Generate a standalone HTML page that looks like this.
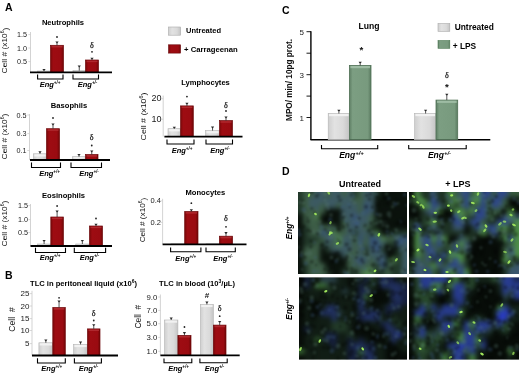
<!DOCTYPE html>
<html><head><meta charset="utf-8"><style>
html,body{margin:0;padding:0;background:#fff;}
svg{display:block;font-family:"Liberation Sans",sans-serif;filter:blur(0.35px);}
</style></head><body>
<svg width="520" height="374" viewBox="0 0 520 374">
<defs>
<linearGradient id="gr" x1="0" y1="0" x2="1" y2="0"><stop offset="0" stop-color="#780809"/><stop offset="0.2" stop-color="#9e0c12"/><stop offset="0.8" stop-color="#9a0b11"/><stop offset="1" stop-color="#700707"/></linearGradient>
<linearGradient id="gg" x1="0" y1="0" x2="1" y2="0"><stop offset="0" stop-color="#cfcfcf"/><stop offset="0.3" stop-color="#e2e2e2"/><stop offset="0.7" stop-color="#dadada"/><stop offset="1" stop-color="#c4c4c4"/></linearGradient>
<linearGradient id="gn" x1="0" y1="0" x2="1" y2="0"><stop offset="0" stop-color="#5e7e64"/><stop offset="0.15" stop-color="#7c9e82"/><stop offset="0.85" stop-color="#789a7e"/><stop offset="1" stop-color="#5a7a60"/></linearGradient>
<filter id="fb" x="-5%" y="-5%" width="110%" height="110%" color-interpolation-filters="sRGB"><feGaussianBlur stdDeviation="2.6"/></filter>
<filter id="ft" x="-5%" y="-5%" width="110%" height="110%" color-interpolation-filters="sRGB"><feGaussianBlur stdDeviation="1.3"/></filter>
<filter id="fs" x="-50%" y="-50%" width="200%" height="200%" color-interpolation-filters="sRGB"><feGaussianBlur stdDeviation="0.7"/></filter>
<clipPath id="cTL"><rect x="298" y="192" width="109" height="82"/></clipPath><clipPath id="cTR"><rect x="409" y="192" width="110" height="82"/></clipPath><clipPath id="cBL"><rect x="299" y="277.5" width="108" height="82.0"/></clipPath><clipPath id="cBR"><rect x="409" y="277.5" width="110" height="82.0"/></clipPath>
</defs>
<rect width="520" height="374" fill="#fff"/>
<g clip-path="url(#cTL)">
<rect x="298" y="192" width="109" height="82" fill="#22382a"/>
<g filter="url(#fb)">
<rect x="292.0" y="186.0" width="11.8" height="11.8" fill="#22382a"/>
<rect x="303.4" y="186.0" width="5.8" height="11.8" fill="#3e5e48"/>
<rect x="308.9" y="186.0" width="5.8" height="11.8" fill="#3e5e48"/>
<rect x="314.4" y="186.0" width="5.8" height="11.8" fill="#3d5a64"/>
<rect x="319.8" y="186.0" width="5.8" height="11.8" fill="#3d5a64"/>
<rect x="325.2" y="186.0" width="5.8" height="11.8" fill="#3e5e48"/>
<rect x="330.7" y="186.0" width="5.8" height="11.8" fill="#3d5a64"/>
<rect x="336.1" y="186.0" width="5.8" height="11.8" fill="#3d5a64"/>
<rect x="341.6" y="186.0" width="5.8" height="11.8" fill="#3e5e48"/>
<rect x="347.1" y="186.0" width="5.8" height="11.8" fill="#3d5a64"/>
<rect x="352.5" y="186.0" width="5.8" height="11.8" fill="#22382a"/>
<rect x="357.9" y="186.0" width="5.8" height="11.8" fill="#3e5e48"/>
<rect x="363.4" y="186.0" width="5.8" height="11.8" fill="#3d5a64"/>
<rect x="368.9" y="186.0" width="5.8" height="11.8" fill="#3d5a64"/>
<rect x="374.3" y="186.0" width="5.8" height="11.8" fill="#22382a"/>
<rect x="379.8" y="186.0" width="5.8" height="11.8" fill="#0a110c"/>
<rect x="385.2" y="186.0" width="5.8" height="11.8" fill="#0a110c"/>
<rect x="390.6" y="186.0" width="5.8" height="11.8" fill="#0a110c"/>
<rect x="396.1" y="186.0" width="5.8" height="11.8" fill="#0a110c"/>
<rect x="401.6" y="186.0" width="11.8" height="11.8" fill="#0a110c"/>
<rect x="292.0" y="197.5" width="11.8" height="5.8" fill="#22382a"/>
<rect x="303.4" y="197.5" width="5.8" height="5.8" fill="#3e5e48"/>
<rect x="308.9" y="197.5" width="5.8" height="5.8" fill="#3d5a64"/>
<rect x="314.4" y="197.5" width="5.8" height="5.8" fill="#3d5a64"/>
<rect x="319.8" y="197.5" width="5.8" height="5.8" fill="#3d5a64"/>
<rect x="325.2" y="197.5" width="5.8" height="5.8" fill="#3d5a64"/>
<rect x="330.7" y="197.5" width="5.8" height="5.8" fill="#3d5a64"/>
<rect x="336.1" y="197.5" width="5.8" height="5.8" fill="#3d5a64"/>
<rect x="341.6" y="197.5" width="5.8" height="5.8" fill="#3d5a64"/>
<rect x="347.1" y="197.5" width="5.8" height="5.8" fill="#3d5a64"/>
<rect x="352.5" y="197.5" width="5.8" height="5.8" fill="#3e5e48"/>
<rect x="357.9" y="197.5" width="5.8" height="5.8" fill="#3e5e48"/>
<rect x="363.4" y="197.5" width="5.8" height="5.8" fill="#3d5a64"/>
<rect x="368.9" y="197.5" width="5.8" height="5.8" fill="#3d5a64"/>
<rect x="374.3" y="197.5" width="5.8" height="5.8" fill="#0a110c"/>
<rect x="379.8" y="197.5" width="5.8" height="5.8" fill="#0a110c"/>
<rect x="385.2" y="197.5" width="5.8" height="5.8" fill="#0a110c"/>
<rect x="390.6" y="197.5" width="5.8" height="5.8" fill="#0a110c"/>
<rect x="396.1" y="197.5" width="5.8" height="5.8" fill="#0a110c"/>
<rect x="401.6" y="197.5" width="11.8" height="5.8" fill="#0a110c"/>
<rect x="292.0" y="202.9" width="11.8" height="5.8" fill="#22382a"/>
<rect x="303.4" y="202.9" width="5.8" height="5.8" fill="#3e5e48"/>
<rect x="308.9" y="202.9" width="5.8" height="5.8" fill="#3d5a64"/>
<rect x="314.4" y="202.9" width="5.8" height="5.8" fill="#3d5a64"/>
<rect x="319.8" y="202.9" width="5.8" height="5.8" fill="#3e5e48"/>
<rect x="325.2" y="202.9" width="5.8" height="5.8" fill="#3d5a64"/>
<rect x="330.7" y="202.9" width="5.8" height="5.8" fill="#3d5a64"/>
<rect x="336.1" y="202.9" width="5.8" height="5.8" fill="#3e5e48"/>
<rect x="341.6" y="202.9" width="5.8" height="5.8" fill="#3d5a64"/>
<rect x="347.1" y="202.9" width="5.8" height="5.8" fill="#3d5a64"/>
<rect x="352.5" y="202.9" width="5.8" height="5.8" fill="#3d5a64"/>
<rect x="357.9" y="202.9" width="5.8" height="5.8" fill="#3e5e48"/>
<rect x="363.4" y="202.9" width="5.8" height="5.8" fill="#365276"/>
<rect x="368.9" y="202.9" width="5.8" height="5.8" fill="#3d5a64"/>
<rect x="374.3" y="202.9" width="5.8" height="5.8" fill="#0a110c"/>
<rect x="379.8" y="202.9" width="5.8" height="5.8" fill="#0a110c"/>
<rect x="385.2" y="202.9" width="5.8" height="5.8" fill="#0a110c"/>
<rect x="390.6" y="202.9" width="5.8" height="5.8" fill="#0a110c"/>
<rect x="396.1" y="202.9" width="5.8" height="5.8" fill="#0a110c"/>
<rect x="401.6" y="202.9" width="11.8" height="5.8" fill="#0a110c"/>
<rect x="292.0" y="208.4" width="11.8" height="5.8" fill="#22382a"/>
<rect x="303.4" y="208.4" width="5.8" height="5.8" fill="#3e5e48"/>
<rect x="308.9" y="208.4" width="5.8" height="5.8" fill="#3e5e48"/>
<rect x="314.4" y="208.4" width="5.8" height="5.8" fill="#3e5e48"/>
<rect x="319.8" y="208.4" width="5.8" height="5.8" fill="#3e5e48"/>
<rect x="325.2" y="208.4" width="5.8" height="5.8" fill="#0a110c"/>
<rect x="330.7" y="208.4" width="5.8" height="5.8" fill="#0a110c"/>
<rect x="336.1" y="208.4" width="5.8" height="5.8" fill="#0a110c"/>
<rect x="341.6" y="208.4" width="5.8" height="5.8" fill="#3d5a64"/>
<rect x="347.1" y="208.4" width="5.8" height="5.8" fill="#3d5a64"/>
<rect x="352.5" y="208.4" width="5.8" height="5.8" fill="#3d5a64"/>
<rect x="357.9" y="208.4" width="5.8" height="5.8" fill="#3e5e48"/>
<rect x="363.4" y="208.4" width="5.8" height="5.8" fill="#365276"/>
<rect x="368.9" y="208.4" width="5.8" height="5.8" fill="#3d5a64"/>
<rect x="374.3" y="208.4" width="5.8" height="5.8" fill="#0a110c"/>
<rect x="379.8" y="208.4" width="5.8" height="5.8" fill="#0a110c"/>
<rect x="385.2" y="208.4" width="5.8" height="5.8" fill="#0a110c"/>
<rect x="390.6" y="208.4" width="5.8" height="5.8" fill="#0a110c"/>
<rect x="396.1" y="208.4" width="5.8" height="5.8" fill="#0a110c"/>
<rect x="401.6" y="208.4" width="11.8" height="5.8" fill="#0a110c"/>
<rect x="292.0" y="213.9" width="11.8" height="5.8" fill="#0a110c"/>
<rect x="303.4" y="213.9" width="5.8" height="5.8" fill="#3e5e48"/>
<rect x="308.9" y="213.9" width="5.8" height="5.8" fill="#3e5e48"/>
<rect x="314.4" y="213.9" width="5.8" height="5.8" fill="#508450"/>
<rect x="319.8" y="213.9" width="5.8" height="5.8" fill="#0a110c"/>
<rect x="325.2" y="213.9" width="5.8" height="5.8" fill="#0a110c"/>
<rect x="330.7" y="213.9" width="5.8" height="5.8" fill="#0a110c"/>
<rect x="336.1" y="213.9" width="5.8" height="5.8" fill="#0a110c"/>
<rect x="341.6" y="213.9" width="5.8" height="5.8" fill="#3d5a64"/>
<rect x="347.1" y="213.9" width="5.8" height="5.8" fill="#3d5a64"/>
<rect x="352.5" y="213.9" width="5.8" height="5.8" fill="#365276"/>
<rect x="357.9" y="213.9" width="5.8" height="5.8" fill="#3d5a64"/>
<rect x="363.4" y="213.9" width="5.8" height="5.8" fill="#3d5a64"/>
<rect x="368.9" y="213.9" width="5.8" height="5.8" fill="#3e5e48"/>
<rect x="374.3" y="213.9" width="5.8" height="5.8" fill="#0a110c"/>
<rect x="379.8" y="213.9" width="5.8" height="5.8" fill="#0a110c"/>
<rect x="385.2" y="213.9" width="5.8" height="5.8" fill="#0a110c"/>
<rect x="390.6" y="213.9" width="5.8" height="5.8" fill="#0a110c"/>
<rect x="396.1" y="213.9" width="5.8" height="5.8" fill="#0a110c"/>
<rect x="401.6" y="213.9" width="11.8" height="5.8" fill="#0a110c"/>
<rect x="292.0" y="219.3" width="11.8" height="5.8" fill="#0a110c"/>
<rect x="303.4" y="219.3" width="5.8" height="5.8" fill="#3e5e48"/>
<rect x="308.9" y="219.3" width="5.8" height="5.8" fill="#3e5e48"/>
<rect x="314.4" y="219.3" width="5.8" height="5.8" fill="#3e5e48"/>
<rect x="319.8" y="219.3" width="5.8" height="5.8" fill="#0a110c"/>
<rect x="325.2" y="219.3" width="5.8" height="5.8" fill="#0a110c"/>
<rect x="330.7" y="219.3" width="5.8" height="5.8" fill="#0a110c"/>
<rect x="336.1" y="219.3" width="5.8" height="5.8" fill="#0a110c"/>
<rect x="341.6" y="219.3" width="5.8" height="5.8" fill="#3e5e48"/>
<rect x="347.1" y="219.3" width="5.8" height="5.8" fill="#3d5a64"/>
<rect x="352.5" y="219.3" width="5.8" height="5.8" fill="#365276"/>
<rect x="357.9" y="219.3" width="5.8" height="5.8" fill="#3d5a64"/>
<rect x="363.4" y="219.3" width="5.8" height="5.8" fill="#3d5a64"/>
<rect x="368.9" y="219.3" width="5.8" height="5.8" fill="#3e5e48"/>
<rect x="374.3" y="219.3" width="5.8" height="5.8" fill="#22382a"/>
<rect x="379.8" y="219.3" width="5.8" height="5.8" fill="#0a110c"/>
<rect x="385.2" y="219.3" width="5.8" height="5.8" fill="#0a110c"/>
<rect x="390.6" y="219.3" width="5.8" height="5.8" fill="#0a110c"/>
<rect x="396.1" y="219.3" width="5.8" height="5.8" fill="#0a110c"/>
<rect x="401.6" y="219.3" width="11.8" height="5.8" fill="#0a110c"/>
<rect x="292.0" y="224.8" width="11.8" height="5.8" fill="#0a110c"/>
<rect x="303.4" y="224.8" width="5.8" height="5.8" fill="#22382a"/>
<rect x="308.9" y="224.8" width="5.8" height="5.8" fill="#3e5e48"/>
<rect x="314.4" y="224.8" width="5.8" height="5.8" fill="#3e5e48"/>
<rect x="319.8" y="224.8" width="5.8" height="5.8" fill="#3e5e48"/>
<rect x="325.2" y="224.8" width="5.8" height="5.8" fill="#3e5e48"/>
<rect x="330.7" y="224.8" width="5.8" height="5.8" fill="#3e5e48"/>
<rect x="336.1" y="224.8" width="5.8" height="5.8" fill="#0a110c"/>
<rect x="341.6" y="224.8" width="5.8" height="5.8" fill="#3e5e48"/>
<rect x="347.1" y="224.8" width="5.8" height="5.8" fill="#3d5a64"/>
<rect x="352.5" y="224.8" width="5.8" height="5.8" fill="#3d5a64"/>
<rect x="357.9" y="224.8" width="5.8" height="5.8" fill="#3d5a64"/>
<rect x="363.4" y="224.8" width="5.8" height="5.8" fill="#3e5e48"/>
<rect x="368.9" y="224.8" width="5.8" height="5.8" fill="#22382a"/>
<rect x="374.3" y="224.8" width="5.8" height="5.8" fill="#0a110c"/>
<rect x="379.8" y="224.8" width="5.8" height="5.8" fill="#0a110c"/>
<rect x="385.2" y="224.8" width="5.8" height="5.8" fill="#0a110c"/>
<rect x="390.6" y="224.8" width="5.8" height="5.8" fill="#0a110c"/>
<rect x="396.1" y="224.8" width="5.8" height="5.8" fill="#0a110c"/>
<rect x="401.6" y="224.8" width="11.8" height="5.8" fill="#0a110c"/>
<rect x="292.0" y="230.3" width="11.8" height="5.8" fill="#0a110c"/>
<rect x="303.4" y="230.3" width="5.8" height="5.8" fill="#22382a"/>
<rect x="308.9" y="230.3" width="5.8" height="5.8" fill="#3e5e48"/>
<rect x="314.4" y="230.3" width="5.8" height="5.8" fill="#3e5e48"/>
<rect x="319.8" y="230.3" width="5.8" height="5.8" fill="#365276"/>
<rect x="325.2" y="230.3" width="5.8" height="5.8" fill="#3d5a64"/>
<rect x="330.7" y="230.3" width="5.8" height="5.8" fill="#508450"/>
<rect x="336.1" y="230.3" width="5.8" height="5.8" fill="#3e5e48"/>
<rect x="341.6" y="230.3" width="5.8" height="5.8" fill="#3e5e48"/>
<rect x="347.1" y="230.3" width="5.8" height="5.8" fill="#3d5a64"/>
<rect x="352.5" y="230.3" width="5.8" height="5.8" fill="#22382a"/>
<rect x="357.9" y="230.3" width="5.8" height="5.8" fill="#3d5a64"/>
<rect x="363.4" y="230.3" width="5.8" height="5.8" fill="#3d5a64"/>
<rect x="368.9" y="230.3" width="5.8" height="5.8" fill="#22382a"/>
<rect x="374.3" y="230.3" width="5.8" height="5.8" fill="#508450"/>
<rect x="379.8" y="230.3" width="5.8" height="5.8" fill="#0a110c"/>
<rect x="385.2" y="230.3" width="5.8" height="5.8" fill="#0a110c"/>
<rect x="390.6" y="230.3" width="5.8" height="5.8" fill="#22382a"/>
<rect x="396.1" y="230.3" width="5.8" height="5.8" fill="#22382a"/>
<rect x="401.6" y="230.3" width="11.8" height="5.8" fill="#22382a"/>
<rect x="292.0" y="235.7" width="11.8" height="5.8" fill="#0a110c"/>
<rect x="303.4" y="235.7" width="5.8" height="5.8" fill="#22382a"/>
<rect x="308.9" y="235.7" width="5.8" height="5.8" fill="#22382a"/>
<rect x="314.4" y="235.7" width="5.8" height="5.8" fill="#22382a"/>
<rect x="319.8" y="235.7" width="5.8" height="5.8" fill="#3e5e48"/>
<rect x="325.2" y="235.7" width="5.8" height="5.8" fill="#3d5a64"/>
<rect x="330.7" y="235.7" width="5.8" height="5.8" fill="#3d5a64"/>
<rect x="336.1" y="235.7" width="5.8" height="5.8" fill="#508450"/>
<rect x="341.6" y="235.7" width="5.8" height="5.8" fill="#3d5a64"/>
<rect x="347.1" y="235.7" width="5.8" height="5.8" fill="#3d5a64"/>
<rect x="352.5" y="235.7" width="5.8" height="5.8" fill="#3e5e48"/>
<rect x="357.9" y="235.7" width="5.8" height="5.8" fill="#365276"/>
<rect x="363.4" y="235.7" width="5.8" height="5.8" fill="#3e5e48"/>
<rect x="368.9" y="235.7" width="5.8" height="5.8" fill="#365276"/>
<rect x="374.3" y="235.7" width="5.8" height="5.8" fill="#365276"/>
<rect x="379.8" y="235.7" width="5.8" height="5.8" fill="#508450"/>
<rect x="385.2" y="235.7" width="5.8" height="5.8" fill="#3e5e48"/>
<rect x="390.6" y="235.7" width="5.8" height="5.8" fill="#3e5e48"/>
<rect x="396.1" y="235.7" width="5.8" height="5.8" fill="#365276"/>
<rect x="401.6" y="235.7" width="11.8" height="5.8" fill="#365276"/>
<rect x="292.0" y="241.2" width="11.8" height="5.8" fill="#0a110c"/>
<rect x="303.4" y="241.2" width="5.8" height="5.8" fill="#22382a"/>
<rect x="308.9" y="241.2" width="5.8" height="5.8" fill="#22382a"/>
<rect x="314.4" y="241.2" width="5.8" height="5.8" fill="#3e5e48"/>
<rect x="319.8" y="241.2" width="5.8" height="5.8" fill="#22382a"/>
<rect x="325.2" y="241.2" width="5.8" height="5.8" fill="#3d5a64"/>
<rect x="330.7" y="241.2" width="5.8" height="5.8" fill="#3e5e48"/>
<rect x="336.1" y="241.2" width="5.8" height="5.8" fill="#508450"/>
<rect x="341.6" y="241.2" width="5.8" height="5.8" fill="#3d5a64"/>
<rect x="347.1" y="241.2" width="5.8" height="5.8" fill="#3d5a64"/>
<rect x="352.5" y="241.2" width="5.8" height="5.8" fill="#3e5e48"/>
<rect x="357.9" y="241.2" width="5.8" height="5.8" fill="#3d5a64"/>
<rect x="363.4" y="241.2" width="5.8" height="5.8" fill="#3e5e48"/>
<rect x="368.9" y="241.2" width="5.8" height="5.8" fill="#365276"/>
<rect x="374.3" y="241.2" width="5.8" height="5.8" fill="#365276"/>
<rect x="379.8" y="241.2" width="5.8" height="5.8" fill="#3d5a64"/>
<rect x="385.2" y="241.2" width="5.8" height="5.8" fill="#22382a"/>
<rect x="390.6" y="241.2" width="5.8" height="5.8" fill="#22382a"/>
<rect x="396.1" y="241.2" width="5.8" height="5.8" fill="#365276"/>
<rect x="401.6" y="241.2" width="11.8" height="5.8" fill="#3d5a64"/>
<rect x="292.0" y="246.7" width="11.8" height="5.8" fill="#0a110c"/>
<rect x="303.4" y="246.7" width="5.8" height="5.8" fill="#3e5e48"/>
<rect x="308.9" y="246.7" width="5.8" height="5.8" fill="#3e5e48"/>
<rect x="314.4" y="246.7" width="5.8" height="5.8" fill="#3e5e48"/>
<rect x="319.8" y="246.7" width="5.8" height="5.8" fill="#0a110c"/>
<rect x="325.2" y="246.7" width="5.8" height="5.8" fill="#22382a"/>
<rect x="330.7" y="246.7" width="5.8" height="5.8" fill="#3d5a64"/>
<rect x="336.1" y="246.7" width="5.8" height="5.8" fill="#3d5a64"/>
<rect x="341.6" y="246.7" width="5.8" height="5.8" fill="#3d5a64"/>
<rect x="347.1" y="246.7" width="5.8" height="5.8" fill="#3d5a64"/>
<rect x="352.5" y="246.7" width="5.8" height="5.8" fill="#3e5e48"/>
<rect x="357.9" y="246.7" width="5.8" height="5.8" fill="#3d5a64"/>
<rect x="363.4" y="246.7" width="5.8" height="5.8" fill="#22382a"/>
<rect x="368.9" y="246.7" width="5.8" height="5.8" fill="#3d5a64"/>
<rect x="374.3" y="246.7" width="5.8" height="5.8" fill="#365276"/>
<rect x="379.8" y="246.7" width="5.8" height="5.8" fill="#22382a"/>
<rect x="385.2" y="246.7" width="5.8" height="5.8" fill="#0a110c"/>
<rect x="390.6" y="246.7" width="5.8" height="5.8" fill="#0a110c"/>
<rect x="396.1" y="246.7" width="5.8" height="5.8" fill="#22382a"/>
<rect x="401.6" y="246.7" width="11.8" height="5.8" fill="#3d5a64"/>
<rect x="292.0" y="252.1" width="11.8" height="5.8" fill="#0a110c"/>
<rect x="303.4" y="252.1" width="5.8" height="5.8" fill="#3e5e48"/>
<rect x="308.9" y="252.1" width="5.8" height="5.8" fill="#3e5e48"/>
<rect x="314.4" y="252.1" width="5.8" height="5.8" fill="#3e5e48"/>
<rect x="319.8" y="252.1" width="5.8" height="5.8" fill="#0a110c"/>
<rect x="325.2" y="252.1" width="5.8" height="5.8" fill="#0a110c"/>
<rect x="330.7" y="252.1" width="5.8" height="5.8" fill="#0a110c"/>
<rect x="336.1" y="252.1" width="5.8" height="5.8" fill="#0a110c"/>
<rect x="341.6" y="252.1" width="5.8" height="5.8" fill="#3d5a64"/>
<rect x="347.1" y="252.1" width="5.8" height="5.8" fill="#3e5e48"/>
<rect x="352.5" y="252.1" width="5.8" height="5.8" fill="#3e5e48"/>
<rect x="357.9" y="252.1" width="5.8" height="5.8" fill="#3d5a64"/>
<rect x="363.4" y="252.1" width="5.8" height="5.8" fill="#3e5e48"/>
<rect x="368.9" y="252.1" width="5.8" height="5.8" fill="#3d5a64"/>
<rect x="374.3" y="252.1" width="5.8" height="5.8" fill="#3d5a64"/>
<rect x="379.8" y="252.1" width="5.8" height="5.8" fill="#3d5a64"/>
<rect x="385.2" y="252.1" width="5.8" height="5.8" fill="#0a110c"/>
<rect x="390.6" y="252.1" width="5.8" height="5.8" fill="#0a110c"/>
<rect x="396.1" y="252.1" width="5.8" height="5.8" fill="#22382a"/>
<rect x="401.6" y="252.1" width="11.8" height="5.8" fill="#3d5a64"/>
<rect x="292.0" y="257.6" width="11.8" height="5.8" fill="#0a110c"/>
<rect x="303.4" y="257.6" width="5.8" height="5.8" fill="#3e5e48"/>
<rect x="308.9" y="257.6" width="5.8" height="5.8" fill="#3e5e48"/>
<rect x="314.4" y="257.6" width="5.8" height="5.8" fill="#3e5e48"/>
<rect x="319.8" y="257.6" width="5.8" height="5.8" fill="#0a110c"/>
<rect x="325.2" y="257.6" width="5.8" height="5.8" fill="#0a110c"/>
<rect x="330.7" y="257.6" width="5.8" height="5.8" fill="#0a110c"/>
<rect x="336.1" y="257.6" width="5.8" height="5.8" fill="#0a110c"/>
<rect x="341.6" y="257.6" width="5.8" height="5.8" fill="#0a110c"/>
<rect x="347.1" y="257.6" width="5.8" height="5.8" fill="#3e5e48"/>
<rect x="352.5" y="257.6" width="5.8" height="5.8" fill="#3d5a64"/>
<rect x="357.9" y="257.6" width="5.8" height="5.8" fill="#365276"/>
<rect x="363.4" y="257.6" width="5.8" height="5.8" fill="#3d5a64"/>
<rect x="368.9" y="257.6" width="5.8" height="5.8" fill="#3e5e48"/>
<rect x="374.3" y="257.6" width="5.8" height="5.8" fill="#3d5a64"/>
<rect x="379.8" y="257.6" width="5.8" height="5.8" fill="#365276"/>
<rect x="385.2" y="257.6" width="5.8" height="5.8" fill="#22382a"/>
<rect x="390.6" y="257.6" width="5.8" height="5.8" fill="#508450"/>
<rect x="396.1" y="257.6" width="5.8" height="5.8" fill="#22382a"/>
<rect x="401.6" y="257.6" width="11.8" height="5.8" fill="#3d5a64"/>
<rect x="292.0" y="263.1" width="11.8" height="5.8" fill="#0a110c"/>
<rect x="303.4" y="263.1" width="5.8" height="5.8" fill="#22382a"/>
<rect x="308.9" y="263.1" width="5.8" height="5.8" fill="#3e5e48"/>
<rect x="314.4" y="263.1" width="5.8" height="5.8" fill="#3e5e48"/>
<rect x="319.8" y="263.1" width="5.8" height="5.8" fill="#3e5e48"/>
<rect x="325.2" y="263.1" width="5.8" height="5.8" fill="#0a110c"/>
<rect x="330.7" y="263.1" width="5.8" height="5.8" fill="#0a110c"/>
<rect x="336.1" y="263.1" width="5.8" height="5.8" fill="#0a110c"/>
<rect x="341.6" y="263.1" width="5.8" height="5.8" fill="#0a110c"/>
<rect x="347.1" y="263.1" width="5.8" height="5.8" fill="#3e5e48"/>
<rect x="352.5" y="263.1" width="5.8" height="5.8" fill="#3e5e48"/>
<rect x="357.9" y="263.1" width="5.8" height="5.8" fill="#3d5a64"/>
<rect x="363.4" y="263.1" width="5.8" height="5.8" fill="#3e5e48"/>
<rect x="368.9" y="263.1" width="5.8" height="5.8" fill="#3e5e48"/>
<rect x="374.3" y="263.1" width="5.8" height="5.8" fill="#22382a"/>
<rect x="379.8" y="263.1" width="5.8" height="5.8" fill="#365276"/>
<rect x="385.2" y="263.1" width="5.8" height="5.8" fill="#22382a"/>
<rect x="390.6" y="263.1" width="5.8" height="5.8" fill="#22382a"/>
<rect x="396.1" y="263.1" width="5.8" height="5.8" fill="#22382a"/>
<rect x="401.6" y="263.1" width="11.8" height="5.8" fill="#3d5a64"/>
<rect x="292.0" y="268.5" width="11.8" height="11.8" fill="#0a110c"/>
<rect x="303.4" y="268.5" width="5.8" height="11.8" fill="#22382a"/>
<rect x="308.9" y="268.5" width="5.8" height="11.8" fill="#3e5e48"/>
<rect x="314.4" y="268.5" width="5.8" height="11.8" fill="#3e5e48"/>
<rect x="319.8" y="268.5" width="5.8" height="11.8" fill="#3e5e48"/>
<rect x="325.2" y="268.5" width="5.8" height="11.8" fill="#22382a"/>
<rect x="330.7" y="268.5" width="5.8" height="11.8" fill="#0a110c"/>
<rect x="336.1" y="268.5" width="5.8" height="11.8" fill="#0a110c"/>
<rect x="341.6" y="268.5" width="5.8" height="11.8" fill="#22382a"/>
<rect x="347.1" y="268.5" width="5.8" height="11.8" fill="#3e5e48"/>
<rect x="352.5" y="268.5" width="5.8" height="11.8" fill="#22382a"/>
<rect x="357.9" y="268.5" width="5.8" height="11.8" fill="#3e5e48"/>
<rect x="363.4" y="268.5" width="5.8" height="11.8" fill="#508450"/>
<rect x="368.9" y="268.5" width="5.8" height="11.8" fill="#508450"/>
<rect x="374.3" y="268.5" width="5.8" height="11.8" fill="#22382a"/>
<rect x="379.8" y="268.5" width="5.8" height="11.8" fill="#22382a"/>
<rect x="385.2" y="268.5" width="5.8" height="11.8" fill="#3e5e48"/>
<rect x="390.6" y="268.5" width="5.8" height="11.8" fill="#22382a"/>
<rect x="396.1" y="268.5" width="5.8" height="11.8" fill="#22382a"/>
<rect x="401.6" y="268.5" width="11.8" height="11.8" fill="#3d5a64"/>
</g><g filter="url(#ft)" opacity="0.3">
<circle cx="365.9" cy="252.8" r="2.2" fill="#000"/>
<circle cx="389.6" cy="255.6" r="1.5" fill="#000"/>
<circle cx="396.2" cy="201.3" r="1.8" fill="#000"/>
<circle cx="339.5" cy="200.4" r="1.5" fill="#000"/>
<circle cx="342.5" cy="206.9" r="2.2" fill="#40608a"/>
<circle cx="315.4" cy="257.4" r="1.4" fill="#40608a"/>
<circle cx="311.8" cy="192.1" r="2.2" fill="#000"/>
<circle cx="382.3" cy="270.7" r="1.4" fill="#000"/>
<circle cx="329.5" cy="270.8" r="1.8" fill="#000"/>
<circle cx="317.8" cy="271.4" r="1.4" fill="#40608a"/>
<circle cx="330.6" cy="221.6" r="1.4" fill="#000"/>
<circle cx="326.8" cy="219.2" r="2.2" fill="#000"/>
<circle cx="363.0" cy="250.0" r="1.3" fill="#5a7a70"/>
<circle cx="387.2" cy="231.4" r="1.6" fill="#40608a"/>
<circle cx="349.5" cy="206.4" r="1.5" fill="#000"/>
<circle cx="401.5" cy="221.3" r="1.7" fill="#40608a"/>
<circle cx="337.9" cy="239.4" r="1.2" fill="#000"/>
<circle cx="375.1" cy="243.1" r="2.3" fill="#000"/>
<circle cx="380.4" cy="268.2" r="2.3" fill="#5a7a70"/>
<circle cx="353.9" cy="265.2" r="1.5" fill="#40608a"/>
<circle cx="309.8" cy="253.4" r="2.2" fill="#5a7a70"/>
<circle cx="302.0" cy="269.6" r="1.3" fill="#5a7a70"/>
<circle cx="353.9" cy="221.7" r="1.4" fill="#5a7a70"/>
<circle cx="398.7" cy="236.7" r="1.6" fill="#5a7a70"/>
<circle cx="331.4" cy="257.5" r="2.0" fill="#5a7a70"/>
<circle cx="406.6" cy="205.2" r="1.3" fill="#40608a"/>
<circle cx="301.5" cy="252.7" r="1.6" fill="#5a7a70"/>
<circle cx="347.7" cy="226.6" r="1.3" fill="#000"/>
<circle cx="385.4" cy="219.4" r="1.4" fill="#000"/>
<circle cx="366.7" cy="256.6" r="1.3" fill="#40608a"/>
<circle cx="338.7" cy="196.8" r="1.7" fill="#000"/>
<circle cx="347.4" cy="273.9" r="2.2" fill="#40608a"/>
<circle cx="402.7" cy="248.5" r="1.6" fill="#5a7a70"/>
<circle cx="329.7" cy="225.1" r="1.4" fill="#40608a"/>
<circle cx="387.6" cy="235.6" r="1.4" fill="#40608a"/>
<circle cx="392.6" cy="206.8" r="1.8" fill="#5a7a70"/>
<circle cx="304.9" cy="257.2" r="1.6" fill="#000"/>
<circle cx="380.8" cy="221.8" r="2.0" fill="#5a7a70"/>
<circle cx="389.0" cy="213.7" r="2.4" fill="#5a7a70"/>
<circle cx="402.3" cy="219.9" r="1.4" fill="#000"/>
<circle cx="349.7" cy="255.4" r="1.6" fill="#5a7a70"/>
<circle cx="348.5" cy="259.0" r="2.0" fill="#5a7a70"/>
<circle cx="335.9" cy="244.8" r="2.1" fill="#40608a"/>
<circle cx="336.2" cy="261.1" r="2.2" fill="#40608a"/>
<circle cx="404.4" cy="270.4" r="1.8" fill="#000"/>
<circle cx="319.7" cy="221.7" r="2.2" fill="#5a7a70"/>
<circle cx="373.4" cy="251.0" r="2.1" fill="#000"/>
<circle cx="365.2" cy="268.8" r="1.8" fill="#40608a"/>
<circle cx="331.0" cy="237.4" r="2.2" fill="#5a7a70"/>
<circle cx="376.5" cy="194.3" r="1.4" fill="#40608a"/>
<circle cx="366.0" cy="206.8" r="2.1" fill="#000"/>
<circle cx="366.8" cy="195.4" r="1.8" fill="#000"/>
<circle cx="316.1" cy="265.1" r="1.3" fill="#000"/>
<circle cx="350.6" cy="237.0" r="1.7" fill="#5a7a70"/>
<circle cx="339.5" cy="242.2" r="1.9" fill="#000"/>
<circle cx="376.3" cy="222.7" r="1.6" fill="#5a7a70"/>
<circle cx="391.3" cy="263.0" r="2.0" fill="#5a7a70"/>
<circle cx="403.1" cy="237.1" r="1.6" fill="#5a7a70"/>
<circle cx="357.4" cy="219.8" r="1.9" fill="#5a7a70"/>
<circle cx="387.2" cy="226.4" r="2.2" fill="#5a7a70"/>
<circle cx="349.0" cy="204.9" r="1.7" fill="#40608a"/>
<circle cx="402.3" cy="271.4" r="1.9" fill="#5a7a70"/>
<circle cx="387.5" cy="246.3" r="1.7" fill="#5a7a70"/>
<circle cx="359.7" cy="242.4" r="1.4" fill="#40608a"/>
<circle cx="344.8" cy="272.1" r="1.8" fill="#40608a"/>
<circle cx="404.0" cy="223.1" r="2.4" fill="#000"/>
<circle cx="362.9" cy="213.3" r="2.4" fill="#40608a"/>
<circle cx="325.4" cy="193.6" r="2.3" fill="#5a7a70"/>
<circle cx="351.6" cy="215.5" r="1.8" fill="#000"/>
<circle cx="369.9" cy="270.8" r="1.5" fill="#000"/>
<circle cx="383.2" cy="259.8" r="1.2" fill="#5a7a70"/>
<circle cx="324.5" cy="230.9" r="1.2" fill="#40608a"/>
<circle cx="327.2" cy="204.7" r="2.4" fill="#5a7a70"/>
<circle cx="351.7" cy="273.4" r="1.8" fill="#000"/>
<circle cx="299.8" cy="202.3" r="1.5" fill="#5a7a70"/>
<circle cx="364.9" cy="252.0" r="1.2" fill="#5a7a70"/>
<circle cx="337.4" cy="253.1" r="1.9" fill="#000"/>
<circle cx="298.3" cy="237.4" r="2.0" fill="#000"/>
<circle cx="394.8" cy="236.7" r="1.2" fill="#40608a"/>
<circle cx="362.8" cy="248.5" r="2.3" fill="#40608a"/>
<circle cx="391.6" cy="261.0" r="1.8" fill="#000"/>
<circle cx="396.0" cy="230.1" r="2.1" fill="#5a7a70"/>
<circle cx="389.2" cy="249.0" r="1.7" fill="#5a7a70"/>
<circle cx="368.7" cy="230.7" r="1.6" fill="#000"/>
<circle cx="350.1" cy="237.0" r="1.8" fill="#5a7a70"/>
<circle cx="356.6" cy="226.9" r="1.8" fill="#000"/>
<circle cx="305.5" cy="210.9" r="2.2" fill="#000"/>
<circle cx="370.3" cy="194.1" r="2.1" fill="#000"/>
<circle cx="406.8" cy="249.5" r="1.3" fill="#000"/>
<circle cx="321.9" cy="245.0" r="2.3" fill="#000"/>
<circle cx="406.4" cy="249.9" r="1.7" fill="#000"/>
<circle cx="364.6" cy="225.9" r="1.4" fill="#000"/>
<circle cx="302.7" cy="200.9" r="1.7" fill="#000"/>
<circle cx="328.5" cy="238.8" r="1.3" fill="#40608a"/>
<circle cx="393.8" cy="203.0" r="1.7" fill="#5a7a70"/>
<circle cx="372.7" cy="232.1" r="1.6" fill="#5a7a70"/>
<circle cx="397.7" cy="203.3" r="1.6" fill="#5a7a70"/>
<circle cx="397.2" cy="237.5" r="1.9" fill="#5a7a70"/>
<circle cx="304.9" cy="211.3" r="2.2" fill="#5a7a70"/>
<circle cx="354.4" cy="203.0" r="1.5" fill="#5a7a70"/>
<circle cx="347.4" cy="223.9" r="1.4" fill="#000"/>
<circle cx="369.4" cy="199.0" r="2.0" fill="#000"/>
<circle cx="392.1" cy="233.5" r="1.7" fill="#40608a"/>
<circle cx="393.6" cy="231.4" r="1.6" fill="#000"/>
<circle cx="357.1" cy="223.5" r="2.2" fill="#40608a"/>
<circle cx="372.2" cy="210.3" r="1.3" fill="#40608a"/>
<circle cx="387.4" cy="203.5" r="1.9" fill="#5a7a70"/>
<circle cx="389.1" cy="215.8" r="2.3" fill="#5a7a70"/>
<circle cx="384.8" cy="223.0" r="2.1" fill="#5a7a70"/>
<circle cx="368.6" cy="258.0" r="1.7" fill="#5a7a70"/>
<circle cx="354.4" cy="240.6" r="1.9" fill="#000"/>
<circle cx="341.1" cy="200.0" r="1.2" fill="#000"/>
<circle cx="319.3" cy="232.2" r="2.3" fill="#5a7a70"/>
<circle cx="298.0" cy="230.6" r="2.3" fill="#40608a"/>
<circle cx="333.2" cy="229.9" r="1.4" fill="#000"/>
<circle cx="305.8" cy="263.3" r="2.2" fill="#40608a"/>
<circle cx="314.6" cy="212.8" r="1.5" fill="#000"/>
<circle cx="379.8" cy="247.1" r="1.2" fill="#000"/>
<circle cx="335.5" cy="253.7" r="1.6" fill="#000"/>
<circle cx="373.0" cy="247.3" r="1.8" fill="#000"/>
<circle cx="310.9" cy="246.8" r="1.5" fill="#000"/>
<circle cx="377.5" cy="205.4" r="1.4" fill="#000"/>
<circle cx="360.6" cy="245.8" r="1.9" fill="#5a7a70"/>
<circle cx="372.2" cy="207.1" r="1.6" fill="#000"/>
<circle cx="377.8" cy="250.9" r="1.4" fill="#000"/>
<circle cx="317.1" cy="209.1" r="1.3" fill="#40608a"/>
<circle cx="377.2" cy="214.2" r="1.8" fill="#40608a"/>
<circle cx="382.9" cy="225.6" r="1.3" fill="#5a7a70"/>
<circle cx="400.4" cy="250.8" r="1.5" fill="#40608a"/>
<circle cx="308.0" cy="230.6" r="2.0" fill="#000"/>
<circle cx="352.2" cy="256.1" r="1.3" fill="#40608a"/>
<circle cx="346.6" cy="244.5" r="2.3" fill="#000"/>
<circle cx="317.6" cy="233.7" r="1.7" fill="#000"/>
<circle cx="307.2" cy="217.7" r="1.3" fill="#000"/>
<circle cx="363.2" cy="262.3" r="1.5" fill="#000"/>
<circle cx="346.1" cy="221.3" r="1.7" fill="#40608a"/>
<circle cx="354.9" cy="202.9" r="1.2" fill="#5a7a70"/>
<circle cx="373.1" cy="265.1" r="2.4" fill="#000"/>
<circle cx="313.1" cy="231.6" r="2.1" fill="#5a7a70"/>
<circle cx="387.3" cy="217.7" r="1.4" fill="#000"/>
<circle cx="349.4" cy="249.2" r="2.2" fill="#000"/>
<circle cx="328.1" cy="232.4" r="1.5" fill="#000"/>
<circle cx="384.8" cy="264.4" r="2.3" fill="#000"/>
<circle cx="343.8" cy="217.7" r="2.1" fill="#000"/>
<circle cx="395.7" cy="245.6" r="2.1" fill="#000"/>
<circle cx="346.2" cy="259.0" r="2.0" fill="#000"/>
<circle cx="377.4" cy="249.5" r="1.5" fill="#40608a"/>
<circle cx="359.3" cy="218.3" r="1.6" fill="#000"/>
<circle cx="326.6" cy="247.4" r="1.5" fill="#000"/>
<circle cx="357.1" cy="252.6" r="1.2" fill="#000"/>
<circle cx="303.5" cy="202.7" r="1.6" fill="#5a7a70"/>
<circle cx="401.5" cy="242.2" r="1.5" fill="#40608a"/>
<circle cx="311.7" cy="208.5" r="1.6" fill="#000"/>
<circle cx="361.7" cy="259.8" r="2.1" fill="#000"/>
<circle cx="327.2" cy="241.7" r="2.0" fill="#000"/>
<circle cx="346.6" cy="269.0" r="2.2" fill="#000"/>
<circle cx="334.3" cy="228.6" r="1.5" fill="#40608a"/>
<circle cx="316.7" cy="196.0" r="2.0" fill="#000"/>
<circle cx="356.1" cy="271.5" r="1.9" fill="#000"/>
<circle cx="311.8" cy="261.7" r="2.0" fill="#000"/>
<circle cx="404.6" cy="194.7" r="1.9" fill="#40608a"/>
<circle cx="374.9" cy="221.1" r="1.8" fill="#000"/>
<circle cx="328.2" cy="208.5" r="1.9" fill="#5a7a70"/>
<circle cx="381.3" cy="256.4" r="1.6" fill="#000"/>
<circle cx="386.8" cy="246.4" r="2.3" fill="#000"/>
<circle cx="365.4" cy="224.9" r="1.4" fill="#000"/>
<circle cx="351.4" cy="195.1" r="1.4" fill="#000"/>
<circle cx="380.1" cy="215.1" r="2.3" fill="#5a7a70"/>
<circle cx="350.0" cy="230.6" r="1.8" fill="#000"/>
<circle cx="385.2" cy="222.9" r="1.2" fill="#000"/>
<circle cx="386.6" cy="193.8" r="2.0" fill="#5a7a70"/>
<circle cx="354.0" cy="233.1" r="1.9" fill="#40608a"/>
<circle cx="347.0" cy="256.6" r="1.9" fill="#000"/>
<circle cx="356.5" cy="257.5" r="1.6" fill="#000"/>
<circle cx="372.1" cy="234.8" r="1.5" fill="#000"/>
<circle cx="301.0" cy="255.4" r="1.9" fill="#40608a"/>
<circle cx="331.4" cy="268.2" r="1.5" fill="#000"/>
<circle cx="305.9" cy="253.8" r="2.0" fill="#5a7a70"/>
<circle cx="395.8" cy="248.4" r="2.2" fill="#000"/>
<circle cx="350.7" cy="199.5" r="1.3" fill="#5a7a70"/>
<circle cx="404.2" cy="236.6" r="1.7" fill="#000"/>
<circle cx="371.2" cy="223.0" r="2.1" fill="#000"/>
<circle cx="397.2" cy="242.3" r="1.7" fill="#000"/>
<circle cx="389.9" cy="264.9" r="2.0" fill="#5a7a70"/>
<circle cx="325.1" cy="200.2" r="1.6" fill="#5a7a70"/>
<circle cx="384.9" cy="198.4" r="2.3" fill="#000"/>
<circle cx="367.0" cy="254.9" r="1.5" fill="#000"/>
<circle cx="360.1" cy="243.4" r="2.0" fill="#40608a"/>
<circle cx="343.4" cy="226.9" r="1.8" fill="#000"/>
<circle cx="331.0" cy="215.0" r="1.9" fill="#5a7a70"/>
<circle cx="318.4" cy="194.5" r="1.3" fill="#000"/>
<circle cx="345.3" cy="218.7" r="1.3" fill="#5a7a70"/>
<circle cx="377.5" cy="197.0" r="1.8" fill="#000"/>
<circle cx="332.7" cy="261.7" r="2.0" fill="#000"/>
<circle cx="395.4" cy="242.5" r="2.2" fill="#000"/>
<circle cx="298.2" cy="247.1" r="1.3" fill="#5a7a70"/>
<circle cx="314.6" cy="242.5" r="1.3" fill="#40608a"/>
<circle cx="378.2" cy="258.9" r="2.2" fill="#000"/>
<circle cx="337.8" cy="258.8" r="1.4" fill="#5a7a70"/>
<circle cx="338.8" cy="229.6" r="2.0" fill="#000"/>
<circle cx="324.8" cy="269.2" r="1.8" fill="#000"/>
<circle cx="310.8" cy="241.0" r="1.6" fill="#000"/>
<circle cx="352.0" cy="270.9" r="2.3" fill="#000"/>
<circle cx="351.5" cy="268.9" r="2.1" fill="#000"/>
<circle cx="310.7" cy="231.3" r="1.6" fill="#000"/>
<circle cx="398.1" cy="223.3" r="1.5" fill="#40608a"/>
<circle cx="368.0" cy="254.8" r="1.3" fill="#000"/>
<circle cx="330.3" cy="219.6" r="2.2" fill="#40608a"/>
<circle cx="303.5" cy="226.5" r="1.5" fill="#000"/>
<circle cx="313.9" cy="271.3" r="1.9" fill="#40608a"/>
<circle cx="405.3" cy="236.4" r="1.7" fill="#000"/>
<circle cx="308.0" cy="221.2" r="2.2" fill="#000"/>
<circle cx="387.2" cy="203.5" r="2.2" fill="#000"/>
<circle cx="325.3" cy="229.6" r="1.7" fill="#000"/>
<circle cx="303.8" cy="209.9" r="2.4" fill="#40608a"/>
<circle cx="299.3" cy="234.6" r="2.3" fill="#40608a"/>
<circle cx="353.4" cy="196.3" r="1.7" fill="#40608a"/>
<circle cx="391.8" cy="269.1" r="2.0" fill="#000"/>
<circle cx="321.5" cy="226.6" r="2.1" fill="#40608a"/>
<circle cx="397.8" cy="223.0" r="2.4" fill="#000"/>
<circle cx="395.2" cy="204.2" r="2.1" fill="#40608a"/>
<circle cx="388.9" cy="198.3" r="1.6" fill="#40608a"/>
<circle cx="343.9" cy="214.2" r="1.8" fill="#5a7a70"/>
</g><g filter="url(#fs)">
<ellipse cx="309.0" cy="195.3" rx="1.9" ry="1.1" fill="#a8f060" opacity="0.91" transform="rotate(-70 309.0 195.3)"/>
<ellipse cx="315.5" cy="214.0" rx="1.5" ry="1.1" fill="#a8f060" opacity="0.87" transform="rotate(36 315.5 214.0)"/>
<ellipse cx="330.5" cy="222.7" rx="1.7" ry="1.1" fill="#a8f060" opacity="0.66" transform="rotate(-65 330.5 222.7)"/>
<ellipse cx="330.9" cy="232.6" rx="2.0" ry="1.1" fill="#a8f060" opacity="0.80" transform="rotate(21 330.9 232.6)"/>
<ellipse cx="337.4" cy="243.4" rx="1.8" ry="1.1" fill="#a8f060" opacity="0.79" transform="rotate(-26 337.4 243.4)"/>
<ellipse cx="329.8" cy="234.0" rx="1.7" ry="1.1" fill="#a8f060" opacity="0.85" transform="rotate(-59 329.8 234.0)"/>
<ellipse cx="379.0" cy="234.8" rx="2.0" ry="1.1" fill="#a8f060" opacity="0.63" transform="rotate(-68 379.0 234.8)"/>
<ellipse cx="396.4" cy="259.8" rx="1.9" ry="1.1" fill="#a8f060" opacity="0.73" transform="rotate(-52 396.4 259.8)"/>
<ellipse cx="375.0" cy="270.8" rx="1.6" ry="1.1" fill="#a8f060" opacity="0.96" transform="rotate(-40 375.0 270.8)"/>
<ellipse cx="328.7" cy="193.0" rx="1.8" ry="1.1" fill="#a8f060" opacity="0.71" transform="rotate(55 328.7 193.0)"/>
<ellipse cx="378.8" cy="234.6" rx="1.7" ry="1.1" fill="#a8f060" opacity="0.72" transform="rotate(-55 378.8 234.6)"/>
</g></g>
<g clip-path="url(#cTR)">
<rect x="409" y="192" width="110" height="82" fill="#1e3224"/>
<g filter="url(#fb)">
<rect x="403.0" y="186.0" width="11.8" height="11.8" fill="#070c08"/>
<rect x="414.5" y="186.0" width="5.8" height="11.8" fill="#4e8e48"/>
<rect x="420.0" y="186.0" width="5.8" height="11.8" fill="#1e3224"/>
<rect x="425.5" y="186.0" width="5.8" height="11.8" fill="#1e3224"/>
<rect x="431.0" y="186.0" width="5.8" height="11.8" fill="#3a566e"/>
<rect x="436.5" y="186.0" width="5.8" height="11.8" fill="#1e3224"/>
<rect x="442.0" y="186.0" width="5.8" height="11.8" fill="#1e3224"/>
<rect x="447.5" y="186.0" width="5.8" height="11.8" fill="#4e8e48"/>
<rect x="453.0" y="186.0" width="5.8" height="11.8" fill="#375a3e"/>
<rect x="458.5" y="186.0" width="5.8" height="11.8" fill="#3a566e"/>
<rect x="464.0" y="186.0" width="5.8" height="11.8" fill="#2e478a"/>
<rect x="469.5" y="186.0" width="5.8" height="11.8" fill="#375a3e"/>
<rect x="475.0" y="186.0" width="5.8" height="11.8" fill="#4e8e48"/>
<rect x="480.5" y="186.0" width="5.8" height="11.8" fill="#2e478a"/>
<rect x="486.0" y="186.0" width="5.8" height="11.8" fill="#2e478a"/>
<rect x="491.5" y="186.0" width="5.8" height="11.8" fill="#375a3e"/>
<rect x="497.0" y="186.0" width="5.8" height="11.8" fill="#2e478a"/>
<rect x="502.5" y="186.0" width="5.8" height="11.8" fill="#2e478a"/>
<rect x="508.0" y="186.0" width="5.8" height="11.8" fill="#375a3e"/>
<rect x="513.5" y="186.0" width="11.8" height="11.8" fill="#375a3e"/>
<rect x="403.0" y="197.5" width="11.8" height="5.8" fill="#1e3224"/>
<rect x="414.5" y="197.5" width="5.8" height="5.8" fill="#4e8e48"/>
<rect x="420.0" y="197.5" width="5.8" height="5.8" fill="#4e8e48"/>
<rect x="425.5" y="197.5" width="5.8" height="5.8" fill="#1e3224"/>
<rect x="431.0" y="197.5" width="5.8" height="5.8" fill="#2e478a"/>
<rect x="436.5" y="197.5" width="5.8" height="5.8" fill="#1e3224"/>
<rect x="442.0" y="197.5" width="5.8" height="5.8" fill="#1e3224"/>
<rect x="447.5" y="197.5" width="5.8" height="5.8" fill="#375a3e"/>
<rect x="453.0" y="197.5" width="5.8" height="5.8" fill="#4e8e48"/>
<rect x="458.5" y="197.5" width="5.8" height="5.8" fill="#375a3e"/>
<rect x="464.0" y="197.5" width="5.8" height="5.8" fill="#2e478a"/>
<rect x="469.5" y="197.5" width="5.8" height="5.8" fill="#4e8e48"/>
<rect x="475.0" y="197.5" width="5.8" height="5.8" fill="#4e8e48"/>
<rect x="480.5" y="197.5" width="5.8" height="5.8" fill="#2e478a"/>
<rect x="486.0" y="197.5" width="5.8" height="5.8" fill="#375a3e"/>
<rect x="491.5" y="197.5" width="5.8" height="5.8" fill="#2e478a"/>
<rect x="497.0" y="197.5" width="5.8" height="5.8" fill="#2e478a"/>
<rect x="502.5" y="197.5" width="5.8" height="5.8" fill="#375a3e"/>
<rect x="508.0" y="197.5" width="5.8" height="5.8" fill="#070c08"/>
<rect x="513.5" y="197.5" width="11.8" height="5.8" fill="#070c08"/>
<rect x="403.0" y="202.9" width="11.8" height="5.8" fill="#070c08"/>
<rect x="414.5" y="202.9" width="5.8" height="5.8" fill="#1e3224"/>
<rect x="420.0" y="202.9" width="5.8" height="5.8" fill="#4e8e48"/>
<rect x="425.5" y="202.9" width="5.8" height="5.8" fill="#4e8e48"/>
<rect x="431.0" y="202.9" width="5.8" height="5.8" fill="#2e478a"/>
<rect x="436.5" y="202.9" width="5.8" height="5.8" fill="#3a566e"/>
<rect x="442.0" y="202.9" width="5.8" height="5.8" fill="#1e3224"/>
<rect x="447.5" y="202.9" width="5.8" height="5.8" fill="#4e8e48"/>
<rect x="453.0" y="202.9" width="5.8" height="5.8" fill="#1e3224"/>
<rect x="458.5" y="202.9" width="5.8" height="5.8" fill="#375a3e"/>
<rect x="464.0" y="202.9" width="5.8" height="5.8" fill="#2e478a"/>
<rect x="469.5" y="202.9" width="5.8" height="5.8" fill="#375a3e"/>
<rect x="475.0" y="202.9" width="5.8" height="5.8" fill="#375a3e"/>
<rect x="480.5" y="202.9" width="5.8" height="5.8" fill="#2e478a"/>
<rect x="486.0" y="202.9" width="5.8" height="5.8" fill="#375a3e"/>
<rect x="491.5" y="202.9" width="5.8" height="5.8" fill="#2e478a"/>
<rect x="497.0" y="202.9" width="5.8" height="5.8" fill="#3a566e"/>
<rect x="502.5" y="202.9" width="5.8" height="5.8" fill="#375a3e"/>
<rect x="508.0" y="202.9" width="5.8" height="5.8" fill="#070c08"/>
<rect x="513.5" y="202.9" width="11.8" height="5.8" fill="#070c08"/>
<rect x="403.0" y="208.4" width="11.8" height="5.8" fill="#070c08"/>
<rect x="414.5" y="208.4" width="5.8" height="5.8" fill="#070c08"/>
<rect x="420.0" y="208.4" width="5.8" height="5.8" fill="#1e3224"/>
<rect x="425.5" y="208.4" width="5.8" height="5.8" fill="#3a566e"/>
<rect x="431.0" y="208.4" width="5.8" height="5.8" fill="#3a566e"/>
<rect x="436.5" y="208.4" width="5.8" height="5.8" fill="#4e8e48"/>
<rect x="442.0" y="208.4" width="5.8" height="5.8" fill="#070c08"/>
<rect x="447.5" y="208.4" width="5.8" height="5.8" fill="#070c08"/>
<rect x="453.0" y="208.4" width="5.8" height="5.8" fill="#4e8e48"/>
<rect x="458.5" y="208.4" width="5.8" height="5.8" fill="#4e8e48"/>
<rect x="464.0" y="208.4" width="5.8" height="5.8" fill="#375a3e"/>
<rect x="469.5" y="208.4" width="5.8" height="5.8" fill="#4e8e48"/>
<rect x="475.0" y="208.4" width="5.8" height="5.8" fill="#2e478a"/>
<rect x="480.5" y="208.4" width="5.8" height="5.8" fill="#2e478a"/>
<rect x="486.0" y="208.4" width="5.8" height="5.8" fill="#375a3e"/>
<rect x="491.5" y="208.4" width="5.8" height="5.8" fill="#375a3e"/>
<rect x="497.0" y="208.4" width="5.8" height="5.8" fill="#375a3e"/>
<rect x="502.5" y="208.4" width="5.8" height="5.8" fill="#070c08"/>
<rect x="508.0" y="208.4" width="5.8" height="5.8" fill="#4e8e48"/>
<rect x="513.5" y="208.4" width="11.8" height="5.8" fill="#070c08"/>
<rect x="403.0" y="213.9" width="11.8" height="5.8" fill="#070c08"/>
<rect x="414.5" y="213.9" width="5.8" height="5.8" fill="#070c08"/>
<rect x="420.0" y="213.9" width="5.8" height="5.8" fill="#1e3224"/>
<rect x="425.5" y="213.9" width="5.8" height="5.8" fill="#1e3224"/>
<rect x="431.0" y="213.9" width="5.8" height="5.8" fill="#3a566e"/>
<rect x="436.5" y="213.9" width="5.8" height="5.8" fill="#070c08"/>
<rect x="442.0" y="213.9" width="5.8" height="5.8" fill="#070c08"/>
<rect x="447.5" y="213.9" width="5.8" height="5.8" fill="#070c08"/>
<rect x="453.0" y="213.9" width="5.8" height="5.8" fill="#2e478a"/>
<rect x="458.5" y="213.9" width="5.8" height="5.8" fill="#4e8e48"/>
<rect x="464.0" y="213.9" width="5.8" height="5.8" fill="#375a3e"/>
<rect x="469.5" y="213.9" width="5.8" height="5.8" fill="#1e3224"/>
<rect x="475.0" y="213.9" width="5.8" height="5.8" fill="#2e478a"/>
<rect x="480.5" y="213.9" width="5.8" height="5.8" fill="#2e478a"/>
<rect x="486.0" y="213.9" width="5.8" height="5.8" fill="#375a3e"/>
<rect x="491.5" y="213.9" width="5.8" height="5.8" fill="#1e3224"/>
<rect x="497.0" y="213.9" width="5.8" height="5.8" fill="#070c08"/>
<rect x="502.5" y="213.9" width="5.8" height="5.8" fill="#3a566e"/>
<rect x="508.0" y="213.9" width="5.8" height="5.8" fill="#4e8e48"/>
<rect x="513.5" y="213.9" width="11.8" height="5.8" fill="#3a566e"/>
<rect x="403.0" y="219.3" width="11.8" height="5.8" fill="#1e3224"/>
<rect x="414.5" y="219.3" width="5.8" height="5.8" fill="#1e3224"/>
<rect x="420.0" y="219.3" width="5.8" height="5.8" fill="#1e3224"/>
<rect x="425.5" y="219.3" width="5.8" height="5.8" fill="#375a3e"/>
<rect x="431.0" y="219.3" width="5.8" height="5.8" fill="#4e8e48"/>
<rect x="436.5" y="219.3" width="5.8" height="5.8" fill="#1e3224"/>
<rect x="442.0" y="219.3" width="5.8" height="5.8" fill="#1e3224"/>
<rect x="447.5" y="219.3" width="5.8" height="5.8" fill="#1e3224"/>
<rect x="453.0" y="219.3" width="5.8" height="5.8" fill="#2e478a"/>
<rect x="458.5" y="219.3" width="5.8" height="5.8" fill="#2e478a"/>
<rect x="464.0" y="219.3" width="5.8" height="5.8" fill="#1e3224"/>
<rect x="469.5" y="219.3" width="5.8" height="5.8" fill="#2e478a"/>
<rect x="475.0" y="219.3" width="5.8" height="5.8" fill="#2e478a"/>
<rect x="480.5" y="219.3" width="5.8" height="5.8" fill="#375a3e"/>
<rect x="486.0" y="219.3" width="5.8" height="5.8" fill="#1e3224"/>
<rect x="491.5" y="219.3" width="5.8" height="5.8" fill="#1e3224"/>
<rect x="497.0" y="219.3" width="5.8" height="5.8" fill="#2e478a"/>
<rect x="502.5" y="219.3" width="5.8" height="5.8" fill="#2e478a"/>
<rect x="508.0" y="219.3" width="5.8" height="5.8" fill="#3a566e"/>
<rect x="513.5" y="219.3" width="11.8" height="5.8" fill="#4e8e48"/>
<rect x="403.0" y="224.8" width="11.8" height="5.8" fill="#1e3224"/>
<rect x="414.5" y="224.8" width="5.8" height="5.8" fill="#2e478a"/>
<rect x="420.0" y="224.8" width="5.8" height="5.8" fill="#1e3224"/>
<rect x="425.5" y="224.8" width="5.8" height="5.8" fill="#1e3224"/>
<rect x="431.0" y="224.8" width="5.8" height="5.8" fill="#3a566e"/>
<rect x="436.5" y="224.8" width="5.8" height="5.8" fill="#1e3224"/>
<rect x="442.0" y="224.8" width="5.8" height="5.8" fill="#1e3224"/>
<rect x="447.5" y="224.8" width="5.8" height="5.8" fill="#1e3224"/>
<rect x="453.0" y="224.8" width="5.8" height="5.8" fill="#3a566e"/>
<rect x="458.5" y="224.8" width="5.8" height="5.8" fill="#3a566e"/>
<rect x="464.0" y="224.8" width="5.8" height="5.8" fill="#070c08"/>
<rect x="469.5" y="224.8" width="5.8" height="5.8" fill="#1e3224"/>
<rect x="475.0" y="224.8" width="5.8" height="5.8" fill="#2e478a"/>
<rect x="480.5" y="224.8" width="5.8" height="5.8" fill="#4e8e48"/>
<rect x="486.0" y="224.8" width="5.8" height="5.8" fill="#2e478a"/>
<rect x="491.5" y="224.8" width="5.8" height="5.8" fill="#2e478a"/>
<rect x="497.0" y="224.8" width="5.8" height="5.8" fill="#4e8e48"/>
<rect x="502.5" y="224.8" width="5.8" height="5.8" fill="#4e8e48"/>
<rect x="508.0" y="224.8" width="5.8" height="5.8" fill="#1e3224"/>
<rect x="513.5" y="224.8" width="11.8" height="5.8" fill="#4e8e48"/>
<rect x="403.0" y="230.3" width="11.8" height="5.8" fill="#070c08"/>
<rect x="414.5" y="230.3" width="5.8" height="5.8" fill="#4e8e48"/>
<rect x="420.0" y="230.3" width="5.8" height="5.8" fill="#1e3224"/>
<rect x="425.5" y="230.3" width="5.8" height="5.8" fill="#1e3224"/>
<rect x="431.0" y="230.3" width="5.8" height="5.8" fill="#1e3224"/>
<rect x="436.5" y="230.3" width="5.8" height="5.8" fill="#3a566e"/>
<rect x="442.0" y="230.3" width="5.8" height="5.8" fill="#1e3224"/>
<rect x="447.5" y="230.3" width="5.8" height="5.8" fill="#1e3224"/>
<rect x="453.0" y="230.3" width="5.8" height="5.8" fill="#1e3224"/>
<rect x="458.5" y="230.3" width="5.8" height="5.8" fill="#1e3224"/>
<rect x="464.0" y="230.3" width="5.8" height="5.8" fill="#070c08"/>
<rect x="469.5" y="230.3" width="5.8" height="5.8" fill="#1e3224"/>
<rect x="475.0" y="230.3" width="5.8" height="5.8" fill="#1e3224"/>
<rect x="480.5" y="230.3" width="5.8" height="5.8" fill="#4e8e48"/>
<rect x="486.0" y="230.3" width="5.8" height="5.8" fill="#1e3224"/>
<rect x="491.5" y="230.3" width="5.8" height="5.8" fill="#2e478a"/>
<rect x="497.0" y="230.3" width="5.8" height="5.8" fill="#1e3224"/>
<rect x="502.5" y="230.3" width="5.8" height="5.8" fill="#375a3e"/>
<rect x="508.0" y="230.3" width="5.8" height="5.8" fill="#1e3224"/>
<rect x="513.5" y="230.3" width="11.8" height="5.8" fill="#4e8e48"/>
<rect x="403.0" y="235.7" width="11.8" height="5.8" fill="#070c08"/>
<rect x="414.5" y="235.7" width="5.8" height="5.8" fill="#4e8e48"/>
<rect x="420.0" y="235.7" width="5.8" height="5.8" fill="#3a566e"/>
<rect x="425.5" y="235.7" width="5.8" height="5.8" fill="#2e478a"/>
<rect x="431.0" y="235.7" width="5.8" height="5.8" fill="#4e8e48"/>
<rect x="436.5" y="235.7" width="5.8" height="5.8" fill="#3a566e"/>
<rect x="442.0" y="235.7" width="5.8" height="5.8" fill="#4e8e48"/>
<rect x="447.5" y="235.7" width="5.8" height="5.8" fill="#070c08"/>
<rect x="453.0" y="235.7" width="5.8" height="5.8" fill="#070c08"/>
<rect x="458.5" y="235.7" width="5.8" height="5.8" fill="#3a566e"/>
<rect x="464.0" y="235.7" width="5.8" height="5.8" fill="#375a3e"/>
<rect x="469.5" y="235.7" width="5.8" height="5.8" fill="#1e3224"/>
<rect x="475.0" y="235.7" width="5.8" height="5.8" fill="#070c08"/>
<rect x="480.5" y="235.7" width="5.8" height="5.8" fill="#070c08"/>
<rect x="486.0" y="235.7" width="5.8" height="5.8" fill="#070c08"/>
<rect x="491.5" y="235.7" width="5.8" height="5.8" fill="#070c08"/>
<rect x="497.0" y="235.7" width="5.8" height="5.8" fill="#1e3224"/>
<rect x="502.5" y="235.7" width="5.8" height="5.8" fill="#4e8e48"/>
<rect x="508.0" y="235.7" width="5.8" height="5.8" fill="#2e478a"/>
<rect x="513.5" y="235.7" width="11.8" height="5.8" fill="#4e8e48"/>
<rect x="403.0" y="241.2" width="11.8" height="5.8" fill="#070c08"/>
<rect x="414.5" y="241.2" width="5.8" height="5.8" fill="#4e8e48"/>
<rect x="420.0" y="241.2" width="5.8" height="5.8" fill="#3a566e"/>
<rect x="425.5" y="241.2" width="5.8" height="5.8" fill="#2e478a"/>
<rect x="431.0" y="241.2" width="5.8" height="5.8" fill="#375a3e"/>
<rect x="436.5" y="241.2" width="5.8" height="5.8" fill="#2e478a"/>
<rect x="442.0" y="241.2" width="5.8" height="5.8" fill="#375a3e"/>
<rect x="447.5" y="241.2" width="5.8" height="5.8" fill="#1e3224"/>
<rect x="453.0" y="241.2" width="5.8" height="5.8" fill="#3a566e"/>
<rect x="458.5" y="241.2" width="5.8" height="5.8" fill="#4e8e48"/>
<rect x="464.0" y="241.2" width="5.8" height="5.8" fill="#3a566e"/>
<rect x="469.5" y="241.2" width="5.8" height="5.8" fill="#070c08"/>
<rect x="475.0" y="241.2" width="5.8" height="5.8" fill="#070c08"/>
<rect x="480.5" y="241.2" width="5.8" height="5.8" fill="#070c08"/>
<rect x="486.0" y="241.2" width="5.8" height="5.8" fill="#070c08"/>
<rect x="491.5" y="241.2" width="5.8" height="5.8" fill="#070c08"/>
<rect x="497.0" y="241.2" width="5.8" height="5.8" fill="#070c08"/>
<rect x="502.5" y="241.2" width="5.8" height="5.8" fill="#1e3224"/>
<rect x="508.0" y="241.2" width="5.8" height="5.8" fill="#375a3e"/>
<rect x="513.5" y="241.2" width="11.8" height="5.8" fill="#4e8e48"/>
<rect x="403.0" y="246.7" width="11.8" height="5.8" fill="#070c08"/>
<rect x="414.5" y="246.7" width="5.8" height="5.8" fill="#4e8e48"/>
<rect x="420.0" y="246.7" width="5.8" height="5.8" fill="#375a3e"/>
<rect x="425.5" y="246.7" width="5.8" height="5.8" fill="#2e478a"/>
<rect x="431.0" y="246.7" width="5.8" height="5.8" fill="#3a566e"/>
<rect x="436.5" y="246.7" width="5.8" height="5.8" fill="#375a3e"/>
<rect x="442.0" y="246.7" width="5.8" height="5.8" fill="#1e3224"/>
<rect x="447.5" y="246.7" width="5.8" height="5.8" fill="#375a3e"/>
<rect x="453.0" y="246.7" width="5.8" height="5.8" fill="#2e478a"/>
<rect x="458.5" y="246.7" width="5.8" height="5.8" fill="#375a3e"/>
<rect x="464.0" y="246.7" width="5.8" height="5.8" fill="#3a566e"/>
<rect x="469.5" y="246.7" width="5.8" height="5.8" fill="#070c08"/>
<rect x="475.0" y="246.7" width="5.8" height="5.8" fill="#070c08"/>
<rect x="480.5" y="246.7" width="5.8" height="5.8" fill="#070c08"/>
<rect x="486.0" y="246.7" width="5.8" height="5.8" fill="#070c08"/>
<rect x="491.5" y="246.7" width="5.8" height="5.8" fill="#070c08"/>
<rect x="497.0" y="246.7" width="5.8" height="5.8" fill="#070c08"/>
<rect x="502.5" y="246.7" width="5.8" height="5.8" fill="#375a3e"/>
<rect x="508.0" y="246.7" width="5.8" height="5.8" fill="#3a566e"/>
<rect x="513.5" y="246.7" width="11.8" height="5.8" fill="#4e8e48"/>
<rect x="403.0" y="252.1" width="11.8" height="5.8" fill="#070c08"/>
<rect x="414.5" y="252.1" width="5.8" height="5.8" fill="#4e8e48"/>
<rect x="420.0" y="252.1" width="5.8" height="5.8" fill="#375a3e"/>
<rect x="425.5" y="252.1" width="5.8" height="5.8" fill="#3a566e"/>
<rect x="431.0" y="252.1" width="5.8" height="5.8" fill="#2e478a"/>
<rect x="436.5" y="252.1" width="5.8" height="5.8" fill="#1e3224"/>
<rect x="442.0" y="252.1" width="5.8" height="5.8" fill="#2e478a"/>
<rect x="447.5" y="252.1" width="5.8" height="5.8" fill="#4e8e48"/>
<rect x="453.0" y="252.1" width="5.8" height="5.8" fill="#4e8e48"/>
<rect x="458.5" y="252.1" width="5.8" height="5.8" fill="#4e8e48"/>
<rect x="464.0" y="252.1" width="5.8" height="5.8" fill="#1e3224"/>
<rect x="469.5" y="252.1" width="5.8" height="5.8" fill="#070c08"/>
<rect x="475.0" y="252.1" width="5.8" height="5.8" fill="#070c08"/>
<rect x="480.5" y="252.1" width="5.8" height="5.8" fill="#070c08"/>
<rect x="486.0" y="252.1" width="5.8" height="5.8" fill="#070c08"/>
<rect x="491.5" y="252.1" width="5.8" height="5.8" fill="#070c08"/>
<rect x="497.0" y="252.1" width="5.8" height="5.8" fill="#070c08"/>
<rect x="502.5" y="252.1" width="5.8" height="5.8" fill="#4e8e48"/>
<rect x="508.0" y="252.1" width="5.8" height="5.8" fill="#3a566e"/>
<rect x="513.5" y="252.1" width="11.8" height="5.8" fill="#4e8e48"/>
<rect x="403.0" y="257.6" width="11.8" height="5.8" fill="#1e3224"/>
<rect x="414.5" y="257.6" width="5.8" height="5.8" fill="#3a566e"/>
<rect x="420.0" y="257.6" width="5.8" height="5.8" fill="#375a3e"/>
<rect x="425.5" y="257.6" width="5.8" height="5.8" fill="#3a566e"/>
<rect x="431.0" y="257.6" width="5.8" height="5.8" fill="#1e3224"/>
<rect x="436.5" y="257.6" width="5.8" height="5.8" fill="#2e478a"/>
<rect x="442.0" y="257.6" width="5.8" height="5.8" fill="#1e3224"/>
<rect x="447.5" y="257.6" width="5.8" height="5.8" fill="#375a3e"/>
<rect x="453.0" y="257.6" width="5.8" height="5.8" fill="#2e478a"/>
<rect x="458.5" y="257.6" width="5.8" height="5.8" fill="#4e8e48"/>
<rect x="464.0" y="257.6" width="5.8" height="5.8" fill="#1e3224"/>
<rect x="469.5" y="257.6" width="5.8" height="5.8" fill="#070c08"/>
<rect x="475.0" y="257.6" width="5.8" height="5.8" fill="#070c08"/>
<rect x="480.5" y="257.6" width="5.8" height="5.8" fill="#070c08"/>
<rect x="486.0" y="257.6" width="5.8" height="5.8" fill="#070c08"/>
<rect x="491.5" y="257.6" width="5.8" height="5.8" fill="#070c08"/>
<rect x="497.0" y="257.6" width="5.8" height="5.8" fill="#070c08"/>
<rect x="502.5" y="257.6" width="5.8" height="5.8" fill="#4e8e48"/>
<rect x="508.0" y="257.6" width="5.8" height="5.8" fill="#375a3e"/>
<rect x="513.5" y="257.6" width="11.8" height="5.8" fill="#1e3224"/>
<rect x="403.0" y="263.1" width="11.8" height="5.8" fill="#1e3224"/>
<rect x="414.5" y="263.1" width="5.8" height="5.8" fill="#3a566e"/>
<rect x="420.0" y="263.1" width="5.8" height="5.8" fill="#3a566e"/>
<rect x="425.5" y="263.1" width="5.8" height="5.8" fill="#375a3e"/>
<rect x="431.0" y="263.1" width="5.8" height="5.8" fill="#4e8e48"/>
<rect x="436.5" y="263.1" width="5.8" height="5.8" fill="#3a566e"/>
<rect x="442.0" y="263.1" width="5.8" height="5.8" fill="#375a3e"/>
<rect x="447.5" y="263.1" width="5.8" height="5.8" fill="#2e478a"/>
<rect x="453.0" y="263.1" width="5.8" height="5.8" fill="#2e478a"/>
<rect x="458.5" y="263.1" width="5.8" height="5.8" fill="#3a566e"/>
<rect x="464.0" y="263.1" width="5.8" height="5.8" fill="#1e3224"/>
<rect x="469.5" y="263.1" width="5.8" height="5.8" fill="#070c08"/>
<rect x="475.0" y="263.1" width="5.8" height="5.8" fill="#070c08"/>
<rect x="480.5" y="263.1" width="5.8" height="5.8" fill="#070c08"/>
<rect x="486.0" y="263.1" width="5.8" height="5.8" fill="#070c08"/>
<rect x="491.5" y="263.1" width="5.8" height="5.8" fill="#070c08"/>
<rect x="497.0" y="263.1" width="5.8" height="5.8" fill="#070c08"/>
<rect x="502.5" y="263.1" width="5.8" height="5.8" fill="#1e3224"/>
<rect x="508.0" y="263.1" width="5.8" height="5.8" fill="#375a3e"/>
<rect x="513.5" y="263.1" width="11.8" height="5.8" fill="#3a566e"/>
<rect x="403.0" y="268.5" width="11.8" height="11.8" fill="#1e3224"/>
<rect x="414.5" y="268.5" width="5.8" height="11.8" fill="#3a566e"/>
<rect x="420.0" y="268.5" width="5.8" height="11.8" fill="#3a566e"/>
<rect x="425.5" y="268.5" width="5.8" height="11.8" fill="#2e478a"/>
<rect x="431.0" y="268.5" width="5.8" height="11.8" fill="#375a3e"/>
<rect x="436.5" y="268.5" width="5.8" height="11.8" fill="#1e3224"/>
<rect x="442.0" y="268.5" width="5.8" height="11.8" fill="#2e478a"/>
<rect x="447.5" y="268.5" width="5.8" height="11.8" fill="#4e8e48"/>
<rect x="453.0" y="268.5" width="5.8" height="11.8" fill="#375a3e"/>
<rect x="458.5" y="268.5" width="5.8" height="11.8" fill="#2e478a"/>
<rect x="464.0" y="268.5" width="5.8" height="11.8" fill="#4e8e48"/>
<rect x="469.5" y="268.5" width="5.8" height="11.8" fill="#070c08"/>
<rect x="475.0" y="268.5" width="5.8" height="11.8" fill="#070c08"/>
<rect x="480.5" y="268.5" width="5.8" height="11.8" fill="#070c08"/>
<rect x="486.0" y="268.5" width="5.8" height="11.8" fill="#070c08"/>
<rect x="491.5" y="268.5" width="5.8" height="11.8" fill="#070c08"/>
<rect x="497.0" y="268.5" width="5.8" height="11.8" fill="#070c08"/>
<rect x="502.5" y="268.5" width="5.8" height="11.8" fill="#1e3224"/>
<rect x="508.0" y="268.5" width="5.8" height="11.8" fill="#3a566e"/>
<rect x="513.5" y="268.5" width="11.8" height="11.8" fill="#3a566e"/>
</g><g filter="url(#ft)" opacity="0.3">
<circle cx="508.7" cy="236.9" r="1.7" fill="#000"/>
<circle cx="515.2" cy="203.5" r="1.2" fill="#000"/>
<circle cx="489.5" cy="203.0" r="1.8" fill="#000"/>
<circle cx="409.9" cy="255.2" r="1.7" fill="#000"/>
<circle cx="496.2" cy="196.6" r="1.8" fill="#000"/>
<circle cx="485.1" cy="264.5" r="2.1" fill="#5a7a70"/>
<circle cx="457.4" cy="200.4" r="1.3" fill="#5a7a70"/>
<circle cx="471.6" cy="214.6" r="1.9" fill="#40608a"/>
<circle cx="517.7" cy="216.7" r="1.4" fill="#000"/>
<circle cx="479.9" cy="196.5" r="1.5" fill="#40608a"/>
<circle cx="419.8" cy="234.1" r="2.2" fill="#5a7a70"/>
<circle cx="500.3" cy="203.3" r="1.6" fill="#40608a"/>
<circle cx="409.4" cy="238.3" r="1.9" fill="#000"/>
<circle cx="415.6" cy="199.2" r="1.6" fill="#000"/>
<circle cx="450.2" cy="219.9" r="2.2" fill="#40608a"/>
<circle cx="495.2" cy="252.8" r="1.5" fill="#000"/>
<circle cx="477.8" cy="223.9" r="2.0" fill="#000"/>
<circle cx="486.2" cy="240.5" r="2.3" fill="#000"/>
<circle cx="474.3" cy="238.4" r="2.3" fill="#5a7a70"/>
<circle cx="470.7" cy="192.8" r="1.3" fill="#40608a"/>
<circle cx="483.1" cy="245.3" r="1.2" fill="#40608a"/>
<circle cx="421.9" cy="251.1" r="1.9" fill="#000"/>
<circle cx="468.0" cy="249.1" r="2.0" fill="#000"/>
<circle cx="413.7" cy="250.7" r="1.6" fill="#000"/>
<circle cx="514.2" cy="247.7" r="1.5" fill="#40608a"/>
<circle cx="492.0" cy="213.2" r="1.6" fill="#000"/>
<circle cx="505.7" cy="218.5" r="2.0" fill="#40608a"/>
<circle cx="460.2" cy="204.7" r="1.5" fill="#5a7a70"/>
<circle cx="443.6" cy="242.2" r="1.7" fill="#000"/>
<circle cx="447.8" cy="198.5" r="1.7" fill="#40608a"/>
<circle cx="428.2" cy="203.4" r="1.8" fill="#40608a"/>
<circle cx="511.9" cy="220.2" r="1.2" fill="#40608a"/>
<circle cx="438.5" cy="232.5" r="1.8" fill="#000"/>
<circle cx="470.1" cy="246.3" r="1.7" fill="#5a7a70"/>
<circle cx="501.0" cy="216.1" r="1.3" fill="#5a7a70"/>
<circle cx="455.8" cy="261.4" r="1.8" fill="#40608a"/>
<circle cx="478.2" cy="244.5" r="2.3" fill="#000"/>
<circle cx="484.9" cy="201.1" r="1.3" fill="#5a7a70"/>
<circle cx="501.9" cy="239.8" r="1.3" fill="#40608a"/>
<circle cx="427.9" cy="219.4" r="2.1" fill="#000"/>
<circle cx="453.9" cy="219.0" r="1.3" fill="#000"/>
<circle cx="441.2" cy="219.6" r="2.4" fill="#40608a"/>
<circle cx="415.9" cy="216.7" r="1.4" fill="#000"/>
<circle cx="496.0" cy="265.5" r="1.8" fill="#000"/>
<circle cx="459.8" cy="197.9" r="1.7" fill="#5a7a70"/>
<circle cx="480.7" cy="247.9" r="1.6" fill="#5a7a70"/>
<circle cx="513.1" cy="230.2" r="1.3" fill="#000"/>
<circle cx="421.6" cy="236.1" r="1.3" fill="#40608a"/>
<circle cx="457.1" cy="214.3" r="1.9" fill="#40608a"/>
<circle cx="413.3" cy="264.3" r="2.4" fill="#000"/>
<circle cx="451.0" cy="244.0" r="2.3" fill="#5a7a70"/>
<circle cx="506.0" cy="250.3" r="1.3" fill="#5a7a70"/>
<circle cx="414.9" cy="269.0" r="1.8" fill="#40608a"/>
<circle cx="469.8" cy="257.4" r="2.0" fill="#5a7a70"/>
<circle cx="440.3" cy="253.0" r="1.5" fill="#40608a"/>
<circle cx="453.4" cy="250.2" r="1.3" fill="#000"/>
<circle cx="459.3" cy="269.9" r="2.1" fill="#40608a"/>
<circle cx="518.7" cy="202.9" r="1.4" fill="#000"/>
<circle cx="488.1" cy="213.1" r="1.8" fill="#000"/>
<circle cx="497.2" cy="231.5" r="1.6" fill="#5a7a70"/>
<circle cx="478.0" cy="249.2" r="1.9" fill="#000"/>
<circle cx="431.7" cy="193.9" r="1.9" fill="#40608a"/>
<circle cx="479.3" cy="232.1" r="2.2" fill="#5a7a70"/>
<circle cx="475.6" cy="196.7" r="1.5" fill="#40608a"/>
<circle cx="441.4" cy="222.4" r="2.1" fill="#5a7a70"/>
<circle cx="481.1" cy="254.1" r="2.1" fill="#000"/>
<circle cx="462.6" cy="205.1" r="2.4" fill="#40608a"/>
<circle cx="481.7" cy="226.5" r="2.2" fill="#40608a"/>
<circle cx="446.4" cy="252.0" r="1.8" fill="#000"/>
<circle cx="426.5" cy="232.6" r="1.2" fill="#40608a"/>
<circle cx="493.9" cy="260.6" r="1.3" fill="#000"/>
<circle cx="461.6" cy="201.8" r="1.4" fill="#000"/>
<circle cx="502.8" cy="211.5" r="2.2" fill="#000"/>
<circle cx="451.3" cy="244.9" r="1.5" fill="#5a7a70"/>
<circle cx="510.2" cy="208.8" r="1.5" fill="#000"/>
<circle cx="490.8" cy="233.3" r="1.7" fill="#5a7a70"/>
<circle cx="433.5" cy="199.7" r="1.9" fill="#40608a"/>
<circle cx="495.3" cy="251.6" r="2.3" fill="#000"/>
<circle cx="425.2" cy="196.7" r="1.2" fill="#000"/>
<circle cx="420.7" cy="229.6" r="1.7" fill="#40608a"/>
<circle cx="461.4" cy="234.8" r="1.2" fill="#40608a"/>
<circle cx="500.8" cy="242.4" r="2.1" fill="#000"/>
<circle cx="411.2" cy="264.5" r="2.4" fill="#000"/>
<circle cx="515.5" cy="249.1" r="1.4" fill="#5a7a70"/>
<circle cx="506.6" cy="206.1" r="1.7" fill="#000"/>
<circle cx="456.2" cy="216.6" r="2.1" fill="#40608a"/>
<circle cx="452.1" cy="255.3" r="1.3" fill="#40608a"/>
<circle cx="484.8" cy="209.8" r="1.7" fill="#40608a"/>
<circle cx="425.2" cy="270.8" r="1.5" fill="#000"/>
<circle cx="485.3" cy="262.5" r="2.0" fill="#000"/>
<circle cx="504.8" cy="267.2" r="2.2" fill="#40608a"/>
<circle cx="499.6" cy="265.8" r="1.9" fill="#40608a"/>
<circle cx="489.6" cy="208.6" r="1.9" fill="#000"/>
<circle cx="430.1" cy="235.7" r="2.2" fill="#5a7a70"/>
<circle cx="478.7" cy="250.1" r="1.7" fill="#000"/>
<circle cx="478.0" cy="206.9" r="1.9" fill="#40608a"/>
<circle cx="513.3" cy="252.9" r="2.0" fill="#40608a"/>
<circle cx="514.4" cy="260.4" r="1.6" fill="#000"/>
<circle cx="462.7" cy="222.1" r="2.4" fill="#5a7a70"/>
<circle cx="492.3" cy="231.2" r="2.2" fill="#40608a"/>
<circle cx="506.5" cy="219.0" r="2.4" fill="#40608a"/>
<circle cx="427.8" cy="227.0" r="1.7" fill="#000"/>
<circle cx="434.3" cy="216.2" r="2.2" fill="#000"/>
<circle cx="494.4" cy="231.7" r="1.3" fill="#5a7a70"/>
<circle cx="419.4" cy="251.9" r="1.7" fill="#5a7a70"/>
<circle cx="447.5" cy="255.1" r="1.3" fill="#000"/>
<circle cx="511.0" cy="265.0" r="2.1" fill="#000"/>
<circle cx="413.5" cy="234.1" r="1.8" fill="#40608a"/>
<circle cx="442.4" cy="226.8" r="1.9" fill="#000"/>
<circle cx="515.7" cy="234.4" r="2.3" fill="#000"/>
<circle cx="473.9" cy="198.0" r="1.7" fill="#40608a"/>
<circle cx="419.6" cy="220.4" r="2.3" fill="#000"/>
<circle cx="517.7" cy="263.4" r="1.6" fill="#000"/>
<circle cx="459.8" cy="200.1" r="2.2" fill="#5a7a70"/>
<circle cx="412.9" cy="271.2" r="2.0" fill="#000"/>
<circle cx="474.4" cy="264.9" r="1.6" fill="#40608a"/>
<circle cx="499.4" cy="233.2" r="1.6" fill="#000"/>
<circle cx="502.0" cy="238.7" r="1.7" fill="#000"/>
<circle cx="476.7" cy="225.2" r="1.7" fill="#000"/>
<circle cx="416.0" cy="218.5" r="1.2" fill="#5a7a70"/>
<circle cx="455.3" cy="269.1" r="1.3" fill="#000"/>
<circle cx="458.1" cy="252.2" r="1.2" fill="#000"/>
<circle cx="473.9" cy="249.4" r="1.3" fill="#000"/>
<circle cx="441.4" cy="216.0" r="1.7" fill="#000"/>
<circle cx="412.8" cy="229.4" r="1.4" fill="#5a7a70"/>
<circle cx="467.1" cy="273.7" r="1.9" fill="#40608a"/>
<circle cx="501.6" cy="242.8" r="2.2" fill="#000"/>
<circle cx="449.2" cy="273.7" r="2.2" fill="#000"/>
<circle cx="421.2" cy="264.6" r="1.6" fill="#5a7a70"/>
<circle cx="512.7" cy="269.1" r="1.7" fill="#40608a"/>
<circle cx="518.7" cy="202.7" r="2.1" fill="#40608a"/>
<circle cx="448.3" cy="206.9" r="2.4" fill="#000"/>
<circle cx="511.5" cy="225.0" r="1.5" fill="#000"/>
<circle cx="457.1" cy="242.3" r="1.7" fill="#5a7a70"/>
<circle cx="450.6" cy="207.9" r="1.4" fill="#40608a"/>
<circle cx="435.8" cy="232.9" r="1.9" fill="#000"/>
<circle cx="508.1" cy="255.8" r="1.6" fill="#5a7a70"/>
<circle cx="446.0" cy="220.5" r="2.2" fill="#000"/>
<circle cx="414.0" cy="233.0" r="1.5" fill="#000"/>
<circle cx="414.0" cy="210.4" r="2.4" fill="#5a7a70"/>
<circle cx="433.3" cy="229.4" r="1.2" fill="#000"/>
<circle cx="492.5" cy="200.9" r="2.0" fill="#000"/>
<circle cx="436.2" cy="197.4" r="1.3" fill="#5a7a70"/>
<circle cx="495.1" cy="212.9" r="1.4" fill="#5a7a70"/>
<circle cx="442.7" cy="224.1" r="1.5" fill="#40608a"/>
<circle cx="501.2" cy="254.9" r="1.8" fill="#000"/>
<circle cx="502.6" cy="251.8" r="2.1" fill="#000"/>
<circle cx="451.2" cy="239.0" r="1.5" fill="#000"/>
<circle cx="484.6" cy="192.3" r="1.4" fill="#000"/>
<circle cx="510.7" cy="218.2" r="1.5" fill="#40608a"/>
<circle cx="409.7" cy="249.1" r="1.2" fill="#5a7a70"/>
<circle cx="466.4" cy="221.0" r="1.5" fill="#000"/>
<circle cx="503.1" cy="256.8" r="1.6" fill="#000"/>
<circle cx="484.4" cy="240.5" r="1.4" fill="#000"/>
<circle cx="471.1" cy="199.3" r="1.5" fill="#40608a"/>
<circle cx="482.1" cy="239.9" r="1.5" fill="#000"/>
<circle cx="431.7" cy="267.5" r="1.3" fill="#40608a"/>
<circle cx="433.4" cy="228.0" r="1.6" fill="#5a7a70"/>
<circle cx="417.7" cy="207.3" r="1.8" fill="#000"/>
<circle cx="483.4" cy="244.5" r="1.9" fill="#000"/>
<circle cx="442.2" cy="237.9" r="1.9" fill="#5a7a70"/>
<circle cx="450.7" cy="260.7" r="2.2" fill="#5a7a70"/>
<circle cx="423.7" cy="228.6" r="1.9" fill="#000"/>
<circle cx="490.6" cy="242.1" r="2.2" fill="#40608a"/>
<circle cx="428.9" cy="236.8" r="1.4" fill="#000"/>
<circle cx="439.5" cy="259.8" r="1.5" fill="#5a7a70"/>
<circle cx="443.3" cy="201.2" r="1.5" fill="#000"/>
<circle cx="512.8" cy="258.1" r="1.7" fill="#5a7a70"/>
<circle cx="416.4" cy="224.4" r="2.4" fill="#40608a"/>
<circle cx="482.4" cy="251.1" r="1.8" fill="#000"/>
<circle cx="493.8" cy="270.4" r="1.9" fill="#000"/>
<circle cx="431.1" cy="255.3" r="1.5" fill="#000"/>
<circle cx="449.5" cy="242.5" r="1.9" fill="#000"/>
<circle cx="510.8" cy="250.0" r="2.1" fill="#000"/>
<circle cx="471.3" cy="256.4" r="2.0" fill="#5a7a70"/>
<circle cx="492.0" cy="210.6" r="1.8" fill="#000"/>
<circle cx="493.2" cy="230.4" r="2.3" fill="#40608a"/>
<circle cx="478.4" cy="211.6" r="1.5" fill="#000"/>
<circle cx="514.2" cy="198.9" r="2.1" fill="#40608a"/>
<circle cx="468.4" cy="256.7" r="2.2" fill="#000"/>
<circle cx="410.5" cy="249.2" r="2.0" fill="#000"/>
<circle cx="514.4" cy="257.8" r="2.2" fill="#000"/>
<circle cx="501.6" cy="228.2" r="1.4" fill="#000"/>
<circle cx="492.2" cy="219.4" r="2.1" fill="#5a7a70"/>
<circle cx="487.6" cy="271.6" r="1.8" fill="#40608a"/>
<circle cx="502.2" cy="265.3" r="1.6" fill="#5a7a70"/>
<circle cx="410.0" cy="273.1" r="1.4" fill="#5a7a70"/>
<circle cx="439.5" cy="216.5" r="2.2" fill="#000"/>
<circle cx="457.8" cy="197.5" r="1.8" fill="#40608a"/>
<circle cx="434.7" cy="226.0" r="1.5" fill="#40608a"/>
<circle cx="409.0" cy="201.8" r="1.4" fill="#5a7a70"/>
<circle cx="440.6" cy="211.3" r="2.3" fill="#000"/>
<circle cx="518.2" cy="200.6" r="1.9" fill="#5a7a70"/>
<circle cx="421.9" cy="234.9" r="1.5" fill="#000"/>
<circle cx="482.4" cy="262.9" r="1.3" fill="#5a7a70"/>
<circle cx="493.3" cy="236.5" r="2.2" fill="#5a7a70"/>
<circle cx="444.9" cy="207.1" r="1.7" fill="#40608a"/>
<circle cx="451.1" cy="201.4" r="2.2" fill="#40608a"/>
<circle cx="490.1" cy="258.5" r="1.2" fill="#5a7a70"/>
<circle cx="470.6" cy="203.4" r="2.1" fill="#000"/>
<circle cx="449.0" cy="271.0" r="2.2" fill="#5a7a70"/>
<circle cx="418.1" cy="227.0" r="1.8" fill="#40608a"/>
<circle cx="461.8" cy="252.6" r="2.4" fill="#000"/>
<circle cx="442.8" cy="255.8" r="1.5" fill="#40608a"/>
<circle cx="421.1" cy="239.8" r="2.0" fill="#40608a"/>
<circle cx="466.6" cy="247.2" r="2.0" fill="#5a7a70"/>
<circle cx="431.2" cy="250.3" r="1.2" fill="#40608a"/>
<circle cx="454.5" cy="270.7" r="1.8" fill="#000"/>
<circle cx="507.7" cy="266.3" r="1.5" fill="#000"/>
<circle cx="502.8" cy="231.6" r="1.3" fill="#000"/>
<circle cx="476.6" cy="271.3" r="1.9" fill="#40608a"/>
<circle cx="414.1" cy="264.9" r="2.3" fill="#000"/>
<circle cx="414.6" cy="226.9" r="2.2" fill="#000"/>
<circle cx="432.0" cy="211.2" r="1.3" fill="#40608a"/>
<circle cx="429.0" cy="228.5" r="2.3" fill="#40608a"/>
<circle cx="472.1" cy="262.8" r="1.7" fill="#000"/>
<circle cx="504.2" cy="231.6" r="2.3" fill="#5a7a70"/>
<circle cx="416.9" cy="229.9" r="2.0" fill="#5a7a70"/>
<circle cx="501.1" cy="268.6" r="2.1" fill="#000"/>
<circle cx="465.7" cy="246.0" r="1.6" fill="#5a7a70"/>
<circle cx="483.9" cy="195.2" r="1.6" fill="#5a7a70"/>
<circle cx="495.4" cy="261.7" r="1.7" fill="#40608a"/>
<circle cx="450.0" cy="213.9" r="1.7" fill="#000"/>
<circle cx="474.6" cy="253.7" r="2.3" fill="#000"/>
<circle cx="446.6" cy="195.7" r="2.1" fill="#40608a"/>
</g><g filter="url(#fs)">
<ellipse cx="413.4" cy="196.4" rx="1.9" ry="1.1" fill="#a8f060" opacity="0.79" transform="rotate(35 413.4 196.4)"/>
<ellipse cx="417.8" cy="202.4" rx="1.7" ry="1.1" fill="#a8f060" opacity="0.68" transform="rotate(31 417.8 202.4)"/>
<ellipse cx="421.0" cy="205.0" rx="1.5" ry="1.1" fill="#a8f060" opacity="0.61" transform="rotate(-39 421.0 205.0)"/>
<ellipse cx="423.2" cy="206.8" rx="2.2" ry="1.1" fill="#a8f060" opacity="0.74" transform="rotate(63 423.2 206.8)"/>
<ellipse cx="451.7" cy="195.3" rx="1.6" ry="1.1" fill="#a8f060" opacity="0.91" transform="rotate(-12 451.7 195.3)"/>
<ellipse cx="448.4" cy="205.7" rx="1.5" ry="1.1" fill="#a8f060" opacity="0.95" transform="rotate(-1 448.4 205.7)"/>
<ellipse cx="451.2" cy="210.6" rx="1.4" ry="1.1" fill="#a8f060" opacity="0.78" transform="rotate(60 451.2 210.6)"/>
<ellipse cx="458.8" cy="211.7" rx="1.9" ry="1.1" fill="#a8f060" opacity="0.74" transform="rotate(-39 458.8 211.7)"/>
<ellipse cx="462.7" cy="218.3" rx="1.6" ry="1.1" fill="#a8f060" opacity="0.84" transform="rotate(-28 462.7 218.3)"/>
<ellipse cx="435.3" cy="212.8" rx="1.8" ry="1.1" fill="#a8f060" opacity="0.87" transform="rotate(0 435.3 212.8)"/>
<ellipse cx="434.7" cy="221.6" rx="2.2" ry="1.1" fill="#a8f060" opacity="0.78" transform="rotate(-4 434.7 221.6)"/>
<ellipse cx="420.0" cy="229.2" rx="2.1" ry="1.1" fill="#a8f060" opacity="0.85" transform="rotate(41 420.0 229.2)"/>
<ellipse cx="472.8" cy="203.0" rx="2.0" ry="1.1" fill="#a8f060" opacity="0.88" transform="rotate(13 472.8 203.0)"/>
<ellipse cx="476.0" cy="210.6" rx="1.7" ry="1.1" fill="#a8f060" opacity="0.66" transform="rotate(-43 476.0 210.6)"/>
<ellipse cx="478.0" cy="194.0" rx="1.9" ry="1.1" fill="#a8f060" opacity="0.73" transform="rotate(-67 478.0 194.0)"/>
<ellipse cx="513.0" cy="209.5" rx="1.4" ry="1.1" fill="#a8f060" opacity="0.61" transform="rotate(-34 513.0 209.5)"/>
<ellipse cx="511.0" cy="215.0" rx="1.7" ry="1.1" fill="#a8f060" opacity="0.77" transform="rotate(24 511.0 215.0)"/>
<ellipse cx="514.0" cy="224.9" rx="2.1" ry="1.1" fill="#a8f060" opacity="0.88" transform="rotate(25 514.0 224.9)"/>
<ellipse cx="500.0" cy="223.8" rx="2.2" ry="1.1" fill="#a8f060" opacity="0.67" transform="rotate(-39 500.0 223.8)"/>
<ellipse cx="504.5" cy="221.6" rx="1.9" ry="1.1" fill="#a8f060" opacity="0.71" transform="rotate(11 504.5 221.6)"/>
<ellipse cx="486.0" cy="226.0" rx="1.9" ry="1.1" fill="#a8f060" opacity="0.88" transform="rotate(54 486.0 226.0)"/>
<ellipse cx="484.8" cy="230.3" rx="2.1" ry="1.1" fill="#a8f060" opacity="0.71" transform="rotate(-51 484.8 230.3)"/>
<ellipse cx="465.0" cy="217.7" rx="2.0" ry="1.1" fill="#a8f060" opacity="0.73" transform="rotate(17 465.0 217.7)"/>
<ellipse cx="418.0" cy="250.0" rx="1.7" ry="1.1" fill="#a8f060" opacity="0.99" transform="rotate(-33 418.0 250.0)"/>
<ellipse cx="427.0" cy="245.0" rx="1.8" ry="1.1" fill="#a8f060" opacity="0.82" transform="rotate(22 427.0 245.0)"/>
<ellipse cx="430.0" cy="257.0" rx="1.6" ry="1.1" fill="#a8f060" opacity="0.63" transform="rotate(22 430.0 257.0)"/>
<ellipse cx="440.0" cy="260.0" rx="1.9" ry="1.1" fill="#a8f060" opacity="0.84" transform="rotate(-55 440.0 260.0)"/>
<ellipse cx="450.0" cy="252.0" rx="1.9" ry="1.1" fill="#a8f060" opacity="0.94" transform="rotate(67 450.0 252.0)"/>
<ellipse cx="457.0" cy="246.0" rx="1.8" ry="1.1" fill="#a8f060" opacity="0.77" transform="rotate(68 457.0 246.0)"/>
<ellipse cx="447.0" cy="272.0" rx="1.7" ry="1.1" fill="#a8f060" opacity="0.90" transform="rotate(-4 447.0 272.0)"/>
<ellipse cx="425.0" cy="270.0" rx="1.5" ry="1.1" fill="#a8f060" opacity="0.98" transform="rotate(11 425.0 270.0)"/>
<ellipse cx="413.0" cy="262.0" rx="2.0" ry="1.1" fill="#a8f060" opacity="0.82" transform="rotate(4 413.0 262.0)"/>
<ellipse cx="505.0" cy="252.0" rx="1.9" ry="1.1" fill="#a8f060" opacity="0.65" transform="rotate(12 505.0 252.0)"/>
<ellipse cx="512.0" cy="240.0" rx="2.0" ry="1.1" fill="#a8f060" opacity="0.74" transform="rotate(-52 512.0 240.0)"/>
<ellipse cx="509.0" cy="262.0" rx="2.1" ry="1.1" fill="#a8f060" opacity="0.90" transform="rotate(-52 509.0 262.0)"/>
</g></g>
<g clip-path="url(#cBL)">
<rect x="299" y="277.5" width="108" height="82.0" fill="#111d15"/>
<g filter="url(#fb)">
<rect x="293.0" y="271.5" width="11.7" height="11.8" fill="#070c08"/>
<rect x="304.4" y="271.5" width="5.7" height="11.8" fill="#16203e"/>
<rect x="309.8" y="271.5" width="5.7" height="11.8" fill="#111d15"/>
<rect x="315.2" y="271.5" width="5.7" height="11.8" fill="#111d15"/>
<rect x="320.6" y="271.5" width="5.7" height="11.8" fill="#283e44"/>
<rect x="326.0" y="271.5" width="5.7" height="11.8" fill="#283e44"/>
<rect x="331.4" y="271.5" width="5.7" height="11.8" fill="#283e44"/>
<rect x="336.8" y="271.5" width="5.7" height="11.8" fill="#111d15"/>
<rect x="342.2" y="271.5" width="5.7" height="11.8" fill="#111d15"/>
<rect x="347.6" y="271.5" width="5.7" height="11.8" fill="#070c08"/>
<rect x="353.0" y="271.5" width="5.7" height="11.8" fill="#111d15"/>
<rect x="358.4" y="271.5" width="5.7" height="11.8" fill="#111d15"/>
<rect x="363.8" y="271.5" width="5.7" height="11.8" fill="#16203e"/>
<rect x="369.2" y="271.5" width="5.7" height="11.8" fill="#223a28"/>
<rect x="374.6" y="271.5" width="5.7" height="11.8" fill="#111d15"/>
<rect x="380.0" y="271.5" width="5.7" height="11.8" fill="#213060"/>
<rect x="385.4" y="271.5" width="5.7" height="11.8" fill="#16203e"/>
<rect x="390.8" y="271.5" width="5.7" height="11.8" fill="#16203e"/>
<rect x="396.2" y="271.5" width="5.7" height="11.8" fill="#111d15"/>
<rect x="401.6" y="271.5" width="11.7" height="11.8" fill="#111d15"/>
<rect x="293.0" y="283.0" width="11.7" height="5.8" fill="#070c08"/>
<rect x="304.4" y="283.0" width="5.7" height="5.8" fill="#16203e"/>
<rect x="309.8" y="283.0" width="5.7" height="5.8" fill="#111d15"/>
<rect x="315.2" y="283.0" width="5.7" height="5.8" fill="#3c7038"/>
<rect x="320.6" y="283.0" width="5.7" height="5.8" fill="#3c7038"/>
<rect x="326.0" y="283.0" width="5.7" height="5.8" fill="#223a28"/>
<rect x="331.4" y="283.0" width="5.7" height="5.8" fill="#111d15"/>
<rect x="336.8" y="283.0" width="5.7" height="5.8" fill="#111d15"/>
<rect x="342.2" y="283.0" width="5.7" height="5.8" fill="#111d15"/>
<rect x="347.6" y="283.0" width="5.7" height="5.8" fill="#070c08"/>
<rect x="353.0" y="283.0" width="5.7" height="5.8" fill="#111d15"/>
<rect x="358.4" y="283.0" width="5.7" height="5.8" fill="#16203e"/>
<rect x="363.8" y="283.0" width="5.7" height="5.8" fill="#111d15"/>
<rect x="369.2" y="283.0" width="5.7" height="5.8" fill="#223a28"/>
<rect x="374.6" y="283.0" width="5.7" height="5.8" fill="#111d15"/>
<rect x="380.0" y="283.0" width="5.7" height="5.8" fill="#213060"/>
<rect x="385.4" y="283.0" width="5.7" height="5.8" fill="#213060"/>
<rect x="390.8" y="283.0" width="5.7" height="5.8" fill="#213060"/>
<rect x="396.2" y="283.0" width="5.7" height="5.8" fill="#213060"/>
<rect x="401.6" y="283.0" width="11.7" height="5.8" fill="#16203e"/>
<rect x="293.0" y="288.4" width="11.7" height="5.8" fill="#070c08"/>
<rect x="304.4" y="288.4" width="5.7" height="5.8" fill="#111d15"/>
<rect x="309.8" y="288.4" width="5.7" height="5.8" fill="#111d15"/>
<rect x="315.2" y="288.4" width="5.7" height="5.8" fill="#111d15"/>
<rect x="320.6" y="288.4" width="5.7" height="5.8" fill="#070c08"/>
<rect x="326.0" y="288.4" width="5.7" height="5.8" fill="#223a28"/>
<rect x="331.4" y="288.4" width="5.7" height="5.8" fill="#111d15"/>
<rect x="336.8" y="288.4" width="5.7" height="5.8" fill="#111d15"/>
<rect x="342.2" y="288.4" width="5.7" height="5.8" fill="#283e44"/>
<rect x="347.6" y="288.4" width="5.7" height="5.8" fill="#111d15"/>
<rect x="353.0" y="288.4" width="5.7" height="5.8" fill="#111d15"/>
<rect x="358.4" y="288.4" width="5.7" height="5.8" fill="#16203e"/>
<rect x="363.8" y="288.4" width="5.7" height="5.8" fill="#213060"/>
<rect x="369.2" y="288.4" width="5.7" height="5.8" fill="#111d15"/>
<rect x="374.6" y="288.4" width="5.7" height="5.8" fill="#070c08"/>
<rect x="380.0" y="288.4" width="5.7" height="5.8" fill="#070c08"/>
<rect x="385.4" y="288.4" width="5.7" height="5.8" fill="#111d15"/>
<rect x="390.8" y="288.4" width="5.7" height="5.8" fill="#213060"/>
<rect x="396.2" y="288.4" width="5.7" height="5.8" fill="#213060"/>
<rect x="401.6" y="288.4" width="11.7" height="5.8" fill="#16203e"/>
<rect x="293.0" y="293.9" width="11.7" height="5.8" fill="#070c08"/>
<rect x="304.4" y="293.9" width="5.7" height="5.8" fill="#111d15"/>
<rect x="309.8" y="293.9" width="5.7" height="5.8" fill="#111d15"/>
<rect x="315.2" y="293.9" width="5.7" height="5.8" fill="#111d15"/>
<rect x="320.6" y="293.9" width="5.7" height="5.8" fill="#111d15"/>
<rect x="326.0" y="293.9" width="5.7" height="5.8" fill="#111d15"/>
<rect x="331.4" y="293.9" width="5.7" height="5.8" fill="#111d15"/>
<rect x="336.8" y="293.9" width="5.7" height="5.8" fill="#111d15"/>
<rect x="342.2" y="293.9" width="5.7" height="5.8" fill="#111d15"/>
<rect x="347.6" y="293.9" width="5.7" height="5.8" fill="#111d15"/>
<rect x="353.0" y="293.9" width="5.7" height="5.8" fill="#0c1610"/>
<rect x="358.4" y="293.9" width="5.7" height="5.8" fill="#16203e"/>
<rect x="363.8" y="293.9" width="5.7" height="5.8" fill="#3c7038"/>
<rect x="369.2" y="293.9" width="5.7" height="5.8" fill="#070c08"/>
<rect x="374.6" y="293.9" width="5.7" height="5.8" fill="#070c08"/>
<rect x="380.0" y="293.9" width="5.7" height="5.8" fill="#070c08"/>
<rect x="385.4" y="293.9" width="5.7" height="5.8" fill="#070c08"/>
<rect x="390.8" y="293.9" width="5.7" height="5.8" fill="#213060"/>
<rect x="396.2" y="293.9" width="5.7" height="5.8" fill="#213060"/>
<rect x="401.6" y="293.9" width="11.7" height="5.8" fill="#16203e"/>
<rect x="293.0" y="299.4" width="11.7" height="5.8" fill="#070c08"/>
<rect x="304.4" y="299.4" width="5.7" height="5.8" fill="#111d15"/>
<rect x="309.8" y="299.4" width="5.7" height="5.8" fill="#070c08"/>
<rect x="315.2" y="299.4" width="5.7" height="5.8" fill="#070c08"/>
<rect x="320.6" y="299.4" width="5.7" height="5.8" fill="#111d15"/>
<rect x="326.0" y="299.4" width="5.7" height="5.8" fill="#111d15"/>
<rect x="331.4" y="299.4" width="5.7" height="5.8" fill="#111d15"/>
<rect x="336.8" y="299.4" width="5.7" height="5.8" fill="#111d15"/>
<rect x="342.2" y="299.4" width="5.7" height="5.8" fill="#111d15"/>
<rect x="347.6" y="299.4" width="5.7" height="5.8" fill="#111d15"/>
<rect x="353.0" y="299.4" width="5.7" height="5.8" fill="#0c1610"/>
<rect x="358.4" y="299.4" width="5.7" height="5.8" fill="#213060"/>
<rect x="363.8" y="299.4" width="5.7" height="5.8" fill="#111d15"/>
<rect x="369.2" y="299.4" width="5.7" height="5.8" fill="#070c08"/>
<rect x="374.6" y="299.4" width="5.7" height="5.8" fill="#070c08"/>
<rect x="380.0" y="299.4" width="5.7" height="5.8" fill="#070c08"/>
<rect x="385.4" y="299.4" width="5.7" height="5.8" fill="#111d15"/>
<rect x="390.8" y="299.4" width="5.7" height="5.8" fill="#16203e"/>
<rect x="396.2" y="299.4" width="5.7" height="5.8" fill="#213060"/>
<rect x="401.6" y="299.4" width="11.7" height="5.8" fill="#16203e"/>
<rect x="293.0" y="304.8" width="11.7" height="5.8" fill="#070c08"/>
<rect x="304.4" y="304.8" width="5.7" height="5.8" fill="#111d15"/>
<rect x="309.8" y="304.8" width="5.7" height="5.8" fill="#070c08"/>
<rect x="315.2" y="304.8" width="5.7" height="5.8" fill="#070c08"/>
<rect x="320.6" y="304.8" width="5.7" height="5.8" fill="#111d15"/>
<rect x="326.0" y="304.8" width="5.7" height="5.8" fill="#213060"/>
<rect x="331.4" y="304.8" width="5.7" height="5.8" fill="#213060"/>
<rect x="336.8" y="304.8" width="5.7" height="5.8" fill="#111d15"/>
<rect x="342.2" y="304.8" width="5.7" height="5.8" fill="#111d15"/>
<rect x="347.6" y="304.8" width="5.7" height="5.8" fill="#111d15"/>
<rect x="353.0" y="304.8" width="5.7" height="5.8" fill="#0c1610"/>
<rect x="358.4" y="304.8" width="5.7" height="5.8" fill="#213060"/>
<rect x="363.8" y="304.8" width="5.7" height="5.8" fill="#111d15"/>
<rect x="369.2" y="304.8" width="5.7" height="5.8" fill="#111d15"/>
<rect x="374.6" y="304.8" width="5.7" height="5.8" fill="#070c08"/>
<rect x="380.0" y="304.8" width="5.7" height="5.8" fill="#111d15"/>
<rect x="385.4" y="304.8" width="5.7" height="5.8" fill="#16203e"/>
<rect x="390.8" y="304.8" width="5.7" height="5.8" fill="#213060"/>
<rect x="396.2" y="304.8" width="5.7" height="5.8" fill="#16203e"/>
<rect x="401.6" y="304.8" width="11.7" height="5.8" fill="#111d15"/>
<rect x="293.0" y="310.3" width="11.7" height="5.8" fill="#070c08"/>
<rect x="304.4" y="310.3" width="5.7" height="5.8" fill="#111d15"/>
<rect x="309.8" y="310.3" width="5.7" height="5.8" fill="#070c08"/>
<rect x="315.2" y="310.3" width="5.7" height="5.8" fill="#070c08"/>
<rect x="320.6" y="310.3" width="5.7" height="5.8" fill="#213060"/>
<rect x="326.0" y="310.3" width="5.7" height="5.8" fill="#213060"/>
<rect x="331.4" y="310.3" width="5.7" height="5.8" fill="#213060"/>
<rect x="336.8" y="310.3" width="5.7" height="5.8" fill="#283e44"/>
<rect x="342.2" y="310.3" width="5.7" height="5.8" fill="#111d15"/>
<rect x="347.6" y="310.3" width="5.7" height="5.8" fill="#111d15"/>
<rect x="353.0" y="310.3" width="5.7" height="5.8" fill="#111d15"/>
<rect x="358.4" y="310.3" width="5.7" height="5.8" fill="#16203e"/>
<rect x="363.8" y="310.3" width="5.7" height="5.8" fill="#213060"/>
<rect x="369.2" y="310.3" width="5.7" height="5.8" fill="#213060"/>
<rect x="374.6" y="310.3" width="5.7" height="5.8" fill="#213060"/>
<rect x="380.0" y="310.3" width="5.7" height="5.8" fill="#111d15"/>
<rect x="385.4" y="310.3" width="5.7" height="5.8" fill="#16203e"/>
<rect x="390.8" y="310.3" width="5.7" height="5.8" fill="#111d15"/>
<rect x="396.2" y="310.3" width="5.7" height="5.8" fill="#111d15"/>
<rect x="401.6" y="310.3" width="11.7" height="5.8" fill="#111d15"/>
<rect x="293.0" y="315.8" width="11.7" height="5.8" fill="#070c08"/>
<rect x="304.4" y="315.8" width="5.7" height="5.8" fill="#111d15"/>
<rect x="309.8" y="315.8" width="5.7" height="5.8" fill="#070c08"/>
<rect x="315.2" y="315.8" width="5.7" height="5.8" fill="#111d15"/>
<rect x="320.6" y="315.8" width="5.7" height="5.8" fill="#111d15"/>
<rect x="326.0" y="315.8" width="5.7" height="5.8" fill="#111d15"/>
<rect x="331.4" y="315.8" width="5.7" height="5.8" fill="#213060"/>
<rect x="336.8" y="315.8" width="5.7" height="5.8" fill="#111d15"/>
<rect x="342.2" y="315.8" width="5.7" height="5.8" fill="#111d15"/>
<rect x="347.6" y="315.8" width="5.7" height="5.8" fill="#111d15"/>
<rect x="353.0" y="315.8" width="5.7" height="5.8" fill="#0c1610"/>
<rect x="358.4" y="315.8" width="5.7" height="5.8" fill="#16203e"/>
<rect x="363.8" y="315.8" width="5.7" height="5.8" fill="#213060"/>
<rect x="369.2" y="315.8" width="5.7" height="5.8" fill="#213060"/>
<rect x="374.6" y="315.8" width="5.7" height="5.8" fill="#213060"/>
<rect x="380.0" y="315.8" width="5.7" height="5.8" fill="#223a28"/>
<rect x="385.4" y="315.8" width="5.7" height="5.8" fill="#111d15"/>
<rect x="390.8" y="315.8" width="5.7" height="5.8" fill="#223a28"/>
<rect x="396.2" y="315.8" width="5.7" height="5.8" fill="#111d15"/>
<rect x="401.6" y="315.8" width="11.7" height="5.8" fill="#111d15"/>
<rect x="293.0" y="321.2" width="11.7" height="5.8" fill="#070c08"/>
<rect x="304.4" y="321.2" width="5.7" height="5.8" fill="#111d15"/>
<rect x="309.8" y="321.2" width="5.7" height="5.8" fill="#111d15"/>
<rect x="315.2" y="321.2" width="5.7" height="5.8" fill="#111d15"/>
<rect x="320.6" y="321.2" width="5.7" height="5.8" fill="#111d15"/>
<rect x="326.0" y="321.2" width="5.7" height="5.8" fill="#111d15"/>
<rect x="331.4" y="321.2" width="5.7" height="5.8" fill="#223a28"/>
<rect x="336.8" y="321.2" width="5.7" height="5.8" fill="#223a28"/>
<rect x="342.2" y="321.2" width="5.7" height="5.8" fill="#223a28"/>
<rect x="347.6" y="321.2" width="5.7" height="5.8" fill="#111d15"/>
<rect x="353.0" y="321.2" width="5.7" height="5.8" fill="#070c08"/>
<rect x="358.4" y="321.2" width="5.7" height="5.8" fill="#070c08"/>
<rect x="363.8" y="321.2" width="5.7" height="5.8" fill="#111d15"/>
<rect x="369.2" y="321.2" width="5.7" height="5.8" fill="#111d15"/>
<rect x="374.6" y="321.2" width="5.7" height="5.8" fill="#111d15"/>
<rect x="380.0" y="321.2" width="5.7" height="5.8" fill="#16203e"/>
<rect x="385.4" y="321.2" width="5.7" height="5.8" fill="#213060"/>
<rect x="390.8" y="321.2" width="5.7" height="5.8" fill="#111d15"/>
<rect x="396.2" y="321.2" width="5.7" height="5.8" fill="#223a28"/>
<rect x="401.6" y="321.2" width="11.7" height="5.8" fill="#111d15"/>
<rect x="293.0" y="326.7" width="11.7" height="5.8" fill="#070c08"/>
<rect x="304.4" y="326.7" width="5.7" height="5.8" fill="#16203e"/>
<rect x="309.8" y="326.7" width="5.7" height="5.8" fill="#111d15"/>
<rect x="315.2" y="326.7" width="5.7" height="5.8" fill="#111d15"/>
<rect x="320.6" y="326.7" width="5.7" height="5.8" fill="#111d15"/>
<rect x="326.0" y="326.7" width="5.7" height="5.8" fill="#111d15"/>
<rect x="331.4" y="326.7" width="5.7" height="5.8" fill="#223a28"/>
<rect x="336.8" y="326.7" width="5.7" height="5.8" fill="#223a28"/>
<rect x="342.2" y="326.7" width="5.7" height="5.8" fill="#223a28"/>
<rect x="347.6" y="326.7" width="5.7" height="5.8" fill="#111d15"/>
<rect x="353.0" y="326.7" width="5.7" height="5.8" fill="#070c08"/>
<rect x="358.4" y="326.7" width="5.7" height="5.8" fill="#070c08"/>
<rect x="363.8" y="326.7" width="5.7" height="5.8" fill="#070c08"/>
<rect x="369.2" y="326.7" width="5.7" height="5.8" fill="#070c08"/>
<rect x="374.6" y="326.7" width="5.7" height="5.8" fill="#111d15"/>
<rect x="380.0" y="326.7" width="5.7" height="5.8" fill="#070c08"/>
<rect x="385.4" y="326.7" width="5.7" height="5.8" fill="#213060"/>
<rect x="390.8" y="326.7" width="5.7" height="5.8" fill="#213060"/>
<rect x="396.2" y="326.7" width="5.7" height="5.8" fill="#111d15"/>
<rect x="401.6" y="326.7" width="11.7" height="5.8" fill="#111d15"/>
<rect x="293.0" y="332.2" width="11.7" height="5.8" fill="#070c08"/>
<rect x="304.4" y="332.2" width="5.7" height="5.8" fill="#111d15"/>
<rect x="309.8" y="332.2" width="5.7" height="5.8" fill="#111d15"/>
<rect x="315.2" y="332.2" width="5.7" height="5.8" fill="#111d15"/>
<rect x="320.6" y="332.2" width="5.7" height="5.8" fill="#111d15"/>
<rect x="326.0" y="332.2" width="5.7" height="5.8" fill="#16203e"/>
<rect x="331.4" y="332.2" width="5.7" height="5.8" fill="#16203e"/>
<rect x="336.8" y="332.2" width="5.7" height="5.8" fill="#111d15"/>
<rect x="342.2" y="332.2" width="5.7" height="5.8" fill="#111d15"/>
<rect x="347.6" y="332.2" width="5.7" height="5.8" fill="#223a28"/>
<rect x="353.0" y="332.2" width="5.7" height="5.8" fill="#111d15"/>
<rect x="358.4" y="332.2" width="5.7" height="5.8" fill="#070c08"/>
<rect x="363.8" y="332.2" width="5.7" height="5.8" fill="#070c08"/>
<rect x="369.2" y="332.2" width="5.7" height="5.8" fill="#070c08"/>
<rect x="374.6" y="332.2" width="5.7" height="5.8" fill="#070c08"/>
<rect x="380.0" y="332.2" width="5.7" height="5.8" fill="#070c08"/>
<rect x="385.4" y="332.2" width="5.7" height="5.8" fill="#111d15"/>
<rect x="390.8" y="332.2" width="5.7" height="5.8" fill="#213060"/>
<rect x="396.2" y="332.2" width="5.7" height="5.8" fill="#28389c"/>
<rect x="401.6" y="332.2" width="11.7" height="5.8" fill="#111d15"/>
<rect x="293.0" y="337.6" width="11.7" height="5.8" fill="#070c08"/>
<rect x="304.4" y="337.6" width="5.7" height="5.8" fill="#111d15"/>
<rect x="309.8" y="337.6" width="5.7" height="5.8" fill="#111d15"/>
<rect x="315.2" y="337.6" width="5.7" height="5.8" fill="#3c7038"/>
<rect x="320.6" y="337.6" width="5.7" height="5.8" fill="#111d15"/>
<rect x="326.0" y="337.6" width="5.7" height="5.8" fill="#16203e"/>
<rect x="331.4" y="337.6" width="5.7" height="5.8" fill="#16203e"/>
<rect x="336.8" y="337.6" width="5.7" height="5.8" fill="#111d15"/>
<rect x="342.2" y="337.6" width="5.7" height="5.8" fill="#111d15"/>
<rect x="347.6" y="337.6" width="5.7" height="5.8" fill="#16203e"/>
<rect x="353.0" y="337.6" width="5.7" height="5.8" fill="#111d15"/>
<rect x="358.4" y="337.6" width="5.7" height="5.8" fill="#16203e"/>
<rect x="363.8" y="337.6" width="5.7" height="5.8" fill="#111d15"/>
<rect x="369.2" y="337.6" width="5.7" height="5.8" fill="#070c08"/>
<rect x="374.6" y="337.6" width="5.7" height="5.8" fill="#070c08"/>
<rect x="380.0" y="337.6" width="5.7" height="5.8" fill="#070c08"/>
<rect x="385.4" y="337.6" width="5.7" height="5.8" fill="#111d15"/>
<rect x="390.8" y="337.6" width="5.7" height="5.8" fill="#213060"/>
<rect x="396.2" y="337.6" width="5.7" height="5.8" fill="#111d15"/>
<rect x="401.6" y="337.6" width="11.7" height="5.8" fill="#111d15"/>
<rect x="293.0" y="343.1" width="11.7" height="5.8" fill="#070c08"/>
<rect x="304.4" y="343.1" width="5.7" height="5.8" fill="#111d15"/>
<rect x="309.8" y="343.1" width="5.7" height="5.8" fill="#111d15"/>
<rect x="315.2" y="343.1" width="5.7" height="5.8" fill="#111d15"/>
<rect x="320.6" y="343.1" width="5.7" height="5.8" fill="#111d15"/>
<rect x="326.0" y="343.1" width="5.7" height="5.8" fill="#111d15"/>
<rect x="331.4" y="343.1" width="5.7" height="5.8" fill="#16203e"/>
<rect x="336.8" y="343.1" width="5.7" height="5.8" fill="#111d15"/>
<rect x="342.2" y="343.1" width="5.7" height="5.8" fill="#111d15"/>
<rect x="347.6" y="343.1" width="5.7" height="5.8" fill="#16203e"/>
<rect x="353.0" y="343.1" width="5.7" height="5.8" fill="#213060"/>
<rect x="358.4" y="343.1" width="5.7" height="5.8" fill="#213060"/>
<rect x="363.8" y="343.1" width="5.7" height="5.8" fill="#16203e"/>
<rect x="369.2" y="343.1" width="5.7" height="5.8" fill="#16203e"/>
<rect x="374.6" y="343.1" width="5.7" height="5.8" fill="#111d15"/>
<rect x="380.0" y="343.1" width="5.7" height="5.8" fill="#111d15"/>
<rect x="385.4" y="343.1" width="5.7" height="5.8" fill="#070c08"/>
<rect x="390.8" y="343.1" width="5.7" height="5.8" fill="#070c08"/>
<rect x="396.2" y="343.1" width="5.7" height="5.8" fill="#111d15"/>
<rect x="401.6" y="343.1" width="11.7" height="5.8" fill="#111d15"/>
<rect x="293.0" y="348.6" width="11.7" height="5.8" fill="#3c7038"/>
<rect x="304.4" y="348.6" width="5.7" height="5.8" fill="#111d15"/>
<rect x="309.8" y="348.6" width="5.7" height="5.8" fill="#111d15"/>
<rect x="315.2" y="348.6" width="5.7" height="5.8" fill="#111d15"/>
<rect x="320.6" y="348.6" width="5.7" height="5.8" fill="#111d15"/>
<rect x="326.0" y="348.6" width="5.7" height="5.8" fill="#111d15"/>
<rect x="331.4" y="348.6" width="5.7" height="5.8" fill="#111d15"/>
<rect x="336.8" y="348.6" width="5.7" height="5.8" fill="#111d15"/>
<rect x="342.2" y="348.6" width="5.7" height="5.8" fill="#111d15"/>
<rect x="347.6" y="348.6" width="5.7" height="5.8" fill="#16203e"/>
<rect x="353.0" y="348.6" width="5.7" height="5.8" fill="#16203e"/>
<rect x="358.4" y="348.6" width="5.7" height="5.8" fill="#3c7038"/>
<rect x="363.8" y="348.6" width="5.7" height="5.8" fill="#213060"/>
<rect x="369.2" y="348.6" width="5.7" height="5.8" fill="#16203e"/>
<rect x="374.6" y="348.6" width="5.7" height="5.8" fill="#111d15"/>
<rect x="380.0" y="348.6" width="5.7" height="5.8" fill="#111d15"/>
<rect x="385.4" y="348.6" width="5.7" height="5.8" fill="#070c08"/>
<rect x="390.8" y="348.6" width="5.7" height="5.8" fill="#070c08"/>
<rect x="396.2" y="348.6" width="5.7" height="5.8" fill="#070c08"/>
<rect x="401.6" y="348.6" width="11.7" height="5.8" fill="#111d15"/>
<rect x="293.0" y="354.0" width="11.7" height="11.8" fill="#070c08"/>
<rect x="304.4" y="354.0" width="5.7" height="11.8" fill="#111d15"/>
<rect x="309.8" y="354.0" width="5.7" height="11.8" fill="#111d15"/>
<rect x="315.2" y="354.0" width="5.7" height="11.8" fill="#111d15"/>
<rect x="320.6" y="354.0" width="5.7" height="11.8" fill="#111d15"/>
<rect x="326.0" y="354.0" width="5.7" height="11.8" fill="#111d15"/>
<rect x="331.4" y="354.0" width="5.7" height="11.8" fill="#111d15"/>
<rect x="336.8" y="354.0" width="5.7" height="11.8" fill="#111d15"/>
<rect x="342.2" y="354.0" width="5.7" height="11.8" fill="#111d15"/>
<rect x="347.6" y="354.0" width="5.7" height="11.8" fill="#16203e"/>
<rect x="353.0" y="354.0" width="5.7" height="11.8" fill="#16203e"/>
<rect x="358.4" y="354.0" width="5.7" height="11.8" fill="#111d15"/>
<rect x="363.8" y="354.0" width="5.7" height="11.8" fill="#213060"/>
<rect x="369.2" y="354.0" width="5.7" height="11.8" fill="#213060"/>
<rect x="374.6" y="354.0" width="5.7" height="11.8" fill="#111d15"/>
<rect x="380.0" y="354.0" width="5.7" height="11.8" fill="#111d15"/>
<rect x="385.4" y="354.0" width="5.7" height="11.8" fill="#070c08"/>
<rect x="390.8" y="354.0" width="5.7" height="11.8" fill="#070c08"/>
<rect x="396.2" y="354.0" width="5.7" height="11.8" fill="#070c08"/>
<rect x="401.6" y="354.0" width="11.7" height="11.8" fill="#070c08"/>
</g><g filter="url(#ft)" opacity="0.3">
<circle cx="381.5" cy="309.2" r="1.4" fill="#000"/>
<circle cx="322.3" cy="332.3" r="2.0" fill="#5a7a70"/>
<circle cx="379.8" cy="285.7" r="1.8" fill="#000"/>
<circle cx="362.5" cy="358.2" r="1.5" fill="#40608a"/>
<circle cx="353.4" cy="318.2" r="1.3" fill="#000"/>
<circle cx="358.2" cy="327.3" r="2.3" fill="#40608a"/>
<circle cx="300.9" cy="288.9" r="2.2" fill="#5a7a70"/>
<circle cx="313.5" cy="280.2" r="2.1" fill="#40608a"/>
<circle cx="317.4" cy="306.9" r="2.0" fill="#40608a"/>
<circle cx="351.9" cy="344.4" r="1.6" fill="#5a7a70"/>
<circle cx="350.4" cy="354.5" r="2.4" fill="#000"/>
<circle cx="395.1" cy="279.7" r="1.8" fill="#000"/>
<circle cx="319.9" cy="343.7" r="1.8" fill="#000"/>
<circle cx="334.4" cy="332.0" r="2.0" fill="#000"/>
<circle cx="335.6" cy="309.4" r="1.3" fill="#000"/>
<circle cx="306.6" cy="347.1" r="1.4" fill="#000"/>
<circle cx="395.3" cy="353.0" r="1.7" fill="#5a7a70"/>
<circle cx="340.3" cy="326.6" r="1.4" fill="#000"/>
<circle cx="308.1" cy="331.8" r="2.4" fill="#5a7a70"/>
<circle cx="327.7" cy="337.4" r="2.3" fill="#40608a"/>
<circle cx="322.8" cy="327.5" r="2.3" fill="#000"/>
<circle cx="300.3" cy="313.7" r="1.4" fill="#000"/>
<circle cx="372.1" cy="341.8" r="1.8" fill="#40608a"/>
<circle cx="306.9" cy="323.4" r="2.0" fill="#5a7a70"/>
<circle cx="317.8" cy="343.6" r="1.3" fill="#000"/>
<circle cx="367.9" cy="323.7" r="2.2" fill="#000"/>
<circle cx="387.9" cy="316.3" r="2.3" fill="#000"/>
<circle cx="357.0" cy="296.9" r="1.8" fill="#000"/>
<circle cx="374.7" cy="308.3" r="1.3" fill="#000"/>
<circle cx="375.7" cy="316.1" r="1.5" fill="#5a7a70"/>
<circle cx="403.6" cy="323.9" r="1.9" fill="#000"/>
<circle cx="405.5" cy="357.7" r="1.4" fill="#000"/>
<circle cx="312.5" cy="326.0" r="2.0" fill="#000"/>
<circle cx="372.9" cy="299.9" r="1.9" fill="#000"/>
<circle cx="300.6" cy="279.1" r="2.1" fill="#000"/>
<circle cx="314.5" cy="352.6" r="1.5" fill="#5a7a70"/>
<circle cx="357.0" cy="334.1" r="1.5" fill="#000"/>
<circle cx="338.1" cy="346.0" r="2.4" fill="#5a7a70"/>
<circle cx="318.9" cy="312.9" r="1.4" fill="#000"/>
<circle cx="386.1" cy="282.0" r="2.4" fill="#5a7a70"/>
<circle cx="406.5" cy="343.1" r="2.4" fill="#40608a"/>
<circle cx="403.6" cy="287.5" r="1.4" fill="#5a7a70"/>
<circle cx="327.8" cy="347.7" r="2.3" fill="#000"/>
<circle cx="370.2" cy="348.6" r="2.1" fill="#000"/>
<circle cx="349.1" cy="321.9" r="1.5" fill="#5a7a70"/>
<circle cx="368.1" cy="294.0" r="2.0" fill="#000"/>
<circle cx="303.9" cy="305.4" r="1.5" fill="#000"/>
<circle cx="361.9" cy="277.9" r="1.8" fill="#5a7a70"/>
<circle cx="373.4" cy="333.8" r="1.9" fill="#5a7a70"/>
<circle cx="384.3" cy="315.2" r="1.8" fill="#000"/>
<circle cx="363.6" cy="302.7" r="2.0" fill="#40608a"/>
<circle cx="388.1" cy="295.0" r="1.7" fill="#5a7a70"/>
<circle cx="401.7" cy="281.1" r="1.3" fill="#5a7a70"/>
<circle cx="345.3" cy="307.8" r="2.4" fill="#000"/>
<circle cx="309.9" cy="298.0" r="1.4" fill="#000"/>
<circle cx="404.0" cy="283.9" r="1.3" fill="#5a7a70"/>
<circle cx="365.9" cy="288.2" r="2.2" fill="#5a7a70"/>
<circle cx="377.4" cy="337.4" r="1.5" fill="#40608a"/>
<circle cx="311.7" cy="300.8" r="2.4" fill="#40608a"/>
<circle cx="346.1" cy="343.0" r="2.0" fill="#000"/>
<circle cx="312.9" cy="357.3" r="1.6" fill="#000"/>
<circle cx="353.4" cy="299.3" r="1.4" fill="#5a7a70"/>
<circle cx="344.4" cy="353.3" r="1.9" fill="#5a7a70"/>
<circle cx="373.9" cy="284.0" r="1.6" fill="#40608a"/>
<circle cx="387.3" cy="333.9" r="2.0" fill="#40608a"/>
<circle cx="311.3" cy="349.8" r="1.6" fill="#000"/>
<circle cx="357.4" cy="318.3" r="1.4" fill="#40608a"/>
<circle cx="352.8" cy="282.8" r="1.6" fill="#000"/>
<circle cx="324.8" cy="329.2" r="1.9" fill="#5a7a70"/>
<circle cx="316.0" cy="285.7" r="2.1" fill="#5a7a70"/>
<circle cx="393.9" cy="308.1" r="1.8" fill="#5a7a70"/>
<circle cx="325.3" cy="297.7" r="2.3" fill="#000"/>
<circle cx="374.8" cy="292.1" r="1.7" fill="#40608a"/>
<circle cx="376.4" cy="357.9" r="1.7" fill="#000"/>
<circle cx="392.6" cy="291.8" r="2.1" fill="#000"/>
<circle cx="299.1" cy="301.7" r="2.3" fill="#40608a"/>
<circle cx="366.4" cy="357.7" r="1.9" fill="#000"/>
<circle cx="313.2" cy="313.7" r="2.0" fill="#000"/>
<circle cx="396.3" cy="336.3" r="1.7" fill="#5a7a70"/>
<circle cx="369.3" cy="282.7" r="2.0" fill="#000"/>
<circle cx="383.5" cy="336.2" r="1.7" fill="#5a7a70"/>
<circle cx="352.9" cy="283.6" r="1.4" fill="#5a7a70"/>
<circle cx="375.6" cy="354.2" r="1.4" fill="#000"/>
<circle cx="307.8" cy="298.8" r="2.2" fill="#000"/>
<circle cx="324.1" cy="340.1" r="2.1" fill="#40608a"/>
<circle cx="345.4" cy="317.7" r="1.7" fill="#40608a"/>
<circle cx="332.2" cy="297.6" r="1.2" fill="#000"/>
<circle cx="302.1" cy="346.8" r="1.5" fill="#000"/>
<circle cx="347.5" cy="322.7" r="1.5" fill="#000"/>
<circle cx="358.2" cy="348.0" r="2.0" fill="#40608a"/>
<circle cx="325.9" cy="342.8" r="1.7" fill="#000"/>
<circle cx="336.9" cy="303.9" r="2.2" fill="#000"/>
<circle cx="352.1" cy="332.8" r="2.4" fill="#5a7a70"/>
<circle cx="368.1" cy="312.9" r="2.2" fill="#000"/>
<circle cx="356.7" cy="356.7" r="2.0" fill="#5a7a70"/>
<circle cx="337.9" cy="357.8" r="1.9" fill="#000"/>
<circle cx="371.5" cy="308.3" r="2.1" fill="#40608a"/>
<circle cx="361.4" cy="349.2" r="2.3" fill="#000"/>
<circle cx="334.6" cy="287.8" r="2.2" fill="#5a7a70"/>
<circle cx="343.9" cy="297.2" r="2.3" fill="#000"/>
<circle cx="325.4" cy="302.6" r="1.8" fill="#000"/>
<circle cx="355.9" cy="331.3" r="2.0" fill="#000"/>
<circle cx="375.8" cy="319.1" r="1.7" fill="#000"/>
<circle cx="371.4" cy="300.0" r="2.1" fill="#5a7a70"/>
<circle cx="315.4" cy="342.6" r="1.5" fill="#000"/>
<circle cx="374.9" cy="339.2" r="1.6" fill="#000"/>
<circle cx="354.9" cy="309.6" r="2.2" fill="#000"/>
<circle cx="329.5" cy="302.9" r="1.7" fill="#000"/>
<circle cx="317.6" cy="286.0" r="1.2" fill="#5a7a70"/>
<circle cx="363.5" cy="313.2" r="1.8" fill="#5a7a70"/>
<circle cx="354.4" cy="307.1" r="1.7" fill="#000"/>
<circle cx="386.5" cy="300.3" r="2.3" fill="#000"/>
<circle cx="320.9" cy="341.7" r="1.8" fill="#000"/>
<circle cx="380.2" cy="289.4" r="2.2" fill="#000"/>
<circle cx="326.9" cy="340.8" r="2.1" fill="#5a7a70"/>
<circle cx="390.9" cy="354.4" r="2.3" fill="#000"/>
<circle cx="347.0" cy="358.9" r="1.4" fill="#000"/>
<circle cx="394.8" cy="359.2" r="1.5" fill="#000"/>
<circle cx="377.7" cy="335.3" r="1.5" fill="#40608a"/>
<circle cx="384.3" cy="318.8" r="2.0" fill="#000"/>
<circle cx="323.4" cy="347.7" r="1.9" fill="#000"/>
<circle cx="406.5" cy="340.8" r="1.9" fill="#5a7a70"/>
<circle cx="356.5" cy="295.5" r="1.6" fill="#40608a"/>
<circle cx="355.9" cy="280.1" r="2.0" fill="#5a7a70"/>
<circle cx="352.2" cy="314.9" r="2.0" fill="#5a7a70"/>
<circle cx="351.7" cy="351.6" r="2.3" fill="#000"/>
<circle cx="377.3" cy="336.4" r="1.4" fill="#40608a"/>
<circle cx="395.4" cy="347.9" r="1.4" fill="#000"/>
<circle cx="320.3" cy="304.7" r="1.4" fill="#40608a"/>
<circle cx="301.6" cy="292.0" r="2.0" fill="#5a7a70"/>
<circle cx="374.5" cy="309.9" r="1.7" fill="#000"/>
<circle cx="383.4" cy="341.7" r="1.9" fill="#000"/>
<circle cx="348.6" cy="297.9" r="2.1" fill="#000"/>
<circle cx="314.4" cy="326.6" r="2.0" fill="#000"/>
<circle cx="373.5" cy="348.7" r="2.0" fill="#40608a"/>
<circle cx="321.7" cy="313.1" r="2.1" fill="#40608a"/>
<circle cx="315.4" cy="344.6" r="2.0" fill="#5a7a70"/>
<circle cx="300.1" cy="300.4" r="2.0" fill="#5a7a70"/>
<circle cx="359.4" cy="325.5" r="1.3" fill="#5a7a70"/>
<circle cx="330.7" cy="336.7" r="1.3" fill="#5a7a70"/>
<circle cx="404.8" cy="353.1" r="1.5" fill="#000"/>
<circle cx="346.0" cy="297.0" r="1.4" fill="#5a7a70"/>
<circle cx="380.8" cy="279.2" r="1.3" fill="#000"/>
<circle cx="337.6" cy="298.7" r="1.6" fill="#000"/>
<circle cx="345.3" cy="319.1" r="1.3" fill="#000"/>
<circle cx="302.1" cy="308.0" r="2.2" fill="#000"/>
<circle cx="398.6" cy="306.6" r="1.9" fill="#5a7a70"/>
<circle cx="311.7" cy="297.7" r="2.2" fill="#5a7a70"/>
<circle cx="315.9" cy="312.6" r="1.4" fill="#000"/>
<circle cx="354.3" cy="298.5" r="1.7" fill="#40608a"/>
<circle cx="404.4" cy="334.0" r="1.8" fill="#5a7a70"/>
<circle cx="353.8" cy="293.3" r="2.0" fill="#5a7a70"/>
<circle cx="400.8" cy="343.7" r="1.4" fill="#000"/>
<circle cx="331.6" cy="351.6" r="1.9" fill="#40608a"/>
<circle cx="338.7" cy="315.0" r="2.0" fill="#40608a"/>
<circle cx="384.3" cy="334.1" r="1.8" fill="#40608a"/>
<circle cx="359.0" cy="301.7" r="2.3" fill="#000"/>
<circle cx="375.1" cy="331.5" r="1.6" fill="#000"/>
<circle cx="312.6" cy="315.2" r="2.1" fill="#40608a"/>
<circle cx="390.1" cy="343.6" r="2.4" fill="#000"/>
<circle cx="311.0" cy="341.7" r="1.7" fill="#000"/>
<circle cx="333.7" cy="337.2" r="1.8" fill="#40608a"/>
<circle cx="321.6" cy="296.8" r="1.9" fill="#000"/>
<circle cx="358.7" cy="279.7" r="2.0" fill="#40608a"/>
<circle cx="392.0" cy="304.6" r="1.3" fill="#40608a"/>
<circle cx="400.0" cy="293.5" r="2.3" fill="#000"/>
<circle cx="379.6" cy="345.8" r="2.1" fill="#5a7a70"/>
<circle cx="389.5" cy="344.4" r="2.2" fill="#000"/>
<circle cx="392.9" cy="316.3" r="1.8" fill="#000"/>
<circle cx="355.9" cy="331.8" r="2.0" fill="#000"/>
<circle cx="390.0" cy="320.1" r="1.9" fill="#40608a"/>
<circle cx="353.7" cy="306.2" r="2.2" fill="#000"/>
<circle cx="302.8" cy="280.2" r="1.8" fill="#000"/>
<circle cx="342.7" cy="287.7" r="1.9" fill="#000"/>
<circle cx="361.8" cy="353.1" r="1.4" fill="#40608a"/>
<circle cx="406.5" cy="322.2" r="2.3" fill="#000"/>
<circle cx="348.6" cy="339.6" r="1.5" fill="#000"/>
<circle cx="389.0" cy="312.6" r="1.8" fill="#000"/>
<circle cx="377.1" cy="310.3" r="1.4" fill="#5a7a70"/>
<circle cx="345.4" cy="320.0" r="1.6" fill="#40608a"/>
<circle cx="382.4" cy="282.8" r="1.3" fill="#5a7a70"/>
<circle cx="311.4" cy="324.8" r="1.9" fill="#000"/>
<circle cx="343.5" cy="344.8" r="2.2" fill="#000"/>
<circle cx="378.1" cy="286.2" r="1.9" fill="#000"/>
<circle cx="392.5" cy="354.7" r="2.1" fill="#5a7a70"/>
<circle cx="356.4" cy="358.3" r="1.3" fill="#000"/>
<circle cx="358.7" cy="300.8" r="2.1" fill="#40608a"/>
<circle cx="332.0" cy="350.9" r="2.3" fill="#40608a"/>
<circle cx="309.2" cy="308.0" r="2.0" fill="#5a7a70"/>
<circle cx="329.3" cy="310.1" r="1.3" fill="#40608a"/>
<circle cx="396.3" cy="292.4" r="1.3" fill="#000"/>
<circle cx="404.6" cy="280.7" r="2.2" fill="#000"/>
<circle cx="331.0" cy="283.9" r="2.0" fill="#000"/>
<circle cx="337.3" cy="307.0" r="2.1" fill="#40608a"/>
<circle cx="307.5" cy="293.5" r="1.6" fill="#000"/>
<circle cx="397.8" cy="331.8" r="2.4" fill="#40608a"/>
<circle cx="317.9" cy="340.8" r="2.3" fill="#000"/>
<circle cx="305.2" cy="284.2" r="2.3" fill="#5a7a70"/>
<circle cx="313.4" cy="284.2" r="2.4" fill="#000"/>
<circle cx="378.5" cy="314.1" r="2.2" fill="#000"/>
<circle cx="302.4" cy="315.4" r="2.1" fill="#000"/>
<circle cx="377.5" cy="323.0" r="1.9" fill="#000"/>
<circle cx="356.6" cy="289.1" r="2.1" fill="#000"/>
<circle cx="368.3" cy="291.6" r="2.3" fill="#5a7a70"/>
<circle cx="393.5" cy="294.5" r="2.0" fill="#000"/>
<circle cx="352.0" cy="312.8" r="1.4" fill="#40608a"/>
<circle cx="356.5" cy="334.9" r="1.6" fill="#000"/>
<circle cx="317.1" cy="280.7" r="2.3" fill="#000"/>
<circle cx="358.2" cy="320.3" r="1.3" fill="#000"/>
<circle cx="357.5" cy="296.2" r="1.3" fill="#000"/>
<circle cx="332.5" cy="295.2" r="1.7" fill="#000"/>
<circle cx="396.5" cy="322.2" r="1.6" fill="#000"/>
<circle cx="305.3" cy="333.5" r="2.2" fill="#000"/>
<circle cx="385.8" cy="301.4" r="1.9" fill="#000"/>
<circle cx="372.2" cy="338.5" r="2.0" fill="#000"/>
<circle cx="405.3" cy="328.4" r="1.5" fill="#40608a"/>
<circle cx="366.6" cy="328.5" r="2.3" fill="#5a7a70"/>
<circle cx="375.8" cy="357.9" r="1.8" fill="#40608a"/>
<circle cx="374.5" cy="316.6" r="1.4" fill="#000"/>
<circle cx="389.6" cy="342.8" r="1.5" fill="#000"/>
<circle cx="385.1" cy="347.1" r="1.9" fill="#40608a"/>
</g><g filter="url(#fs)">
<ellipse cx="325.8" cy="291.2" rx="1.7" ry="1.1" fill="#a8f060" opacity="0.96" transform="rotate(-24 325.8 291.2)"/>
<ellipse cx="371.2" cy="295.6" rx="1.9" ry="1.1" fill="#a8f060" opacity="0.83" transform="rotate(-34 371.2 295.6)"/>
<ellipse cx="319.8" cy="341.0" rx="1.9" ry="1.1" fill="#a8f060" opacity="0.92" transform="rotate(-63 319.8 341.0)"/>
<ellipse cx="362.7" cy="348.9" rx="1.7" ry="1.1" fill="#a8f060" opacity="0.96" transform="rotate(54 362.7 348.9)"/>
<ellipse cx="300.5" cy="349.0" rx="2.1" ry="1.1" fill="#a8f060" opacity="0.87" transform="rotate(-65 300.5 349.0)"/>
</g></g>
<g clip-path="url(#cBR)">
<rect x="409" y="277.5" width="110" height="82.0" fill="#142319"/>
<g filter="url(#fb)">
<rect x="403.0" y="271.5" width="11.8" height="11.8" fill="#070c08"/>
<rect x="414.5" y="271.5" width="5.8" height="11.8" fill="#29492e"/>
<rect x="420.0" y="271.5" width="5.8" height="11.8" fill="#283c90"/>
<rect x="425.5" y="271.5" width="5.8" height="11.8" fill="#283c90"/>
<rect x="431.0" y="271.5" width="5.8" height="11.8" fill="#283c90"/>
<rect x="436.5" y="271.5" width="5.8" height="11.8" fill="#283c90"/>
<rect x="442.0" y="271.5" width="5.8" height="11.8" fill="#283c90"/>
<rect x="447.5" y="271.5" width="5.8" height="11.8" fill="#142319"/>
<rect x="453.0" y="271.5" width="5.8" height="11.8" fill="#468442"/>
<rect x="458.5" y="271.5" width="5.8" height="11.8" fill="#142319"/>
<rect x="464.0" y="271.5" width="5.8" height="11.8" fill="#142319"/>
<rect x="469.5" y="271.5" width="5.8" height="11.8" fill="#29492e"/>
<rect x="475.0" y="271.5" width="5.8" height="11.8" fill="#142319"/>
<rect x="480.5" y="271.5" width="5.8" height="11.8" fill="#142319"/>
<rect x="486.0" y="271.5" width="5.8" height="11.8" fill="#142319"/>
<rect x="491.5" y="271.5" width="5.8" height="11.8" fill="#29492e"/>
<rect x="497.0" y="271.5" width="5.8" height="11.8" fill="#2e4654"/>
<rect x="502.5" y="271.5" width="5.8" height="11.8" fill="#283c90"/>
<rect x="508.0" y="271.5" width="5.8" height="11.8" fill="#283c90"/>
<rect x="513.5" y="271.5" width="11.8" height="11.8" fill="#1a2856"/>
<rect x="403.0" y="283.0" width="11.8" height="5.8" fill="#070c08"/>
<rect x="414.5" y="283.0" width="5.8" height="5.8" fill="#29492e"/>
<rect x="420.0" y="283.0" width="5.8" height="5.8" fill="#283c90"/>
<rect x="425.5" y="283.0" width="5.8" height="5.8" fill="#283c90"/>
<rect x="431.0" y="283.0" width="5.8" height="5.8" fill="#468442"/>
<rect x="436.5" y="283.0" width="5.8" height="5.8" fill="#468442"/>
<rect x="442.0" y="283.0" width="5.8" height="5.8" fill="#142319"/>
<rect x="447.5" y="283.0" width="5.8" height="5.8" fill="#468442"/>
<rect x="453.0" y="283.0" width="5.8" height="5.8" fill="#283c90"/>
<rect x="458.5" y="283.0" width="5.8" height="5.8" fill="#283c90"/>
<rect x="464.0" y="283.0" width="5.8" height="5.8" fill="#29492e"/>
<rect x="469.5" y="283.0" width="5.8" height="5.8" fill="#29492e"/>
<rect x="475.0" y="283.0" width="5.8" height="5.8" fill="#070c08"/>
<rect x="480.5" y="283.0" width="5.8" height="5.8" fill="#070c08"/>
<rect x="486.0" y="283.0" width="5.8" height="5.8" fill="#070c08"/>
<rect x="491.5" y="283.0" width="5.8" height="5.8" fill="#070c08"/>
<rect x="497.0" y="283.0" width="5.8" height="5.8" fill="#142319"/>
<rect x="502.5" y="283.0" width="5.8" height="5.8" fill="#283c90"/>
<rect x="508.0" y="283.0" width="5.8" height="5.8" fill="#283c90"/>
<rect x="513.5" y="283.0" width="11.8" height="5.8" fill="#283c90"/>
<rect x="403.0" y="288.4" width="11.8" height="5.8" fill="#070c08"/>
<rect x="414.5" y="288.4" width="5.8" height="5.8" fill="#29492e"/>
<rect x="420.0" y="288.4" width="5.8" height="5.8" fill="#29492e"/>
<rect x="425.5" y="288.4" width="5.8" height="5.8" fill="#142319"/>
<rect x="431.0" y="288.4" width="5.8" height="5.8" fill="#468442"/>
<rect x="436.5" y="288.4" width="5.8" height="5.8" fill="#283c90"/>
<rect x="442.0" y="288.4" width="5.8" height="5.8" fill="#142319"/>
<rect x="447.5" y="288.4" width="5.8" height="5.8" fill="#142319"/>
<rect x="453.0" y="288.4" width="5.8" height="5.8" fill="#283c90"/>
<rect x="458.5" y="288.4" width="5.8" height="5.8" fill="#283c90"/>
<rect x="464.0" y="288.4" width="5.8" height="5.8" fill="#2e4654"/>
<rect x="469.5" y="288.4" width="5.8" height="5.8" fill="#142319"/>
<rect x="475.0" y="288.4" width="5.8" height="5.8" fill="#070c08"/>
<rect x="480.5" y="288.4" width="5.8" height="5.8" fill="#070c08"/>
<rect x="486.0" y="288.4" width="5.8" height="5.8" fill="#070c08"/>
<rect x="491.5" y="288.4" width="5.8" height="5.8" fill="#070c08"/>
<rect x="497.0" y="288.4" width="5.8" height="5.8" fill="#142319"/>
<rect x="502.5" y="288.4" width="5.8" height="5.8" fill="#283c90"/>
<rect x="508.0" y="288.4" width="5.8" height="5.8" fill="#2e4654"/>
<rect x="513.5" y="288.4" width="11.8" height="5.8" fill="#283c90"/>
<rect x="403.0" y="293.9" width="11.8" height="5.8" fill="#070c08"/>
<rect x="414.5" y="293.9" width="5.8" height="5.8" fill="#29492e"/>
<rect x="420.0" y="293.9" width="5.8" height="5.8" fill="#29492e"/>
<rect x="425.5" y="293.9" width="5.8" height="5.8" fill="#29492e"/>
<rect x="431.0" y="293.9" width="5.8" height="5.8" fill="#142319"/>
<rect x="436.5" y="293.9" width="5.8" height="5.8" fill="#070c08"/>
<rect x="442.0" y="293.9" width="5.8" height="5.8" fill="#070c08"/>
<rect x="447.5" y="293.9" width="5.8" height="5.8" fill="#142319"/>
<rect x="453.0" y="293.9" width="5.8" height="5.8" fill="#283c90"/>
<rect x="458.5" y="293.9" width="5.8" height="5.8" fill="#283c90"/>
<rect x="464.0" y="293.9" width="5.8" height="5.8" fill="#142319"/>
<rect x="469.5" y="293.9" width="5.8" height="5.8" fill="#070c08"/>
<rect x="475.0" y="293.9" width="5.8" height="5.8" fill="#070c08"/>
<rect x="480.5" y="293.9" width="5.8" height="5.8" fill="#070c08"/>
<rect x="486.0" y="293.9" width="5.8" height="5.8" fill="#070c08"/>
<rect x="491.5" y="293.9" width="5.8" height="5.8" fill="#070c08"/>
<rect x="497.0" y="293.9" width="5.8" height="5.8" fill="#070c08"/>
<rect x="502.5" y="293.9" width="5.8" height="5.8" fill="#2e4654"/>
<rect x="508.0" y="293.9" width="5.8" height="5.8" fill="#142319"/>
<rect x="513.5" y="293.9" width="11.8" height="5.8" fill="#283c90"/>
<rect x="403.0" y="299.4" width="11.8" height="5.8" fill="#070c08"/>
<rect x="414.5" y="299.4" width="5.8" height="5.8" fill="#142319"/>
<rect x="420.0" y="299.4" width="5.8" height="5.8" fill="#29492e"/>
<rect x="425.5" y="299.4" width="5.8" height="5.8" fill="#29492e"/>
<rect x="431.0" y="299.4" width="5.8" height="5.8" fill="#142319"/>
<rect x="436.5" y="299.4" width="5.8" height="5.8" fill="#070c08"/>
<rect x="442.0" y="299.4" width="5.8" height="5.8" fill="#070c08"/>
<rect x="447.5" y="299.4" width="5.8" height="5.8" fill="#142319"/>
<rect x="453.0" y="299.4" width="5.8" height="5.8" fill="#1a2856"/>
<rect x="458.5" y="299.4" width="5.8" height="5.8" fill="#283c90"/>
<rect x="464.0" y="299.4" width="5.8" height="5.8" fill="#142319"/>
<rect x="469.5" y="299.4" width="5.8" height="5.8" fill="#070c08"/>
<rect x="475.0" y="299.4" width="5.8" height="5.8" fill="#070c08"/>
<rect x="480.5" y="299.4" width="5.8" height="5.8" fill="#070c08"/>
<rect x="486.0" y="299.4" width="5.8" height="5.8" fill="#070c08"/>
<rect x="491.5" y="299.4" width="5.8" height="5.8" fill="#070c08"/>
<rect x="497.0" y="299.4" width="5.8" height="5.8" fill="#070c08"/>
<rect x="502.5" y="299.4" width="5.8" height="5.8" fill="#142319"/>
<rect x="508.0" y="299.4" width="5.8" height="5.8" fill="#070c08"/>
<rect x="513.5" y="299.4" width="11.8" height="5.8" fill="#070c08"/>
<rect x="403.0" y="304.8" width="11.8" height="5.8" fill="#070c08"/>
<rect x="414.5" y="304.8" width="5.8" height="5.8" fill="#142319"/>
<rect x="420.0" y="304.8" width="5.8" height="5.8" fill="#283c90"/>
<rect x="425.5" y="304.8" width="5.8" height="5.8" fill="#29492e"/>
<rect x="431.0" y="304.8" width="5.8" height="5.8" fill="#283c90"/>
<rect x="436.5" y="304.8" width="5.8" height="5.8" fill="#142319"/>
<rect x="442.0" y="304.8" width="5.8" height="5.8" fill="#283c90"/>
<rect x="447.5" y="304.8" width="5.8" height="5.8" fill="#283c90"/>
<rect x="453.0" y="304.8" width="5.8" height="5.8" fill="#283c90"/>
<rect x="458.5" y="304.8" width="5.8" height="5.8" fill="#142319"/>
<rect x="464.0" y="304.8" width="5.8" height="5.8" fill="#142319"/>
<rect x="469.5" y="304.8" width="5.8" height="5.8" fill="#070c08"/>
<rect x="475.0" y="304.8" width="5.8" height="5.8" fill="#070c08"/>
<rect x="480.5" y="304.8" width="5.8" height="5.8" fill="#070c08"/>
<rect x="486.0" y="304.8" width="5.8" height="5.8" fill="#070c08"/>
<rect x="491.5" y="304.8" width="5.8" height="5.8" fill="#070c08"/>
<rect x="497.0" y="304.8" width="5.8" height="5.8" fill="#468442"/>
<rect x="502.5" y="304.8" width="5.8" height="5.8" fill="#283c90"/>
<rect x="508.0" y="304.8" width="5.8" height="5.8" fill="#142319"/>
<rect x="513.5" y="304.8" width="11.8" height="5.8" fill="#142319"/>
<rect x="403.0" y="310.3" width="11.8" height="5.8" fill="#070c08"/>
<rect x="414.5" y="310.3" width="5.8" height="5.8" fill="#283c90"/>
<rect x="420.0" y="310.3" width="5.8" height="5.8" fill="#283c90"/>
<rect x="425.5" y="310.3" width="5.8" height="5.8" fill="#142319"/>
<rect x="431.0" y="310.3" width="5.8" height="5.8" fill="#142319"/>
<rect x="436.5" y="310.3" width="5.8" height="5.8" fill="#283c90"/>
<rect x="442.0" y="310.3" width="5.8" height="5.8" fill="#283c90"/>
<rect x="447.5" y="310.3" width="5.8" height="5.8" fill="#283c90"/>
<rect x="453.0" y="310.3" width="5.8" height="5.8" fill="#283c90"/>
<rect x="458.5" y="310.3" width="5.8" height="5.8" fill="#468442"/>
<rect x="464.0" y="310.3" width="5.8" height="5.8" fill="#070c08"/>
<rect x="469.5" y="310.3" width="5.8" height="5.8" fill="#070c08"/>
<rect x="475.0" y="310.3" width="5.8" height="5.8" fill="#070c08"/>
<rect x="480.5" y="310.3" width="5.8" height="5.8" fill="#070c08"/>
<rect x="486.0" y="310.3" width="5.8" height="5.8" fill="#070c08"/>
<rect x="491.5" y="310.3" width="5.8" height="5.8" fill="#142319"/>
<rect x="497.0" y="310.3" width="5.8" height="5.8" fill="#2a3cc0"/>
<rect x="502.5" y="310.3" width="5.8" height="5.8" fill="#2a3cc0"/>
<rect x="508.0" y="310.3" width="5.8" height="5.8" fill="#283c90"/>
<rect x="513.5" y="310.3" width="11.8" height="5.8" fill="#142319"/>
<rect x="403.0" y="315.8" width="11.8" height="5.8" fill="#070c08"/>
<rect x="414.5" y="315.8" width="5.8" height="5.8" fill="#468442"/>
<rect x="420.0" y="315.8" width="5.8" height="5.8" fill="#142319"/>
<rect x="425.5" y="315.8" width="5.8" height="5.8" fill="#142319"/>
<rect x="431.0" y="315.8" width="5.8" height="5.8" fill="#142319"/>
<rect x="436.5" y="315.8" width="5.8" height="5.8" fill="#283c90"/>
<rect x="442.0" y="315.8" width="5.8" height="5.8" fill="#142319"/>
<rect x="447.5" y="315.8" width="5.8" height="5.8" fill="#142319"/>
<rect x="453.0" y="315.8" width="5.8" height="5.8" fill="#142319"/>
<rect x="458.5" y="315.8" width="5.8" height="5.8" fill="#142319"/>
<rect x="464.0" y="315.8" width="5.8" height="5.8" fill="#070c08"/>
<rect x="469.5" y="315.8" width="5.8" height="5.8" fill="#142319"/>
<rect x="475.0" y="315.8" width="5.8" height="5.8" fill="#29492e"/>
<rect x="480.5" y="315.8" width="5.8" height="5.8" fill="#142319"/>
<rect x="486.0" y="315.8" width="5.8" height="5.8" fill="#070c08"/>
<rect x="491.5" y="315.8" width="5.8" height="5.8" fill="#070c08"/>
<rect x="497.0" y="315.8" width="5.8" height="5.8" fill="#2a3cc0"/>
<rect x="502.5" y="315.8" width="5.8" height="5.8" fill="#2a3cc0"/>
<rect x="508.0" y="315.8" width="5.8" height="5.8" fill="#142319"/>
<rect x="513.5" y="315.8" width="11.8" height="5.8" fill="#142319"/>
<rect x="403.0" y="321.2" width="11.8" height="5.8" fill="#070c08"/>
<rect x="414.5" y="321.2" width="5.8" height="5.8" fill="#29492e"/>
<rect x="420.0" y="321.2" width="5.8" height="5.8" fill="#142319"/>
<rect x="425.5" y="321.2" width="5.8" height="5.8" fill="#070c08"/>
<rect x="431.0" y="321.2" width="5.8" height="5.8" fill="#070c08"/>
<rect x="436.5" y="321.2" width="5.8" height="5.8" fill="#142319"/>
<rect x="442.0" y="321.2" width="5.8" height="5.8" fill="#283c90"/>
<rect x="447.5" y="321.2" width="5.8" height="5.8" fill="#283c90"/>
<rect x="453.0" y="321.2" width="5.8" height="5.8" fill="#468442"/>
<rect x="458.5" y="321.2" width="5.8" height="5.8" fill="#142319"/>
<rect x="464.0" y="321.2" width="5.8" height="5.8" fill="#283c90"/>
<rect x="469.5" y="321.2" width="5.8" height="5.8" fill="#468442"/>
<rect x="475.0" y="321.2" width="5.8" height="5.8" fill="#283c90"/>
<rect x="480.5" y="321.2" width="5.8" height="5.8" fill="#283c90"/>
<rect x="486.0" y="321.2" width="5.8" height="5.8" fill="#283c90"/>
<rect x="491.5" y="321.2" width="5.8" height="5.8" fill="#2e4654"/>
<rect x="497.0" y="321.2" width="5.8" height="5.8" fill="#283c90"/>
<rect x="502.5" y="321.2" width="5.8" height="5.8" fill="#29492e"/>
<rect x="508.0" y="321.2" width="5.8" height="5.8" fill="#142319"/>
<rect x="513.5" y="321.2" width="11.8" height="5.8" fill="#070c08"/>
<rect x="403.0" y="326.7" width="11.8" height="5.8" fill="#070c08"/>
<rect x="414.5" y="326.7" width="5.8" height="5.8" fill="#2e4654"/>
<rect x="420.0" y="326.7" width="5.8" height="5.8" fill="#283c90"/>
<rect x="425.5" y="326.7" width="5.8" height="5.8" fill="#142319"/>
<rect x="431.0" y="326.7" width="5.8" height="5.8" fill="#142319"/>
<rect x="436.5" y="326.7" width="5.8" height="5.8" fill="#2e4654"/>
<rect x="442.0" y="326.7" width="5.8" height="5.8" fill="#283c90"/>
<rect x="447.5" y="326.7" width="5.8" height="5.8" fill="#2e4654"/>
<rect x="453.0" y="326.7" width="5.8" height="5.8" fill="#142319"/>
<rect x="458.5" y="326.7" width="5.8" height="5.8" fill="#142319"/>
<rect x="464.0" y="326.7" width="5.8" height="5.8" fill="#283c90"/>
<rect x="469.5" y="326.7" width="5.8" height="5.8" fill="#29492e"/>
<rect x="475.0" y="326.7" width="5.8" height="5.8" fill="#283c90"/>
<rect x="480.5" y="326.7" width="5.8" height="5.8" fill="#283c90"/>
<rect x="486.0" y="326.7" width="5.8" height="5.8" fill="#2e4654"/>
<rect x="491.5" y="326.7" width="5.8" height="5.8" fill="#142319"/>
<rect x="497.0" y="326.7" width="5.8" height="5.8" fill="#142319"/>
<rect x="502.5" y="326.7" width="5.8" height="5.8" fill="#29492e"/>
<rect x="508.0" y="326.7" width="5.8" height="5.8" fill="#142319"/>
<rect x="513.5" y="326.7" width="11.8" height="5.8" fill="#070c08"/>
<rect x="403.0" y="332.2" width="11.8" height="5.8" fill="#070c08"/>
<rect x="414.5" y="332.2" width="5.8" height="5.8" fill="#2e4654"/>
<rect x="420.0" y="332.2" width="5.8" height="5.8" fill="#283c90"/>
<rect x="425.5" y="332.2" width="5.8" height="5.8" fill="#29492e"/>
<rect x="431.0" y="332.2" width="5.8" height="5.8" fill="#2e4654"/>
<rect x="436.5" y="332.2" width="5.8" height="5.8" fill="#29492e"/>
<rect x="442.0" y="332.2" width="5.8" height="5.8" fill="#2e4654"/>
<rect x="447.5" y="332.2" width="5.8" height="5.8" fill="#142319"/>
<rect x="453.0" y="332.2" width="5.8" height="5.8" fill="#29492e"/>
<rect x="458.5" y="332.2" width="5.8" height="5.8" fill="#468442"/>
<rect x="464.0" y="332.2" width="5.8" height="5.8" fill="#283c90"/>
<rect x="469.5" y="332.2" width="5.8" height="5.8" fill="#283c90"/>
<rect x="475.0" y="332.2" width="5.8" height="5.8" fill="#29492e"/>
<rect x="480.5" y="332.2" width="5.8" height="5.8" fill="#142319"/>
<rect x="486.0" y="332.2" width="5.8" height="5.8" fill="#142319"/>
<rect x="491.5" y="332.2" width="5.8" height="5.8" fill="#070c08"/>
<rect x="497.0" y="332.2" width="5.8" height="5.8" fill="#070c08"/>
<rect x="502.5" y="332.2" width="5.8" height="5.8" fill="#142319"/>
<rect x="508.0" y="332.2" width="5.8" height="5.8" fill="#070c08"/>
<rect x="513.5" y="332.2" width="11.8" height="5.8" fill="#070c08"/>
<rect x="403.0" y="337.6" width="11.8" height="5.8" fill="#070c08"/>
<rect x="414.5" y="337.6" width="5.8" height="5.8" fill="#29492e"/>
<rect x="420.0" y="337.6" width="5.8" height="5.8" fill="#29492e"/>
<rect x="425.5" y="337.6" width="5.8" height="5.8" fill="#142319"/>
<rect x="431.0" y="337.6" width="5.8" height="5.8" fill="#29492e"/>
<rect x="436.5" y="337.6" width="5.8" height="5.8" fill="#29492e"/>
<rect x="442.0" y="337.6" width="5.8" height="5.8" fill="#142319"/>
<rect x="447.5" y="337.6" width="5.8" height="5.8" fill="#070c08"/>
<rect x="453.0" y="337.6" width="5.8" height="5.8" fill="#142319"/>
<rect x="458.5" y="337.6" width="5.8" height="5.8" fill="#468442"/>
<rect x="464.0" y="337.6" width="5.8" height="5.8" fill="#283c90"/>
<rect x="469.5" y="337.6" width="5.8" height="5.8" fill="#283c90"/>
<rect x="475.0" y="337.6" width="5.8" height="5.8" fill="#468442"/>
<rect x="480.5" y="337.6" width="5.8" height="5.8" fill="#1a2856"/>
<rect x="486.0" y="337.6" width="5.8" height="5.8" fill="#070c08"/>
<rect x="491.5" y="337.6" width="5.8" height="5.8" fill="#070c08"/>
<rect x="497.0" y="337.6" width="5.8" height="5.8" fill="#070c08"/>
<rect x="502.5" y="337.6" width="5.8" height="5.8" fill="#070c08"/>
<rect x="508.0" y="337.6" width="5.8" height="5.8" fill="#070c08"/>
<rect x="513.5" y="337.6" width="11.8" height="5.8" fill="#070c08"/>
<rect x="403.0" y="343.1" width="11.8" height="5.8" fill="#070c08"/>
<rect x="414.5" y="343.1" width="5.8" height="5.8" fill="#29492e"/>
<rect x="420.0" y="343.1" width="5.8" height="5.8" fill="#468442"/>
<rect x="425.5" y="343.1" width="5.8" height="5.8" fill="#142319"/>
<rect x="431.0" y="343.1" width="5.8" height="5.8" fill="#29492e"/>
<rect x="436.5" y="343.1" width="5.8" height="5.8" fill="#142319"/>
<rect x="442.0" y="343.1" width="5.8" height="5.8" fill="#070c08"/>
<rect x="447.5" y="343.1" width="5.8" height="5.8" fill="#283c90"/>
<rect x="453.0" y="343.1" width="5.8" height="5.8" fill="#283c90"/>
<rect x="458.5" y="343.1" width="5.8" height="5.8" fill="#2a3cc0"/>
<rect x="464.0" y="343.1" width="5.8" height="5.8" fill="#283c90"/>
<rect x="469.5" y="343.1" width="5.8" height="5.8" fill="#283c90"/>
<rect x="475.0" y="343.1" width="5.8" height="5.8" fill="#29492e"/>
<rect x="480.5" y="343.1" width="5.8" height="5.8" fill="#283c90"/>
<rect x="486.0" y="343.1" width="5.8" height="5.8" fill="#070c08"/>
<rect x="491.5" y="343.1" width="5.8" height="5.8" fill="#070c08"/>
<rect x="497.0" y="343.1" width="5.8" height="5.8" fill="#070c08"/>
<rect x="502.5" y="343.1" width="5.8" height="5.8" fill="#070c08"/>
<rect x="508.0" y="343.1" width="5.8" height="5.8" fill="#070c08"/>
<rect x="513.5" y="343.1" width="11.8" height="5.8" fill="#070c08"/>
<rect x="403.0" y="348.6" width="11.8" height="5.8" fill="#070c08"/>
<rect x="414.5" y="348.6" width="5.8" height="5.8" fill="#29492e"/>
<rect x="420.0" y="348.6" width="5.8" height="5.8" fill="#29492e"/>
<rect x="425.5" y="348.6" width="5.8" height="5.8" fill="#29492e"/>
<rect x="431.0" y="348.6" width="5.8" height="5.8" fill="#142319"/>
<rect x="436.5" y="348.6" width="5.8" height="5.8" fill="#142319"/>
<rect x="442.0" y="348.6" width="5.8" height="5.8" fill="#142319"/>
<rect x="447.5" y="348.6" width="5.8" height="5.8" fill="#29492e"/>
<rect x="453.0" y="348.6" width="5.8" height="5.8" fill="#283c90"/>
<rect x="458.5" y="348.6" width="5.8" height="5.8" fill="#283c90"/>
<rect x="464.0" y="348.6" width="5.8" height="5.8" fill="#29492e"/>
<rect x="469.5" y="348.6" width="5.8" height="5.8" fill="#283c90"/>
<rect x="475.0" y="348.6" width="5.8" height="5.8" fill="#142319"/>
<rect x="480.5" y="348.6" width="5.8" height="5.8" fill="#142319"/>
<rect x="486.0" y="348.6" width="5.8" height="5.8" fill="#070c08"/>
<rect x="491.5" y="348.6" width="5.8" height="5.8" fill="#070c08"/>
<rect x="497.0" y="348.6" width="5.8" height="5.8" fill="#070c08"/>
<rect x="502.5" y="348.6" width="5.8" height="5.8" fill="#070c08"/>
<rect x="508.0" y="348.6" width="5.8" height="5.8" fill="#468442"/>
<rect x="513.5" y="348.6" width="11.8" height="5.8" fill="#070c08"/>
<rect x="403.0" y="354.0" width="11.8" height="11.8" fill="#070c08"/>
<rect x="414.5" y="354.0" width="5.8" height="11.8" fill="#142319"/>
<rect x="420.0" y="354.0" width="5.8" height="11.8" fill="#29492e"/>
<rect x="425.5" y="354.0" width="5.8" height="11.8" fill="#142319"/>
<rect x="431.0" y="354.0" width="5.8" height="11.8" fill="#142319"/>
<rect x="436.5" y="354.0" width="5.8" height="11.8" fill="#142319"/>
<rect x="442.0" y="354.0" width="5.8" height="11.8" fill="#468442"/>
<rect x="447.5" y="354.0" width="5.8" height="11.8" fill="#142319"/>
<rect x="453.0" y="354.0" width="5.8" height="11.8" fill="#283c90"/>
<rect x="458.5" y="354.0" width="5.8" height="11.8" fill="#283c90"/>
<rect x="464.0" y="354.0" width="5.8" height="11.8" fill="#142319"/>
<rect x="469.5" y="354.0" width="5.8" height="11.8" fill="#468442"/>
<rect x="475.0" y="354.0" width="5.8" height="11.8" fill="#142319"/>
<rect x="480.5" y="354.0" width="5.8" height="11.8" fill="#070c08"/>
<rect x="486.0" y="354.0" width="5.8" height="11.8" fill="#070c08"/>
<rect x="491.5" y="354.0" width="5.8" height="11.8" fill="#070c08"/>
<rect x="497.0" y="354.0" width="5.8" height="11.8" fill="#070c08"/>
<rect x="502.5" y="354.0" width="5.8" height="11.8" fill="#070c08"/>
<rect x="508.0" y="354.0" width="5.8" height="11.8" fill="#142319"/>
<rect x="513.5" y="354.0" width="11.8" height="11.8" fill="#070c08"/>
</g><g filter="url(#ft)" opacity="0.3">
<circle cx="498.2" cy="314.2" r="1.9" fill="#40608a"/>
<circle cx="433.6" cy="292.5" r="2.1" fill="#000"/>
<circle cx="505.7" cy="341.1" r="1.8" fill="#000"/>
<circle cx="440.1" cy="341.4" r="1.7" fill="#000"/>
<circle cx="410.8" cy="334.0" r="1.5" fill="#5a7a70"/>
<circle cx="412.2" cy="306.3" r="1.2" fill="#000"/>
<circle cx="487.4" cy="301.2" r="1.2" fill="#000"/>
<circle cx="432.5" cy="278.6" r="1.2" fill="#000"/>
<circle cx="428.5" cy="321.5" r="1.6" fill="#5a7a70"/>
<circle cx="414.2" cy="330.1" r="1.6" fill="#000"/>
<circle cx="505.6" cy="355.0" r="2.0" fill="#000"/>
<circle cx="470.7" cy="292.9" r="1.9" fill="#000"/>
<circle cx="512.4" cy="331.2" r="2.0" fill="#000"/>
<circle cx="461.1" cy="310.1" r="2.1" fill="#40608a"/>
<circle cx="451.6" cy="305.2" r="2.2" fill="#5a7a70"/>
<circle cx="434.3" cy="315.7" r="2.1" fill="#40608a"/>
<circle cx="443.3" cy="337.9" r="1.3" fill="#000"/>
<circle cx="460.6" cy="338.5" r="1.3" fill="#5a7a70"/>
<circle cx="516.5" cy="315.7" r="2.0" fill="#000"/>
<circle cx="416.1" cy="304.1" r="2.3" fill="#5a7a70"/>
<circle cx="412.0" cy="314.0" r="2.0" fill="#000"/>
<circle cx="458.0" cy="334.6" r="2.1" fill="#000"/>
<circle cx="429.8" cy="337.4" r="2.3" fill="#5a7a70"/>
<circle cx="452.3" cy="357.8" r="2.4" fill="#000"/>
<circle cx="464.7" cy="350.7" r="2.2" fill="#5a7a70"/>
<circle cx="423.5" cy="327.7" r="1.4" fill="#5a7a70"/>
<circle cx="410.2" cy="341.0" r="2.1" fill="#5a7a70"/>
<circle cx="511.7" cy="324.9" r="1.9" fill="#5a7a70"/>
<circle cx="492.2" cy="357.5" r="1.8" fill="#000"/>
<circle cx="499.9" cy="303.3" r="1.9" fill="#000"/>
<circle cx="452.5" cy="336.5" r="1.3" fill="#40608a"/>
<circle cx="503.8" cy="278.3" r="1.2" fill="#000"/>
<circle cx="447.5" cy="339.9" r="2.0" fill="#40608a"/>
<circle cx="507.3" cy="337.9" r="1.3" fill="#5a7a70"/>
<circle cx="485.4" cy="286.5" r="1.6" fill="#40608a"/>
<circle cx="471.4" cy="348.4" r="2.2" fill="#40608a"/>
<circle cx="495.4" cy="322.8" r="1.8" fill="#5a7a70"/>
<circle cx="488.3" cy="321.3" r="2.2" fill="#40608a"/>
<circle cx="414.1" cy="349.2" r="1.4" fill="#40608a"/>
<circle cx="428.4" cy="325.8" r="1.3" fill="#000"/>
<circle cx="430.6" cy="322.1" r="2.4" fill="#000"/>
<circle cx="477.6" cy="332.1" r="2.2" fill="#40608a"/>
<circle cx="410.4" cy="356.1" r="2.4" fill="#000"/>
<circle cx="517.9" cy="353.7" r="2.0" fill="#000"/>
<circle cx="506.1" cy="287.0" r="2.0" fill="#40608a"/>
<circle cx="485.9" cy="296.9" r="1.4" fill="#5a7a70"/>
<circle cx="481.4" cy="327.7" r="1.8" fill="#40608a"/>
<circle cx="488.8" cy="357.8" r="1.7" fill="#000"/>
<circle cx="445.3" cy="349.7" r="1.5" fill="#000"/>
<circle cx="508.2" cy="349.6" r="1.3" fill="#5a7a70"/>
<circle cx="431.4" cy="353.6" r="1.8" fill="#40608a"/>
<circle cx="484.0" cy="331.2" r="1.5" fill="#5a7a70"/>
<circle cx="500.8" cy="298.6" r="1.7" fill="#000"/>
<circle cx="476.3" cy="316.9" r="1.8" fill="#40608a"/>
<circle cx="516.8" cy="345.1" r="1.7" fill="#5a7a70"/>
<circle cx="459.6" cy="319.2" r="1.2" fill="#5a7a70"/>
<circle cx="418.7" cy="325.1" r="1.9" fill="#000"/>
<circle cx="517.4" cy="349.5" r="2.1" fill="#40608a"/>
<circle cx="464.1" cy="341.7" r="2.3" fill="#5a7a70"/>
<circle cx="411.4" cy="299.1" r="1.8" fill="#000"/>
<circle cx="428.8" cy="344.3" r="1.6" fill="#40608a"/>
<circle cx="509.7" cy="311.5" r="2.0" fill="#000"/>
<circle cx="508.8" cy="347.2" r="1.4" fill="#5a7a70"/>
<circle cx="456.2" cy="348.3" r="1.6" fill="#000"/>
<circle cx="417.2" cy="332.0" r="2.4" fill="#000"/>
<circle cx="468.6" cy="283.0" r="1.6" fill="#000"/>
<circle cx="443.7" cy="284.5" r="2.1" fill="#5a7a70"/>
<circle cx="490.4" cy="291.1" r="1.9" fill="#5a7a70"/>
<circle cx="512.2" cy="358.0" r="2.3" fill="#000"/>
<circle cx="420.7" cy="285.0" r="2.0" fill="#5a7a70"/>
<circle cx="418.1" cy="345.4" r="1.9" fill="#5a7a70"/>
<circle cx="504.6" cy="337.5" r="2.0" fill="#000"/>
<circle cx="513.2" cy="286.8" r="1.3" fill="#000"/>
<circle cx="458.6" cy="346.9" r="1.7" fill="#000"/>
<circle cx="510.4" cy="318.9" r="2.1" fill="#000"/>
<circle cx="418.5" cy="293.1" r="1.5" fill="#000"/>
<circle cx="451.1" cy="327.2" r="1.7" fill="#5a7a70"/>
<circle cx="495.6" cy="332.6" r="1.9" fill="#000"/>
<circle cx="437.2" cy="350.4" r="1.9" fill="#40608a"/>
<circle cx="479.4" cy="327.0" r="1.9" fill="#40608a"/>
<circle cx="425.9" cy="348.1" r="1.5" fill="#000"/>
<circle cx="487.7" cy="286.5" r="1.9" fill="#000"/>
<circle cx="428.3" cy="343.9" r="1.5" fill="#40608a"/>
<circle cx="485.6" cy="319.0" r="1.3" fill="#5a7a70"/>
<circle cx="416.8" cy="344.2" r="1.2" fill="#000"/>
<circle cx="477.5" cy="301.9" r="1.3" fill="#5a7a70"/>
<circle cx="503.2" cy="330.3" r="1.2" fill="#40608a"/>
<circle cx="427.9" cy="328.4" r="1.6" fill="#000"/>
<circle cx="442.1" cy="334.1" r="1.3" fill="#40608a"/>
<circle cx="413.2" cy="357.5" r="1.6" fill="#40608a"/>
<circle cx="416.0" cy="295.2" r="2.4" fill="#5a7a70"/>
<circle cx="432.3" cy="356.2" r="2.1" fill="#40608a"/>
<circle cx="419.7" cy="358.4" r="2.0" fill="#40608a"/>
<circle cx="497.4" cy="327.3" r="1.2" fill="#40608a"/>
<circle cx="424.6" cy="321.0" r="2.0" fill="#000"/>
<circle cx="469.0" cy="350.6" r="1.2" fill="#40608a"/>
<circle cx="441.6" cy="333.3" r="2.3" fill="#5a7a70"/>
<circle cx="425.4" cy="303.9" r="1.7" fill="#5a7a70"/>
<circle cx="435.4" cy="286.2" r="1.2" fill="#40608a"/>
<circle cx="475.1" cy="346.9" r="1.5" fill="#5a7a70"/>
<circle cx="423.9" cy="294.0" r="1.5" fill="#40608a"/>
<circle cx="455.6" cy="328.1" r="1.8" fill="#000"/>
<circle cx="499.9" cy="353.5" r="2.2" fill="#5a7a70"/>
<circle cx="433.2" cy="319.9" r="1.7" fill="#5a7a70"/>
<circle cx="505.6" cy="287.3" r="1.9" fill="#000"/>
<circle cx="432.6" cy="287.9" r="2.3" fill="#000"/>
<circle cx="451.3" cy="351.0" r="2.0" fill="#000"/>
<circle cx="461.5" cy="290.9" r="2.3" fill="#40608a"/>
<circle cx="468.9" cy="324.7" r="1.8" fill="#5a7a70"/>
<circle cx="468.7" cy="295.8" r="1.9" fill="#000"/>
<circle cx="480.5" cy="357.5" r="1.5" fill="#000"/>
<circle cx="474.2" cy="291.3" r="1.2" fill="#000"/>
<circle cx="467.5" cy="303.1" r="2.1" fill="#40608a"/>
<circle cx="477.9" cy="325.3" r="1.3" fill="#000"/>
<circle cx="432.6" cy="354.8" r="1.4" fill="#40608a"/>
<circle cx="468.0" cy="289.6" r="2.4" fill="#000"/>
<circle cx="497.2" cy="277.8" r="2.1" fill="#000"/>
<circle cx="496.1" cy="350.5" r="2.3" fill="#000"/>
<circle cx="479.7" cy="290.4" r="2.4" fill="#5a7a70"/>
<circle cx="490.2" cy="349.5" r="2.3" fill="#40608a"/>
<circle cx="411.9" cy="335.7" r="1.2" fill="#000"/>
<circle cx="448.0" cy="286.7" r="1.6" fill="#5a7a70"/>
<circle cx="490.8" cy="311.6" r="1.3" fill="#000"/>
<circle cx="462.2" cy="357.0" r="1.6" fill="#000"/>
<circle cx="431.6" cy="298.6" r="2.0" fill="#000"/>
<circle cx="436.2" cy="294.3" r="2.4" fill="#000"/>
<circle cx="462.9" cy="323.6" r="1.5" fill="#000"/>
<circle cx="489.9" cy="312.5" r="1.2" fill="#000"/>
<circle cx="517.1" cy="291.7" r="1.5" fill="#5a7a70"/>
<circle cx="458.5" cy="320.0" r="1.6" fill="#5a7a70"/>
<circle cx="491.0" cy="311.5" r="1.5" fill="#000"/>
<circle cx="513.7" cy="335.1" r="1.5" fill="#000"/>
<circle cx="431.8" cy="290.0" r="2.3" fill="#40608a"/>
<circle cx="431.9" cy="284.2" r="1.6" fill="#40608a"/>
<circle cx="448.9" cy="318.2" r="1.2" fill="#000"/>
<circle cx="437.6" cy="345.0" r="1.5" fill="#40608a"/>
<circle cx="434.6" cy="321.9" r="1.5" fill="#5a7a70"/>
<circle cx="434.9" cy="341.6" r="1.4" fill="#000"/>
<circle cx="415.1" cy="323.8" r="1.6" fill="#5a7a70"/>
<circle cx="414.2" cy="346.2" r="2.2" fill="#5a7a70"/>
<circle cx="510.5" cy="326.8" r="2.2" fill="#000"/>
<circle cx="467.8" cy="352.1" r="2.1" fill="#40608a"/>
<circle cx="476.5" cy="322.0" r="1.8" fill="#000"/>
<circle cx="488.7" cy="322.9" r="1.6" fill="#000"/>
<circle cx="479.0" cy="336.5" r="1.5" fill="#000"/>
<circle cx="508.2" cy="316.3" r="1.3" fill="#000"/>
<circle cx="481.3" cy="352.0" r="2.2" fill="#000"/>
<circle cx="432.2" cy="341.4" r="1.5" fill="#40608a"/>
<circle cx="471.8" cy="292.2" r="1.7" fill="#000"/>
<circle cx="440.8" cy="353.9" r="1.5" fill="#40608a"/>
<circle cx="466.7" cy="278.4" r="2.4" fill="#000"/>
<circle cx="481.8" cy="287.8" r="1.3" fill="#5a7a70"/>
<circle cx="454.6" cy="351.6" r="1.9" fill="#40608a"/>
<circle cx="456.3" cy="359.2" r="2.3" fill="#40608a"/>
<circle cx="512.2" cy="296.0" r="2.2" fill="#40608a"/>
<circle cx="479.8" cy="335.9" r="1.8" fill="#000"/>
<circle cx="508.9" cy="328.5" r="2.0" fill="#5a7a70"/>
<circle cx="489.7" cy="315.0" r="2.3" fill="#000"/>
<circle cx="419.0" cy="354.3" r="1.2" fill="#40608a"/>
<circle cx="494.9" cy="305.9" r="1.5" fill="#000"/>
<circle cx="481.6" cy="291.9" r="1.3" fill="#000"/>
<circle cx="468.2" cy="347.9" r="2.4" fill="#40608a"/>
<circle cx="476.3" cy="318.0" r="1.9" fill="#000"/>
<circle cx="465.5" cy="346.8" r="1.3" fill="#5a7a70"/>
<circle cx="493.0" cy="343.7" r="1.5" fill="#000"/>
<circle cx="491.2" cy="323.0" r="2.1" fill="#000"/>
<circle cx="511.4" cy="347.4" r="1.6" fill="#40608a"/>
<circle cx="495.9" cy="283.5" r="1.3" fill="#000"/>
<circle cx="432.9" cy="311.2" r="1.7" fill="#5a7a70"/>
<circle cx="447.7" cy="296.3" r="2.1" fill="#000"/>
<circle cx="479.6" cy="293.4" r="2.1" fill="#000"/>
<circle cx="411.9" cy="284.3" r="2.0" fill="#40608a"/>
<circle cx="517.3" cy="334.9" r="1.7" fill="#000"/>
<circle cx="435.1" cy="286.6" r="1.7" fill="#000"/>
<circle cx="443.3" cy="324.4" r="1.6" fill="#40608a"/>
<circle cx="418.4" cy="327.2" r="1.7" fill="#000"/>
<circle cx="495.8" cy="302.9" r="1.7" fill="#000"/>
<circle cx="449.9" cy="320.2" r="1.5" fill="#000"/>
<circle cx="442.4" cy="301.3" r="2.0" fill="#000"/>
<circle cx="517.4" cy="346.9" r="2.3" fill="#5a7a70"/>
<circle cx="477.1" cy="279.9" r="2.1" fill="#40608a"/>
<circle cx="447.0" cy="327.5" r="1.3" fill="#40608a"/>
<circle cx="496.1" cy="346.0" r="2.3" fill="#5a7a70"/>
<circle cx="513.8" cy="311.3" r="1.8" fill="#5a7a70"/>
<circle cx="508.7" cy="316.7" r="1.9" fill="#5a7a70"/>
<circle cx="410.9" cy="318.8" r="2.4" fill="#000"/>
<circle cx="427.8" cy="343.7" r="2.2" fill="#000"/>
<circle cx="442.0" cy="356.5" r="1.5" fill="#40608a"/>
<circle cx="481.7" cy="289.4" r="2.3" fill="#000"/>
<circle cx="475.3" cy="328.6" r="1.2" fill="#000"/>
<circle cx="493.4" cy="326.3" r="1.5" fill="#000"/>
<circle cx="433.3" cy="359.4" r="1.9" fill="#40608a"/>
<circle cx="512.6" cy="313.4" r="1.6" fill="#40608a"/>
<circle cx="518.4" cy="288.0" r="2.2" fill="#000"/>
<circle cx="432.1" cy="296.6" r="1.3" fill="#5a7a70"/>
<circle cx="417.9" cy="346.1" r="2.2" fill="#000"/>
<circle cx="421.4" cy="343.9" r="1.3" fill="#000"/>
<circle cx="478.8" cy="318.0" r="1.5" fill="#40608a"/>
<circle cx="517.5" cy="317.1" r="1.7" fill="#000"/>
<circle cx="517.3" cy="334.2" r="1.7" fill="#000"/>
<circle cx="428.3" cy="338.1" r="2.3" fill="#000"/>
<circle cx="438.7" cy="313.6" r="1.4" fill="#000"/>
<circle cx="490.5" cy="306.8" r="1.3" fill="#5a7a70"/>
<circle cx="509.4" cy="338.6" r="1.5" fill="#000"/>
<circle cx="444.9" cy="284.4" r="1.9" fill="#000"/>
<circle cx="455.2" cy="320.8" r="1.3" fill="#000"/>
<circle cx="421.5" cy="292.8" r="1.7" fill="#000"/>
<circle cx="509.4" cy="326.5" r="1.3" fill="#000"/>
<circle cx="422.9" cy="344.9" r="2.2" fill="#5a7a70"/>
<circle cx="471.2" cy="307.6" r="1.8" fill="#40608a"/>
<circle cx="504.5" cy="322.0" r="2.3" fill="#000"/>
<circle cx="432.2" cy="311.8" r="1.8" fill="#40608a"/>
<circle cx="481.5" cy="327.6" r="1.6" fill="#5a7a70"/>
<circle cx="425.5" cy="314.2" r="2.4" fill="#000"/>
<circle cx="443.8" cy="292.6" r="2.0" fill="#5a7a70"/>
<circle cx="499.2" cy="321.2" r="2.4" fill="#000"/>
<circle cx="459.1" cy="354.2" r="1.8" fill="#40608a"/>
<circle cx="481.8" cy="340.4" r="2.0" fill="#000"/>
<circle cx="436.7" cy="349.9" r="1.9" fill="#5a7a70"/>
<circle cx="478.5" cy="305.8" r="1.5" fill="#000"/>
<circle cx="471.3" cy="308.6" r="1.5" fill="#000"/>
<circle cx="419.1" cy="299.8" r="2.1" fill="#000"/>
<circle cx="420.4" cy="340.9" r="1.3" fill="#000"/>
<circle cx="457.4" cy="315.9" r="1.3" fill="#000"/>
<circle cx="443.5" cy="290.9" r="2.1" fill="#5a7a70"/>
</g><g filter="url(#fs)">
<ellipse cx="434.7" cy="289.6" rx="1.8" ry="1.1" fill="#a8f060" opacity="0.69" transform="rotate(-14 434.7 289.6)"/>
<ellipse cx="447.9" cy="290.1" rx="1.5" ry="1.1" fill="#a8f060" opacity="0.72" transform="rotate(47 447.9 290.1)"/>
<ellipse cx="449.5" cy="281.4" rx="2.0" ry="1.1" fill="#a8f060" opacity="0.95" transform="rotate(-43 449.5 281.4)"/>
<ellipse cx="461.0" cy="312.0" rx="1.7" ry="1.1" fill="#a8f060" opacity="0.97" transform="rotate(-8 461.0 312.0)"/>
<ellipse cx="501.8" cy="305.0" rx="2.0" ry="1.1" fill="#a8f060" opacity="0.73" transform="rotate(-56 501.8 305.0)"/>
<ellipse cx="448.8" cy="326.4" rx="1.6" ry="1.1" fill="#a8f060" opacity="0.95" transform="rotate(57 448.8 326.4)"/>
<ellipse cx="457.8" cy="342.7" rx="1.7" ry="1.1" fill="#a8f060" opacity="0.68" transform="rotate(49 457.8 342.7)"/>
<ellipse cx="420.2" cy="348.7" rx="1.5" ry="1.1" fill="#a8f060" opacity="0.83" transform="rotate(19 420.2 348.7)"/>
<ellipse cx="450.5" cy="357.3" rx="1.9" ry="1.1" fill="#a8f060" opacity="0.64" transform="rotate(-27 450.5 357.3)"/>
<ellipse cx="474.0" cy="322.5" rx="1.6" ry="1.1" fill="#a8f060" opacity="0.83" transform="rotate(26 474.0 322.5)"/>
<ellipse cx="479.7" cy="340.5" rx="1.5" ry="1.1" fill="#a8f060" opacity="0.73" transform="rotate(31 479.7 340.5)"/>
<ellipse cx="482.0" cy="354.0" rx="2.0" ry="1.1" fill="#a8f060" opacity="0.96" transform="rotate(30 482.0 354.0)"/>
<ellipse cx="513.4" cy="353.4" rx="1.7" ry="1.1" fill="#a8f060" opacity="0.74" transform="rotate(-66 513.4 353.4)"/>
<ellipse cx="469.6" cy="333.7" rx="1.8" ry="1.1" fill="#a8f060" opacity="0.73" transform="rotate(54 469.6 333.7)"/>
</g></g>
<text x="5" y="10.5" font-size="10.5" font-weight="bold" font-style="normal" text-anchor="start" fill="#000" >A</text>
<text x="5" y="279" font-size="10.5" font-weight="bold" font-style="normal" text-anchor="start" fill="#000" >B</text>
<text x="282" y="14" font-size="10.5" font-weight="bold" font-style="normal" text-anchor="start" fill="#000" >C</text>
<text x="282" y="175" font-size="10.5" font-weight="bold" font-style="normal" text-anchor="start" fill="#000" >D</text>
<text x="63" y="25.2" font-size="7.6" font-weight="bold" font-style="normal" text-anchor="middle" fill="#000" >Neutrophils</text>
<text x="27" y="37.1" font-size="7.2" font-weight="normal" font-style="normal" text-anchor="end" fill="#1a1a1a" >1.5</text>
<line x1="28.3" y1="34.6" x2="30.5" y2="34.6" stroke="#c8c8c8" stroke-width="0.7"/>
<text x="27" y="50.5" font-size="7.2" font-weight="normal" font-style="normal" text-anchor="end" fill="#1a1a1a" >1.0</text>
<line x1="28.3" y1="48" x2="30.5" y2="48" stroke="#c8c8c8" stroke-width="0.7"/>
<text x="27" y="64.1" font-size="7.2" font-weight="normal" font-style="normal" text-anchor="end" fill="#1a1a1a" >0.5</text>
<line x1="28.3" y1="61.6" x2="30.5" y2="61.6" stroke="#c8c8c8" stroke-width="0.7"/>
<line x1="30.5" y1="32" x2="30.5" y2="72.4" stroke="#c8c8c8" stroke-width="0.8"/>
<rect x="37.5" y="71" width="13.0" height="1.4000000000000057" fill="url(#gg)" stroke="#b4b4b4" stroke-width="0.6" />
<line x1="44.0" y1="70.5" x2="44.0" y2="71" stroke="#2a2a2a" stroke-width="0.8"/>
<path d="M42.40,69.00 L45.60,69.00 L44.40,70.80 L43.60,70.80 Z" fill="#2a2a2a"/>
<rect x="50.5" y="45.3" width="13.0" height="27.10000000000001" fill="url(#gr)" stroke="#6d080a" stroke-width="0.7" />
<rect x="51.5" y="45.9" width="11.0" height="1.5399999999999991" fill="#b8343a" stroke="none" stroke-width="0" opacity="0.7"/>
<line x1="57.0" y1="43" x2="57.0" y2="45.3" stroke="#2a2a2a" stroke-width="0.8"/>
<path d="M55.40,41.50 L58.60,41.50 L57.40,43.30 L56.60,43.30 Z" fill="#2a2a2a"/>
<circle cx="57.0" cy="37" r="0.9" fill="#222"/>
<rect x="73" y="70.6" width="12.5" height="1.8000000000000114" fill="url(#gg)" stroke="#b4b4b4" stroke-width="0.6" />
<line x1="79.25" y1="67" x2="79.25" y2="70.6" stroke="#2a2a2a" stroke-width="0.8"/>
<path d="M77.65,65.50 L80.85,65.50 L79.65,67.30 L78.85,67.30 Z" fill="#2a2a2a"/>
<rect x="85.5" y="60" width="13.0" height="12.400000000000006" fill="url(#gr)" stroke="#6d080a" stroke-width="0.7" />
<rect x="86.5" y="60.6" width="11.0" height="1.5399999999999991" fill="#b8343a" stroke="none" stroke-width="0" opacity="0.7"/>
<line x1="92.0" y1="59.3" x2="92.0" y2="60" stroke="#2a2a2a" stroke-width="0.8"/>
<path d="M90.40,57.80 L93.60,57.80 L92.40,59.60 L91.60,59.60 Z" fill="#2a2a2a"/>
<circle cx="92.0" cy="51.8" r="0.9" fill="#222"/>
<text x="92.0" y="48.08" font-size="8" font-family="Liberation Serif" text-anchor="middle" fill="#222" stroke="#222" stroke-width="0.25">δ</text>
<line x1="30" y1="72.4" x2="112" y2="72.4" stroke="#000" stroke-width="1.8"/>
<path d="M37.6,74.4 L37.6,79 L63,79 L63,74.4" stroke="#000" stroke-width="1.1" fill="none"/>
<path d="M73,74.4 L73,79 L98.5,79 L98.5,74.4" stroke="#000" stroke-width="1.1" fill="none"/>
<text x="50" y="86.5" font-size="7.5" font-weight="bold" font-style="italic" text-anchor="middle" fill="#000">Eng<tspan font-size="4.5" dy="-3.00">+/+</tspan></text>
<text x="87.5" y="86.5" font-size="7.5" font-weight="bold" font-style="italic" text-anchor="middle" fill="#000">Eng<tspan font-size="4.5" dy="-3.00">+/-</tspan></text>
<text x="0" y="0" font-size="8.4" text-anchor="middle" fill="#111" transform="translate(4.9,50.5) rotate(-90) scale(1,0.88)" dominant-baseline="central">Cell # (x10<tspan font-size="5.21" dy="-2.94">6</tspan><tspan dy="2.94">)</tspan></text>
<text x="69" y="107.5" font-size="7.6" font-weight="bold" font-style="normal" text-anchor="middle" fill="#000" >Basophils</text>
<text x="26.5" y="117.5" font-size="7.2" font-weight="normal" font-style="normal" text-anchor="end" fill="#1a1a1a" >0.5</text>
<line x1="27.3" y1="115" x2="29.5" y2="115" stroke="#c8c8c8" stroke-width="0.7"/>
<text x="26.5" y="136.1" font-size="7.2" font-weight="normal" font-style="normal" text-anchor="end" fill="#1a1a1a" >0.3</text>
<line x1="27.3" y1="133.6" x2="29.5" y2="133.6" stroke="#c8c8c8" stroke-width="0.7"/>
<text x="26.5" y="153.0" font-size="7.2" font-weight="normal" font-style="normal" text-anchor="end" fill="#1a1a1a" >0.1</text>
<line x1="27.3" y1="150.5" x2="29.5" y2="150.5" stroke="#c8c8c8" stroke-width="0.7"/>
<line x1="29.5" y1="114" x2="29.5" y2="160" stroke="#c8c8c8" stroke-width="0.8"/>
<rect x="33.5" y="153.8" width="13.0" height="6.199999999999989" fill="url(#gg)" stroke="#b4b4b4" stroke-width="0.6" />
<rect x="34.3" y="154.3" width="11.400000000000006" height="2.1999999999999886" fill="#f4f4f4" stroke="none" stroke-width="0" opacity="0.9"/>
<line x1="40.0" y1="152.8" x2="40.0" y2="153.8" stroke="#2a2a2a" stroke-width="0.8"/>
<path d="M38.40,151.30 L41.60,151.30 L40.40,153.10 L39.60,153.10 Z" fill="#2a2a2a"/>
<rect x="46.5" y="128.7" width="13.0" height="31.30000000000001" fill="url(#gr)" stroke="#6d080a" stroke-width="0.7" />
<rect x="47.5" y="129.29999999999998" width="11.0" height="1.539999999999992" fill="#b8343a" stroke="none" stroke-width="0" opacity="0.7"/>
<line x1="53.0" y1="125" x2="53.0" y2="128.7" stroke="#2a2a2a" stroke-width="0.8"/>
<path d="M51.40,123.50 L54.60,123.50 L53.40,125.30 L52.60,125.30 Z" fill="#2a2a2a"/>
<circle cx="53.0" cy="118" r="0.9" fill="#222"/>
<rect x="72.5" y="156.7" width="13.0" height="3.3000000000000114" fill="url(#gg)" stroke="#b4b4b4" stroke-width="0.6" />
<rect x="73.3" y="157.2" width="11.400000000000006" height="1.3199999999999932" fill="#f4f4f4" stroke="none" stroke-width="0" opacity="0.9"/>
<line x1="79.0" y1="155.5" x2="79.0" y2="156.7" stroke="#2a2a2a" stroke-width="0.8"/>
<path d="M77.40,154.00 L80.60,154.00 L79.40,155.80 L78.60,155.80 Z" fill="#2a2a2a"/>
<rect x="85.5" y="154.5" width="12.5" height="5.5" fill="url(#gr)" stroke="#6d080a" stroke-width="0.7" />
<rect x="86.5" y="155.1" width="10.5" height="1.539999999999992" fill="#b8343a" stroke="none" stroke-width="0" opacity="0.7"/>
<line x1="91.75" y1="152" x2="91.75" y2="154.5" stroke="#2a2a2a" stroke-width="0.8"/>
<path d="M90.15,150.50 L93.35,150.50 L92.15,152.30 L91.35,152.30 Z" fill="#2a2a2a"/>
<circle cx="91.75" cy="145.5" r="0.9" fill="#222"/>
<text x="91.75" y="139.88" font-size="8" font-family="Liberation Serif" text-anchor="middle" fill="#222" stroke="#222" stroke-width="0.25">δ</text>
<line x1="30" y1="160" x2="110" y2="160" stroke="#000" stroke-width="1.8"/>
<path d="M31.5,162.5 L31.5,167.5 L60.5,167.5 L60.5,162.5" stroke="#000" stroke-width="1.1" fill="none"/>
<path d="M71,162.5 L71,167.5 L101.5,167.5 L101.5,162.5" stroke="#000" stroke-width="1.1" fill="none"/>
<text x="49.5" y="176" font-size="7.5" font-weight="bold" font-style="italic" text-anchor="middle" fill="#000">Eng<tspan font-size="4.5" dy="-3.00">+/+</tspan></text>
<text x="89" y="176" font-size="7.5" font-weight="bold" font-style="italic" text-anchor="middle" fill="#000">Eng<tspan font-size="4.5" dy="-3.00">+/-</tspan></text>
<text x="0" y="0" font-size="8.4" text-anchor="middle" fill="#111" transform="translate(4.6,136.5) rotate(-90) scale(1,0.88)" dominant-baseline="central">Cell # (x10<tspan font-size="5.21" dy="-2.94">6</tspan><tspan dy="2.94">)</tspan></text>
<text x="63.5" y="198" font-size="7.6" font-weight="bold" font-style="normal" text-anchor="middle" fill="#000" >Eosinophils</text>
<text x="28" y="208.1" font-size="7.2" font-weight="normal" font-style="normal" text-anchor="end" fill="#1a1a1a" >1.5</text>
<line x1="28.3" y1="205.6" x2="30.5" y2="205.6" stroke="#c8c8c8" stroke-width="0.7"/>
<text x="28" y="222.1" font-size="7.2" font-weight="normal" font-style="normal" text-anchor="end" fill="#1a1a1a" >1.0</text>
<line x1="28.3" y1="219.6" x2="30.5" y2="219.6" stroke="#c8c8c8" stroke-width="0.7"/>
<text x="28" y="235.0" font-size="7.2" font-weight="normal" font-style="normal" text-anchor="end" fill="#1a1a1a" >0.5</text>
<line x1="28.3" y1="232.5" x2="30.5" y2="232.5" stroke="#c8c8c8" stroke-width="0.7"/>
<line x1="30.5" y1="204" x2="30.5" y2="246" stroke="#c8c8c8" stroke-width="0.8"/>
<rect x="37.4" y="244" width="13.399999999999999" height="2" fill="url(#gg)" stroke="#b4b4b4" stroke-width="0.6" />
<line x1="44.099999999999994" y1="241.5" x2="44.099999999999994" y2="244" stroke="#2a2a2a" stroke-width="0.8"/>
<path d="M42.50,240.00 L45.70,240.00 L44.50,241.80 L43.70,241.80 Z" fill="#2a2a2a"/>
<rect x="50.8" y="217" width="12.600000000000001" height="29" fill="url(#gr)" stroke="#6d080a" stroke-width="0.7" />
<rect x="51.8" y="217.6" width="10.600000000000001" height="1.539999999999992" fill="#b8343a" stroke="none" stroke-width="0" opacity="0.7"/>
<line x1="57.099999999999994" y1="212" x2="57.099999999999994" y2="217" stroke="#2a2a2a" stroke-width="0.8"/>
<path d="M55.50,210.50 L58.70,210.50 L57.50,212.30 L56.70,212.30 Z" fill="#2a2a2a"/>
<circle cx="57.099999999999994" cy="206" r="0.9" fill="#222"/>
<rect x="75.7" y="244" width="13.299999999999997" height="2" fill="url(#gg)" stroke="#b4b4b4" stroke-width="0.6" />
<line x1="82.35" y1="241.5" x2="82.35" y2="244" stroke="#2a2a2a" stroke-width="0.8"/>
<path d="M80.75,240.00 L83.95,240.00 L82.75,241.80 L81.95,241.80 Z" fill="#2a2a2a"/>
<rect x="89.5" y="226" width="13.0" height="20" fill="url(#gr)" stroke="#6d080a" stroke-width="0.7" />
<rect x="90.5" y="226.6" width="11.0" height="1.539999999999992" fill="#b8343a" stroke="none" stroke-width="0" opacity="0.7"/>
<line x1="96.0" y1="225.3" x2="96.0" y2="226" stroke="#2a2a2a" stroke-width="0.8"/>
<path d="M94.40,223.80 L97.60,223.80 L96.40,225.60 L95.60,225.60 Z" fill="#2a2a2a"/>
<circle cx="96.0" cy="218.5" r="0.9" fill="#222"/>
<line x1="30.5" y1="246" x2="112" y2="246" stroke="#000" stroke-width="1.8"/>
<path d="M35.5,247.7 L35.5,252.5 L65.5,252.5 L65.5,247.7" stroke="#000" stroke-width="1.1" fill="none"/>
<path d="M74.3,247.7 L74.3,252.5 L105.6,252.5 L105.6,247.7" stroke="#000" stroke-width="1.1" fill="none"/>
<text x="50" y="260.4" font-size="7.5" font-weight="bold" font-style="italic" text-anchor="middle" fill="#000">Eng<tspan font-size="4.5" dy="-3.00">+/+</tspan></text>
<text x="89.5" y="260.4" font-size="7.5" font-weight="bold" font-style="italic" text-anchor="middle" fill="#000">Eng<tspan font-size="4.5" dy="-3.00">+/-</tspan></text>
<text x="0" y="0" font-size="8.4" text-anchor="middle" fill="#111" transform="translate(4.5,223.5) rotate(-90) scale(1,0.88)" dominant-baseline="central">Cell # (x10<tspan font-size="5.21" dy="-2.94">6</tspan><tspan dy="2.94">)</tspan></text>
<text x="205.5" y="84.5" font-size="7.6" font-weight="bold" font-style="normal" text-anchor="middle" fill="#000" >Lymphocytes</text>
<text x="161.5" y="101.2" font-size="9" font-weight="normal" font-style="normal" text-anchor="end" fill="#1a1a1a" >20</text>
<line x1="161.0" y1="98.7" x2="163.2" y2="98.7" stroke="#c8c8c8" stroke-width="0.7"/>
<text x="161.5" y="121.7" font-size="9" font-weight="normal" font-style="normal" text-anchor="end" fill="#1a1a1a" >10</text>
<line x1="161.0" y1="119.2" x2="163.2" y2="119.2" stroke="#c8c8c8" stroke-width="0.7"/>
<line x1="163.2" y1="95.6" x2="163.2" y2="136.6" stroke="#c8c8c8" stroke-width="0.8"/>
<rect x="168" y="128.7" width="12.599999999999994" height="7.900000000000006" fill="url(#gg)" stroke="#b4b4b4" stroke-width="0.6" />
<rect x="168.8" y="129.2" width="10.999999999999972" height="2.1999999999999886" fill="#f4f4f4" stroke="none" stroke-width="0" opacity="0.9"/>
<line x1="174.3" y1="128.3" x2="174.3" y2="128.7" stroke="#2a2a2a" stroke-width="0.8"/>
<path d="M172.70,126.80 L175.90,126.80 L174.70,128.60 L173.90,128.60 Z" fill="#2a2a2a"/>
<rect x="180.6" y="105.9" width="12.700000000000017" height="30.69999999999999" fill="url(#gr)" stroke="#6d080a" stroke-width="0.7" />
<rect x="181.6" y="106.5" width="10.700000000000017" height="1.5400000000000063" fill="#b8343a" stroke="none" stroke-width="0" opacity="0.7"/>
<line x1="186.95" y1="104.2" x2="186.95" y2="105.9" stroke="#2a2a2a" stroke-width="0.8"/>
<path d="M185.35,102.70 L188.55,102.70 L187.35,104.50 L186.55,104.50 Z" fill="#2a2a2a"/>
<circle cx="186.95" cy="96.6" r="0.9" fill="#222"/>
<rect x="205.6" y="130.6" width="13.900000000000006" height="6.0" fill="url(#gg)" stroke="#b4b4b4" stroke-width="0.6" />
<rect x="206.4" y="131.1" width="12.299999999999983" height="2.1999999999999886" fill="#f4f4f4" stroke="none" stroke-width="0" opacity="0.9"/>
<line x1="212.55" y1="128" x2="212.55" y2="130.6" stroke="#2a2a2a" stroke-width="0.8"/>
<path d="M210.95,126.50 L214.15,126.50 L212.95,128.30 L212.15,128.30 Z" fill="#2a2a2a"/>
<rect x="219.5" y="120.6" width="13.0" height="16.0" fill="url(#gr)" stroke="#6d080a" stroke-width="0.7" />
<rect x="220.5" y="121.19999999999999" width="11.0" height="1.5400000000000063" fill="#b8343a" stroke="none" stroke-width="0" opacity="0.7"/>
<line x1="226.0" y1="118" x2="226.0" y2="120.6" stroke="#2a2a2a" stroke-width="0.8"/>
<path d="M224.40,116.50 L227.60,116.50 L226.40,118.30 L225.60,118.30 Z" fill="#2a2a2a"/>
<circle cx="226.0" cy="111" r="0.9" fill="#222"/>
<text x="226.0" y="107.88" font-size="8" font-family="Liberation Serif" text-anchor="middle" fill="#222" stroke="#222" stroke-width="0.25">δ</text>
<line x1="164.4" y1="136.6" x2="242.5" y2="136.6" stroke="#000" stroke-width="1.8"/>
<path d="M167,139.5 L167,144 L194,144 L194,139.5" stroke="#000" stroke-width="1.1" fill="none"/>
<path d="M206,139.5 L206,144 L232.5,144 L232.5,139.5" stroke="#000" stroke-width="1.1" fill="none"/>
<text x="182" y="153" font-size="7.5" font-weight="bold" font-style="italic" text-anchor="middle" fill="#000">Eng<tspan font-size="4.5" dy="-3.00">+/+</tspan></text>
<text x="220" y="153" font-size="7.5" font-weight="bold" font-style="italic" text-anchor="middle" fill="#000">Eng<tspan font-size="4.5" dy="-3.00">+/-</tspan></text>
<text x="0" y="0" font-size="8.8" text-anchor="middle" fill="#111" transform="translate(143.4,116.5) rotate(-90) scale(1,0.88)" dominant-baseline="central">Cell # (x10<tspan font-size="5.46" dy="-3.08">6</tspan><tspan dy="3.08">)</tspan></text>
<text x="205.3" y="195" font-size="7.6" font-weight="bold" font-style="normal" text-anchor="middle" fill="#000" >Monocytes</text>
<text x="161" y="203.4" font-size="7.5" font-weight="normal" font-style="normal" text-anchor="end" fill="#1a1a1a" >0.4</text>
<line x1="160.4" y1="200.9" x2="162.6" y2="200.9" stroke="#c8c8c8" stroke-width="0.7"/>
<text x="161" y="224.9" font-size="7.5" font-weight="normal" font-style="normal" text-anchor="end" fill="#1a1a1a" >0.2</text>
<line x1="160.4" y1="222.4" x2="162.6" y2="222.4" stroke="#c8c8c8" stroke-width="0.7"/>
<line x1="162.6" y1="198.8" x2="162.6" y2="244.3" stroke="#c8c8c8" stroke-width="0.8"/>
<rect x="171" y="243.8" width="13.699999999999989" height="0.5" fill="url(#gg)" stroke="#b4b4b4" stroke-width="0.6" />
<rect x="184.7" y="211.5" width="13.300000000000011" height="32.80000000000001" fill="url(#gr)" stroke="#6d080a" stroke-width="0.7" />
<rect x="185.7" y="212.1" width="11.300000000000011" height="1.539999999999992" fill="#b8343a" stroke="none" stroke-width="0" opacity="0.7"/>
<line x1="191.35" y1="210.7" x2="191.35" y2="211.5" stroke="#2a2a2a" stroke-width="0.8"/>
<path d="M189.75,209.20 L192.95,209.20 L191.75,211.00 L190.95,211.00 Z" fill="#2a2a2a"/>
<circle cx="191.35" cy="203.2" r="0.9" fill="#222"/>
<rect x="206" y="243.8" width="13.400000000000006" height="0.5" fill="url(#gg)" stroke="#b4b4b4" stroke-width="0.6" />
<rect x="219.4" y="236.2" width="13.199999999999989" height="8.100000000000023" fill="url(#gr)" stroke="#6d080a" stroke-width="0.7" />
<rect x="220.4" y="236.79999999999998" width="11.199999999999989" height="1.539999999999992" fill="#b8343a" stroke="none" stroke-width="0" opacity="0.7"/>
<line x1="226.0" y1="233.6" x2="226.0" y2="236.2" stroke="#2a2a2a" stroke-width="0.8"/>
<path d="M224.40,232.10 L227.60,232.10 L226.40,233.90 L225.60,233.90 Z" fill="#2a2a2a"/>
<circle cx="226.0" cy="226.8" r="0.9" fill="#222"/>
<text x="226.0" y="220.88" font-size="8" font-family="Liberation Serif" text-anchor="middle" fill="#222" stroke="#222" stroke-width="0.25">δ</text>
<line x1="162.6" y1="244.3" x2="246.5" y2="244.3" stroke="#000" stroke-width="1.8"/>
<path d="M170.6,247.4 L170.6,251.8 L200.9,251.8 L200.9,247.4" stroke="#000" stroke-width="1.1" fill="none"/>
<path d="M206,247.4 L206,251.8 L235.3,251.8 L235.3,247.4" stroke="#000" stroke-width="1.1" fill="none"/>
<text x="185.7" y="261" font-size="7.5" font-weight="bold" font-style="italic" text-anchor="middle" fill="#000">Eng<tspan font-size="4.5" dy="-3.00">+/+</tspan></text>
<text x="223" y="261" font-size="7.5" font-weight="bold" font-style="italic" text-anchor="middle" fill="#000">Eng<tspan font-size="4.5" dy="-3.00">+/-</tspan></text>
<text x="0" y="0" font-size="8.2" text-anchor="middle" fill="#111" transform="translate(143,220) rotate(-90) scale(1,0.88)" dominant-baseline="central">Cell # (x10<tspan font-size="5.08" dy="-2.87">6</tspan><tspan dy="2.87">)</tspan></text>
<rect x="168.5" y="27" width="12.099999999999994" height="8.200000000000003" fill="url(#gg)" stroke="#aaa" stroke-width="0.6" />
<text x="186" y="33" font-size="7.5" font-weight="bold" font-style="normal" text-anchor="start" fill="#000" >Untreated</text>
<rect x="168.5" y="44.8" width="12.099999999999994" height="8.300000000000004" fill="url(#gr)" stroke="#6d0a0e" stroke-width="0.6" />
<text x="184" y="52.3" font-size="7.7" font-weight="bold" font-style="normal" text-anchor="start" fill="#000" >+ Carrageenan</text>
<text x="30" y="286" font-size="7.6" font-weight="bold" font-style="normal" text-anchor="start" fill="#000" >TLC in peritoneal liquid (x10<tspan font-size="5" dy="-3">6</tspan><tspan dy="3">)</tspan></text>
<text x="0" y="0" font-size="7.6" font-weight="bold" font-style="normal" text-anchor="middle" fill="#000" ></text>
<text x="29.5" y="296.1" font-size="8" font-weight="normal" font-style="normal" text-anchor="end" fill="#1a1a1a" >25</text>
<line x1="29.8" y1="293.6" x2="32" y2="293.6" stroke="#c8c8c8" stroke-width="0.7"/>
<text x="29.5" y="308.5" font-size="8" font-weight="normal" font-style="normal" text-anchor="end" fill="#1a1a1a" >20</text>
<line x1="29.8" y1="306" x2="32" y2="306" stroke="#c8c8c8" stroke-width="0.7"/>
<text x="29.5" y="321.1" font-size="8" font-weight="normal" font-style="normal" text-anchor="end" fill="#1a1a1a" >15</text>
<line x1="29.8" y1="318.6" x2="32" y2="318.6" stroke="#c8c8c8" stroke-width="0.7"/>
<text x="29.5" y="333.0" font-size="8" font-weight="normal" font-style="normal" text-anchor="end" fill="#1a1a1a" >10</text>
<line x1="29.8" y1="330.5" x2="32" y2="330.5" stroke="#c8c8c8" stroke-width="0.7"/>
<text x="29.5" y="346.1" font-size="8" font-weight="normal" font-style="normal" text-anchor="end" fill="#1a1a1a" >5</text>
<line x1="29.8" y1="343.6" x2="32" y2="343.6" stroke="#c8c8c8" stroke-width="0.7"/>
<line x1="32" y1="290.8" x2="32" y2="355.5" stroke="#c8c8c8" stroke-width="0.8"/>
<rect x="38.9" y="342.8" width="13.899999999999999" height="12.699999999999989" fill="url(#gg)" stroke="#b4b4b4" stroke-width="0.6" />
<rect x="39.699999999999996" y="343.3" width="12.300000000000004" height="2.1999999999999886" fill="#f4f4f4" stroke="none" stroke-width="0" opacity="0.9"/>
<line x1="45.849999999999994" y1="341" x2="45.849999999999994" y2="342.8" stroke="#2a2a2a" stroke-width="0.8"/>
<path d="M44.25,339.50 L47.45,339.50 L46.25,341.30 L45.45,341.30 Z" fill="#2a2a2a"/>
<rect x="52.8" y="307.5" width="12.5" height="48.0" fill="url(#gr)" stroke="#6d080a" stroke-width="0.7" />
<rect x="53.8" y="308.1" width="10.5" height="1.5400000000000205" fill="#b8343a" stroke="none" stroke-width="0" opacity="0.7"/>
<line x1="59.05" y1="302" x2="59.05" y2="307.5" stroke="#2a2a2a" stroke-width="0.8"/>
<path d="M57.45,300.50 L60.65,300.50 L59.45,302.30 L58.65,302.30 Z" fill="#2a2a2a"/>
<circle cx="59.05" cy="297.8" r="0.9" fill="#222"/>
<rect x="73.6" y="344.4" width="13.900000000000006" height="11.100000000000023" fill="url(#gg)" stroke="#b4b4b4" stroke-width="0.6" />
<rect x="74.39999999999999" y="344.9" width="12.300000000000011" height="2.1999999999999886" fill="#f4f4f4" stroke="none" stroke-width="0" opacity="0.9"/>
<line x1="80.55" y1="343" x2="80.55" y2="344.4" stroke="#2a2a2a" stroke-width="0.8"/>
<path d="M78.95,341.50 L82.15,341.50 L80.95,343.30 L80.15,343.30 Z" fill="#2a2a2a"/>
<rect x="87.5" y="328.9" width="12.5" height="26.600000000000023" fill="url(#gr)" stroke="#6d080a" stroke-width="0.7" />
<rect x="88.5" y="329.5" width="10.5" height="1.5400000000000205" fill="#b8343a" stroke="none" stroke-width="0" opacity="0.7"/>
<line x1="93.75" y1="325.7" x2="93.75" y2="328.9" stroke="#2a2a2a" stroke-width="0.8"/>
<path d="M92.15,324.20 L95.35,324.20 L94.15,326.00 L93.35,326.00 Z" fill="#2a2a2a"/>
<circle cx="93.75" cy="320.5" r="0.9" fill="#222"/>
<text x="93.75" y="315.88" font-size="8" font-family="Liberation Serif" text-anchor="middle" fill="#222" stroke="#222" stroke-width="0.25">δ</text>
<line x1="32" y1="355.5" x2="118" y2="355.5" stroke="#000" stroke-width="1.8"/>
<path d="M37.5,358.3 L37.5,363 L65.3,363 L65.3,358.3" stroke="#000" stroke-width="1.1" fill="none"/>
<path d="M74.4,358.3 L74.4,363 L101.4,363 L101.4,358.3" stroke="#000" stroke-width="1.1" fill="none"/>
<text x="51.7" y="371" font-size="7.5" font-weight="bold" font-style="italic" text-anchor="middle" fill="#000">Eng<tspan font-size="4.5" dy="-3.00">+/+</tspan></text>
<text x="88.5" y="371" font-size="7.5" font-weight="bold" font-style="italic" text-anchor="middle" fill="#000">Eng<tspan font-size="4.5" dy="-3.00">+/-</tspan></text>
<text x="0" y="0" font-size="8.6" font-weight="normal" text-anchor="middle" fill="#111" transform="translate(12.2,319.5) rotate(-90)" dominant-baseline="central">Cell &#160;#</text>
<text x="197" y="286" font-size="7.6" font-weight="bold" font-style="normal" text-anchor="middle" fill="#000" >TLC in blood (10<tspan font-size="5" dy="-3">3</tspan><tspan dy="3">/µL)</tspan></text>
<text x="0" y="0" font-size="7.6" font-weight="bold" font-style="normal" text-anchor="middle" fill="#000" ></text>
<text x="157.3" y="299.5" font-size="7.8" font-weight="normal" font-style="normal" text-anchor="end" fill="#1a1a1a" >9.0</text>
<line x1="158.20000000000002" y1="297" x2="160.4" y2="297" stroke="#c8c8c8" stroke-width="0.7"/>
<text x="157.3" y="312.9" font-size="7.8" font-weight="normal" font-style="normal" text-anchor="end" fill="#1a1a1a" >7.0</text>
<line x1="158.20000000000002" y1="310.4" x2="160.4" y2="310.4" stroke="#c8c8c8" stroke-width="0.7"/>
<text x="157.3" y="326.2" font-size="7.8" font-weight="normal" font-style="normal" text-anchor="end" fill="#1a1a1a" >5.0</text>
<line x1="158.20000000000002" y1="323.7" x2="160.4" y2="323.7" stroke="#c8c8c8" stroke-width="0.7"/>
<text x="157.3" y="339.9" font-size="7.8" font-weight="normal" font-style="normal" text-anchor="end" fill="#1a1a1a" >3.0</text>
<line x1="158.20000000000002" y1="337.4" x2="160.4" y2="337.4" stroke="#c8c8c8" stroke-width="0.7"/>
<text x="157.3" y="353.8" font-size="7.8" font-weight="normal" font-style="normal" text-anchor="end" fill="#1a1a1a" >1.0</text>
<line x1="158.20000000000002" y1="351.3" x2="160.4" y2="351.3" stroke="#c8c8c8" stroke-width="0.7"/>
<line x1="160.4" y1="294.5" x2="160.4" y2="355.4" stroke="#c8c8c8" stroke-width="0.8"/>
<rect x="164.5" y="320" width="13.400000000000006" height="35.39999999999998" fill="url(#gg)" stroke="#b4b4b4" stroke-width="0.6" />
<rect x="165.3" y="320.5" width="11.799999999999983" height="2.1999999999999886" fill="#f4f4f4" stroke="none" stroke-width="0" opacity="0.9"/>
<line x1="171.2" y1="318.9" x2="171.2" y2="320" stroke="#2a2a2a" stroke-width="0.8"/>
<path d="M169.60,317.40 L172.80,317.40 L171.60,319.20 L170.80,319.20 Z" fill="#2a2a2a"/>
<rect x="177.9" y="335.4" width="13.099999999999994" height="20.0" fill="url(#gr)" stroke="#6d080a" stroke-width="0.7" />
<rect x="178.9" y="336.0" width="11.099999999999994" height="1.5400000000000205" fill="#b8343a" stroke="none" stroke-width="0" opacity="0.7"/>
<line x1="184.45" y1="333.6" x2="184.45" y2="335.4" stroke="#2a2a2a" stroke-width="0.8"/>
<path d="M182.85,332.10 L186.05,332.10 L184.85,333.90 L184.05,333.90 Z" fill="#2a2a2a"/>
<circle cx="184.45" cy="327" r="0.9" fill="#222"/>
<rect x="200.4" y="304.4" width="13.0" height="51.0" fill="url(#gg)" stroke="#b4b4b4" stroke-width="0.6" />
<rect x="201.20000000000002" y="304.9" width="11.399999999999977" height="2.1999999999999886" fill="#f4f4f4" stroke="none" stroke-width="0" opacity="0.9"/>
<line x1="206.9" y1="303" x2="206.9" y2="304.4" stroke="#2a2a2a" stroke-width="0.8"/>
<path d="M205.30,301.50 L208.50,301.50 L207.30,303.30 L206.50,303.30 Z" fill="#2a2a2a"/>
<text x="206.9" y="298.40000000000003" font-size="8" font-weight="bold" font-style="style="stroke:#111;stroke-width:0.3"" text-anchor="middle" fill="#111" >#</text>
<rect x="213.4" y="325.1" width="12.599999999999994" height="30.299999999999955" fill="url(#gr)" stroke="#6d080a" stroke-width="0.7" />
<rect x="214.4" y="325.70000000000005" width="10.599999999999994" height="1.5400000000000205" fill="#b8343a" stroke="none" stroke-width="0" opacity="0.7"/>
<line x1="219.7" y1="322.5" x2="219.7" y2="325.1" stroke="#2a2a2a" stroke-width="0.8"/>
<path d="M218.10,321.00 L221.30,321.00 L220.10,322.80 L219.30,322.80 Z" fill="#2a2a2a"/>
<circle cx="219.7" cy="316.2" r="0.9" fill="#222"/>
<text x="219.7" y="311.38" font-size="8" font-family="Liberation Serif" text-anchor="middle" fill="#222" stroke="#222" stroke-width="0.25">δ</text>
<line x1="160.4" y1="355.4" x2="239.7" y2="355.4" stroke="#000" stroke-width="1.8"/>
<path d="M164,358.5 L164,362.7 L191.8,362.7 L191.8,358.5" stroke="#000" stroke-width="1.1" fill="none"/>
<path d="M199.9,358.5 L199.9,362.7 L227.2,362.7 L227.2,358.5" stroke="#000" stroke-width="1.1" fill="none"/>
<text x="178.5" y="370.5" font-size="7.5" font-weight="bold" font-style="italic" text-anchor="middle" fill="#000">Eng<tspan font-size="4.5" dy="-3.00">+/+</tspan></text>
<text x="214.6" y="370.5" font-size="7.5" font-weight="bold" font-style="italic" text-anchor="middle" fill="#000">Eng<tspan font-size="4.5" dy="-3.00">+/-</tspan></text>
<text x="0" y="0" font-size="8.4" font-weight="normal" text-anchor="middle" fill="#111" transform="translate(138,316.6) rotate(-90)" dominant-baseline="central">Cell &#160;#</text>
<text x="369" y="28.5" font-size="8.6" font-weight="bold" font-style="normal" text-anchor="middle" fill="#000" >Lung</text>
<text x="304" y="34.7" font-size="8" font-weight="normal" font-style="normal" text-anchor="end" fill="#222" >5</text>
<text x="304" y="77.7" font-size="8" font-weight="normal" font-style="normal" text-anchor="end" fill="#222" >3</text>
<text x="304" y="120.5" font-size="8" font-weight="normal" font-style="normal" text-anchor="end" fill="#222" >1</text>
<line x1="306.5" y1="31.7" x2="311" y2="31.7" stroke="#000" stroke-width="0.9"/>
<line x1="306.5" y1="53.2" x2="311" y2="53.2" stroke="#000" stroke-width="0.9"/>
<line x1="306.5" y1="74.7" x2="311" y2="74.7" stroke="#000" stroke-width="0.9"/>
<line x1="306.5" y1="96.1" x2="311" y2="96.1" stroke="#000" stroke-width="0.9"/>
<line x1="306.5" y1="117.5" x2="311" y2="117.5" stroke="#000" stroke-width="0.9"/>
<line x1="310.9" y1="31.2" x2="310.9" y2="140" stroke="#000" stroke-width="1.4"/>
<line x1="310.5" y1="139.7" x2="490.3" y2="139.7" stroke="#000" stroke-width="1.4"/>
<rect x="328.2" y="113.5" width="21.19999999999999" height="26.19999999999999" fill="url(#gg)" stroke="#b4b4b4" stroke-width="0.6" />
<rect x="329.0" y="114.0" width="19.599999999999966" height="2.200000000000003" fill="#f4f4f4" stroke="none" stroke-width="0" opacity="0.9"/>
<line x1="338.9" y1="111.3" x2="338.9" y2="113.5" stroke="#2a2a2a" stroke-width="0.8"/>
<path d="M337.30,109.80 L340.50,109.80 L339.30,111.60 L338.50,111.60 Z" fill="#2a2a2a"/>
<rect x="349.4" y="65.4" width="21.600000000000023" height="74.29999999999998" fill="url(#gn)" stroke="#4f7055" stroke-width="0.8" />
<rect x="350.4" y="66.0" width="19.600000000000023" height="2.200000000000003" fill="#a8c4ac" stroke="none" stroke-width="0" opacity="0.8"/>
<line x1="360.2" y1="63.3" x2="360.2" y2="65.4" stroke="#2a2a2a" stroke-width="0.8"/>
<path d="M358.60,61.80 L361.80,61.80 L360.60,63.60 L359.80,63.60 Z" fill="#2a2a2a"/>
<text x="361.5" y="52.825" font-size="9.75" font-weight="bold" font-style="normal" text-anchor="middle" fill="#111" >*</text>
<rect x="414.6" y="113.5" width="21.399999999999977" height="26.19999999999999" fill="url(#gg)" stroke="#b4b4b4" stroke-width="0.6" />
<rect x="415.40000000000003" y="114.0" width="19.799999999999955" height="2.200000000000003" fill="#f4f4f4" stroke="none" stroke-width="0" opacity="0.9"/>
<line x1="425.6" y1="111.3" x2="425.6" y2="113.5" stroke="#2a2a2a" stroke-width="0.8"/>
<path d="M424.00,109.80 L427.20,109.80 L426.00,111.60 L425.20,111.60 Z" fill="#2a2a2a"/>
<rect x="436" y="100.1" width="21.69999999999999" height="39.599999999999994" fill="url(#gn)" stroke="#4f7055" stroke-width="0.8" />
<rect x="437" y="100.69999999999999" width="19.69999999999999" height="2.200000000000003" fill="#a8c4ac" stroke="none" stroke-width="0" opacity="0.8"/>
<line x1="446.8" y1="95.2" x2="446.8" y2="100.1" stroke="#2a2a2a" stroke-width="0.8"/>
<path d="M445.20,93.70 L448.40,93.70 L447.20,95.50 L446.40,95.50 Z" fill="#2a2a2a"/>
<text x="446.8" y="89.525" font-size="9.75" font-weight="bold" font-style="normal" text-anchor="middle" fill="#111" >*</text>
<text x="446.8" y="77.58" font-size="8" font-family="Liberation Serif" text-anchor="middle" fill="#222" stroke="#222" stroke-width="0.25">δ</text>
<path d="M321.5,145 L321.5,148.8 L377.7,148.8 L377.7,145" stroke="#000" stroke-width="1.1" fill="none"/>
<path d="M408.7,145 L408.7,148.8 L466.2,148.8 L466.2,145" stroke="#000" stroke-width="1.1" fill="none"/>
<text x="351.5" y="158.3" font-size="8.5" font-weight="bold" font-style="italic" text-anchor="middle" fill="#000">Eng<tspan font-size="6" dy="-3.40">+/+</tspan></text>
<text x="439.5" y="158.3" font-size="8.5" font-weight="bold" font-style="italic" text-anchor="middle" fill="#000">Eng<tspan font-size="6" dy="-3.40">+/-</tspan></text>
<text x="0" y="0" font-size="8.2" font-weight="bold" text-anchor="middle" fill="#111" transform="translate(289.8,80) rotate(-90)" dominant-baseline="central">MPO/ min/ 10pg prot.</text>
<rect x="438" y="23.5" width="11.800000000000011" height="7.800000000000001" fill="url(#gg)" stroke="#aaa" stroke-width="0.6" />
<text x="454.7" y="29.8" font-size="8.4" font-weight="bold" font-style="normal" text-anchor="start" fill="#000" >Untreated</text>
<rect x="438" y="40.5" width="11.800000000000011" height="7.799999999999997" fill="url(#gn)" stroke="#4f7a55" stroke-width="0.6" />
<text x="452.7" y="48.8" font-size="8.4" font-weight="bold" font-style="normal" text-anchor="start" fill="#000" >+ LPS</text>
<text x="360" y="187" font-size="9" font-weight="bold" font-style="normal" text-anchor="middle" fill="#000" >Untreated</text>
<text x="458" y="187" font-size="9" font-weight="bold" font-style="normal" text-anchor="middle" fill="#000" >+ LPS</text>
<text x="0" y="0" font-size="8.4" font-weight="bold" font-style="italic" text-anchor="middle" fill="#000" transform="translate(292,228) rotate(-90)">Eng<tspan font-size="5" dy="-3">+/+</tspan></text>
<text x="0" y="0" font-size="8.4" font-weight="bold" font-style="italic" text-anchor="middle" fill="#000" transform="translate(292,309) rotate(-90)">Eng<tspan font-size="5" dy="-3">+/-</tspan></text>
</svg>
</body></html>
